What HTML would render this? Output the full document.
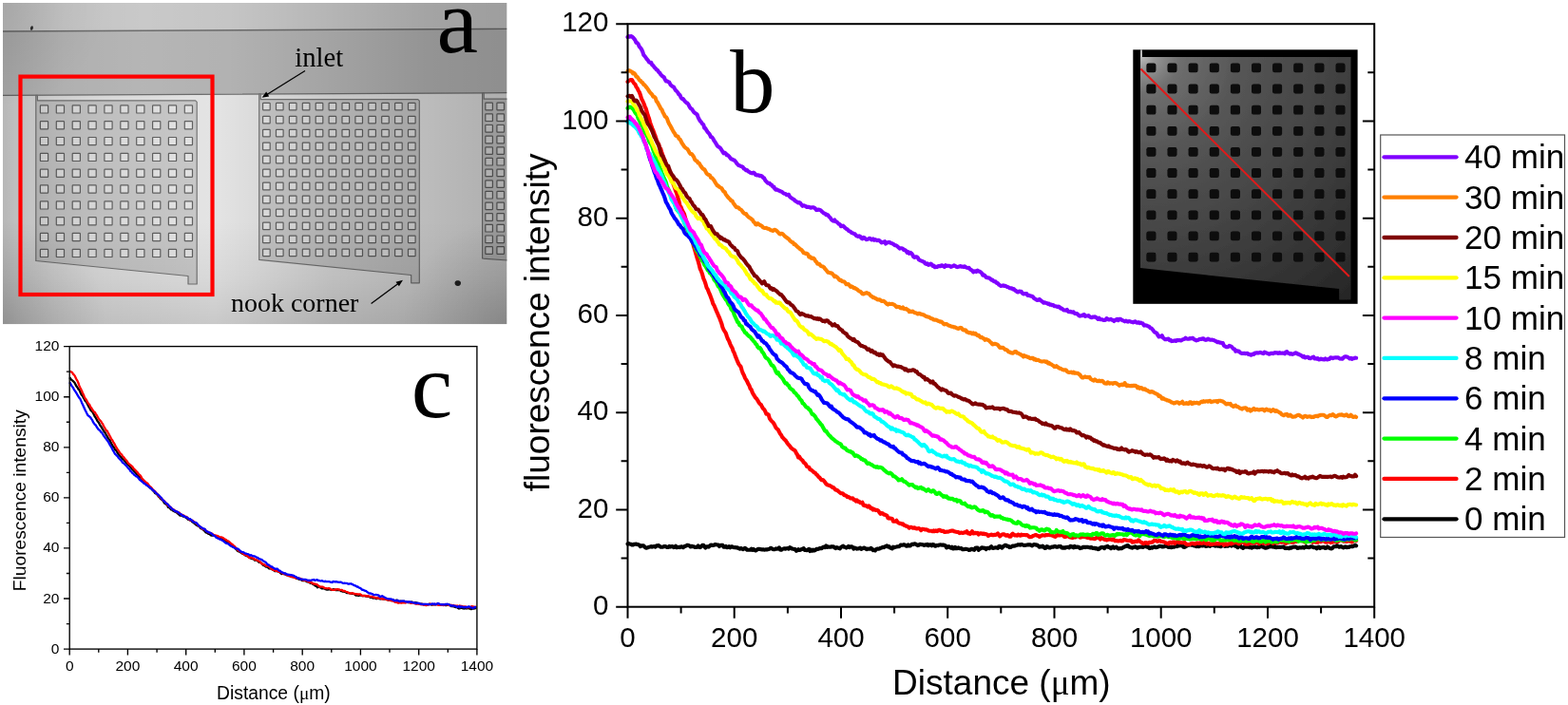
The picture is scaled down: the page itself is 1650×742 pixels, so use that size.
<!DOCTYPE html><html><head><meta charset="utf-8"><style>
html,body{margin:0;padding:0;background:#fff;}body{width:1650px;height:742px;overflow:hidden;}
svg{display:block;} .s{font-family:"Liberation Sans",Arial,sans-serif;} .r{font-family:"Liberation Serif","Times New Roman",serif;}
</style></head><body>
<svg width="1650" height="742" viewBox="0 0 1650 742">
<rect width="1650" height="742" fill="#fff"/>
<defs>
<clipPath id="pc"><rect x="3" y="3" width="530.5" height="338.3"/></clipPath>
<linearGradient id="illx" x1="3" y1="0" x2="533.5" y2="0" gradientUnits="userSpaceOnUse"><stop offset="0" stop-color="#000" stop-opacity="0.13"/><stop offset="0.12" stop-color="#000" stop-opacity="0.05"/><stop offset="0.28" stop-color="#000" stop-opacity="0.02"/><stop offset="0.45" stop-color="#000" stop-opacity="0.04"/><stop offset="0.56" stop-color="#000" stop-opacity="0.08"/><stop offset="0.7" stop-color="#000" stop-opacity="0.14"/><stop offset="0.84" stop-color="#000" stop-opacity="0.2"/><stop offset="1" stop-color="#000" stop-opacity="0.23"/></linearGradient>
<linearGradient id="illl" x1="3" y1="0" x2="533.5" y2="0" gradientUnits="userSpaceOnUse"><stop offset="0" stop-color="#000" stop-opacity="0.20"/><stop offset="0.03" stop-color="#000" stop-opacity="0.16"/><stop offset="0.1" stop-color="#000" stop-opacity="0.10"/><stop offset="0.2" stop-color="#000" stop-opacity="0.05"/><stop offset="0.42" stop-color="#000" stop-opacity="0.0"/><stop offset="0.5" stop-color="#000" stop-opacity="0.04"/><stop offset="0.65" stop-color="#000" stop-opacity="0.12"/><stop offset="0.85" stop-color="#000" stop-opacity="0.18"/><stop offset="1" stop-color="#000" stop-opacity="0.24"/></linearGradient>
<linearGradient id="illv" x1="0" y1="100" x2="0" y2="341.3" gradientUnits="userSpaceOnUse"><stop offset="0" stop-color="#000" stop-opacity="0"/><stop offset="0.55" stop-color="#000" stop-opacity="0.0"/><stop offset="0.8" stop-color="#000" stop-opacity="0.05"/><stop offset="1" stop-color="#000" stop-opacity="0.12"/></linearGradient>
<radialGradient id="cbl" cx="3" cy="341" r="110" gradientUnits="userSpaceOnUse"><stop offset="0" stop-color="#000" stop-opacity="0.10"/><stop offset="1" stop-color="#000" stop-opacity="0"/></radialGradient>
<radialGradient id="cbr" cx="533" cy="341" r="110" gradientUnits="userSpaceOnUse"><stop offset="0" stop-color="#000" stop-opacity="0.12"/><stop offset="1" stop-color="#000" stop-opacity="0"/></radialGradient>
<radialGradient id="ctl" cx="3" cy="3" r="110" gradientUnits="userSpaceOnUse"><stop offset="0" stop-color="#000" stop-opacity="0.07"/><stop offset="1" stop-color="#000" stop-opacity="0"/></radialGradient>
</defs>
<g clip-path="url(#pc)">
<rect x="3" y="3" width="530.5" height="338.3" fill="#e4e4e4"/>
<polygon points="3,3 533.5,3 533.5,30.4 3,33.0" fill="#cdcdcd"/>
<polygon points="3,33.0 533.5,30.4 533.5,97.7 3,100.4" fill="#b9b9b9"/>
<path d="M3,33.0 L533.5,30.4 M3,100.4 L533.5,97.7" stroke="#6e6e6e" stroke-width="1.3" fill="none"/>
<polygon points="37.8,100.4 39.4,100.4 39.4,105.8 205.7,105.8 207.2,107.3 207.2,299.0 198.0,299.0 198.0,290.5 37.8,274.5" fill="#c9c9c9" stroke="#767676" stroke-width="1.2" stroke-linejoin="round"/>
<g fill="#e4e4e4" stroke="#626262" stroke-width="1.2"><rect x="42.4" y="110.8" width="8.2" height="8.2" rx="0.6"/><rect x="59.3" y="110.8" width="8.2" height="8.2" rx="0.6"/><rect x="76.2" y="110.8" width="8.2" height="8.2" rx="0.6"/><rect x="93.0" y="110.8" width="8.2" height="8.2" rx="0.6"/><rect x="109.9" y="110.8" width="8.2" height="8.2" rx="0.6"/><rect x="126.8" y="110.8" width="8.2" height="8.2" rx="0.6"/><rect x="143.7" y="110.8" width="8.2" height="8.2" rx="0.6"/><rect x="160.6" y="110.8" width="8.2" height="8.2" rx="0.6"/><rect x="177.4" y="110.8" width="8.2" height="8.2" rx="0.6"/><rect x="194.3" y="110.8" width="8.2" height="8.2" rx="0.6"/><rect x="42.4" y="127.6" width="8.2" height="8.2" rx="0.6"/><rect x="59.3" y="127.6" width="8.2" height="8.2" rx="0.6"/><rect x="76.2" y="127.6" width="8.2" height="8.2" rx="0.6"/><rect x="93.0" y="127.6" width="8.2" height="8.2" rx="0.6"/><rect x="109.9" y="127.6" width="8.2" height="8.2" rx="0.6"/><rect x="126.8" y="127.6" width="8.2" height="8.2" rx="0.6"/><rect x="143.7" y="127.6" width="8.2" height="8.2" rx="0.6"/><rect x="160.6" y="127.6" width="8.2" height="8.2" rx="0.6"/><rect x="177.4" y="127.6" width="8.2" height="8.2" rx="0.6"/><rect x="194.3" y="127.6" width="8.2" height="8.2" rx="0.6"/><rect x="42.4" y="144.5" width="8.2" height="8.2" rx="0.6"/><rect x="59.3" y="144.5" width="8.2" height="8.2" rx="0.6"/><rect x="76.2" y="144.5" width="8.2" height="8.2" rx="0.6"/><rect x="93.0" y="144.5" width="8.2" height="8.2" rx="0.6"/><rect x="109.9" y="144.5" width="8.2" height="8.2" rx="0.6"/><rect x="126.8" y="144.5" width="8.2" height="8.2" rx="0.6"/><rect x="143.7" y="144.5" width="8.2" height="8.2" rx="0.6"/><rect x="160.6" y="144.5" width="8.2" height="8.2" rx="0.6"/><rect x="177.4" y="144.5" width="8.2" height="8.2" rx="0.6"/><rect x="194.3" y="144.5" width="8.2" height="8.2" rx="0.6"/><rect x="42.4" y="161.3" width="8.2" height="8.2" rx="0.6"/><rect x="59.3" y="161.3" width="8.2" height="8.2" rx="0.6"/><rect x="76.2" y="161.3" width="8.2" height="8.2" rx="0.6"/><rect x="93.0" y="161.3" width="8.2" height="8.2" rx="0.6"/><rect x="109.9" y="161.3" width="8.2" height="8.2" rx="0.6"/><rect x="126.8" y="161.3" width="8.2" height="8.2" rx="0.6"/><rect x="143.7" y="161.3" width="8.2" height="8.2" rx="0.6"/><rect x="160.6" y="161.3" width="8.2" height="8.2" rx="0.6"/><rect x="177.4" y="161.3" width="8.2" height="8.2" rx="0.6"/><rect x="194.3" y="161.3" width="8.2" height="8.2" rx="0.6"/><rect x="42.4" y="178.1" width="8.2" height="8.2" rx="0.6"/><rect x="59.3" y="178.1" width="8.2" height="8.2" rx="0.6"/><rect x="76.2" y="178.1" width="8.2" height="8.2" rx="0.6"/><rect x="93.0" y="178.1" width="8.2" height="8.2" rx="0.6"/><rect x="109.9" y="178.1" width="8.2" height="8.2" rx="0.6"/><rect x="126.8" y="178.1" width="8.2" height="8.2" rx="0.6"/><rect x="143.7" y="178.1" width="8.2" height="8.2" rx="0.6"/><rect x="160.6" y="178.1" width="8.2" height="8.2" rx="0.6"/><rect x="177.4" y="178.1" width="8.2" height="8.2" rx="0.6"/><rect x="194.3" y="178.1" width="8.2" height="8.2" rx="0.6"/><rect x="42.4" y="194.9" width="8.2" height="8.2" rx="0.6"/><rect x="59.3" y="194.9" width="8.2" height="8.2" rx="0.6"/><rect x="76.2" y="194.9" width="8.2" height="8.2" rx="0.6"/><rect x="93.0" y="194.9" width="8.2" height="8.2" rx="0.6"/><rect x="109.9" y="194.9" width="8.2" height="8.2" rx="0.6"/><rect x="126.8" y="194.9" width="8.2" height="8.2" rx="0.6"/><rect x="143.7" y="194.9" width="8.2" height="8.2" rx="0.6"/><rect x="160.6" y="194.9" width="8.2" height="8.2" rx="0.6"/><rect x="177.4" y="194.9" width="8.2" height="8.2" rx="0.6"/><rect x="194.3" y="194.9" width="8.2" height="8.2" rx="0.6"/><rect x="42.4" y="211.8" width="8.2" height="8.2" rx="0.6"/><rect x="59.3" y="211.8" width="8.2" height="8.2" rx="0.6"/><rect x="76.2" y="211.8" width="8.2" height="8.2" rx="0.6"/><rect x="93.0" y="211.8" width="8.2" height="8.2" rx="0.6"/><rect x="109.9" y="211.8" width="8.2" height="8.2" rx="0.6"/><rect x="126.8" y="211.8" width="8.2" height="8.2" rx="0.6"/><rect x="143.7" y="211.8" width="8.2" height="8.2" rx="0.6"/><rect x="160.6" y="211.8" width="8.2" height="8.2" rx="0.6"/><rect x="177.4" y="211.8" width="8.2" height="8.2" rx="0.6"/><rect x="194.3" y="211.8" width="8.2" height="8.2" rx="0.6"/><rect x="42.4" y="228.6" width="8.2" height="8.2" rx="0.6"/><rect x="59.3" y="228.6" width="8.2" height="8.2" rx="0.6"/><rect x="76.2" y="228.6" width="8.2" height="8.2" rx="0.6"/><rect x="93.0" y="228.6" width="8.2" height="8.2" rx="0.6"/><rect x="109.9" y="228.6" width="8.2" height="8.2" rx="0.6"/><rect x="126.8" y="228.6" width="8.2" height="8.2" rx="0.6"/><rect x="143.7" y="228.6" width="8.2" height="8.2" rx="0.6"/><rect x="160.6" y="228.6" width="8.2" height="8.2" rx="0.6"/><rect x="177.4" y="228.6" width="8.2" height="8.2" rx="0.6"/><rect x="194.3" y="228.6" width="8.2" height="8.2" rx="0.6"/><rect x="42.4" y="245.4" width="8.2" height="8.2" rx="0.6"/><rect x="59.3" y="245.4" width="8.2" height="8.2" rx="0.6"/><rect x="76.2" y="245.4" width="8.2" height="8.2" rx="0.6"/><rect x="93.0" y="245.4" width="8.2" height="8.2" rx="0.6"/><rect x="109.9" y="245.4" width="8.2" height="8.2" rx="0.6"/><rect x="126.8" y="245.4" width="8.2" height="8.2" rx="0.6"/><rect x="143.7" y="245.4" width="8.2" height="8.2" rx="0.6"/><rect x="160.6" y="245.4" width="8.2" height="8.2" rx="0.6"/><rect x="177.4" y="245.4" width="8.2" height="8.2" rx="0.6"/><rect x="194.3" y="245.4" width="8.2" height="8.2" rx="0.6"/><rect x="42.4" y="262.3" width="8.2" height="8.2" rx="0.6"/><rect x="59.3" y="262.3" width="8.2" height="8.2" rx="0.6"/><rect x="76.2" y="262.3" width="8.2" height="8.2" rx="0.6"/><rect x="93.0" y="262.3" width="8.2" height="8.2" rx="0.6"/><rect x="109.9" y="262.3" width="8.2" height="8.2" rx="0.6"/><rect x="126.8" y="262.3" width="8.2" height="8.2" rx="0.6"/><rect x="143.7" y="262.3" width="8.2" height="8.2" rx="0.6"/><rect x="160.6" y="262.3" width="8.2" height="8.2" rx="0.6"/><rect x="177.4" y="262.3" width="8.2" height="8.2" rx="0.6"/><rect x="194.3" y="262.3" width="8.2" height="8.2" rx="0.6"/></g>
<polygon points="272.7,98.9 274.3,98.9 274.3,104.6 439.8,104.6 441.3,106.1 441.3,297.8 432.7,297.8 432.7,289.5 272.7,273.4" fill="#c9c9c9" stroke="#767676" stroke-width="1.2" stroke-linejoin="round"/>
<g fill="#e4e4e4" stroke="#626262" stroke-width="1.2"><rect x="276.6" y="108.3" width="7.6" height="7.6" rx="0.6"/><rect x="290.5" y="108.3" width="7.6" height="7.6" rx="0.6"/><rect x="304.4" y="108.3" width="7.6" height="7.6" rx="0.6"/><rect x="318.3" y="108.3" width="7.6" height="7.6" rx="0.6"/><rect x="332.2" y="108.3" width="7.6" height="7.6" rx="0.6"/><rect x="346.1" y="108.3" width="7.6" height="7.6" rx="0.6"/><rect x="360.0" y="108.3" width="7.6" height="7.6" rx="0.6"/><rect x="373.9" y="108.3" width="7.6" height="7.6" rx="0.6"/><rect x="387.8" y="108.3" width="7.6" height="7.6" rx="0.6"/><rect x="401.7" y="108.3" width="7.6" height="7.6" rx="0.6"/><rect x="415.6" y="108.3" width="7.6" height="7.6" rx="0.6"/><rect x="429.5" y="108.3" width="7.6" height="7.6" rx="0.6"/><rect x="276.6" y="122.3" width="7.6" height="7.6" rx="0.6"/><rect x="290.5" y="122.3" width="7.6" height="7.6" rx="0.6"/><rect x="304.4" y="122.3" width="7.6" height="7.6" rx="0.6"/><rect x="318.3" y="122.3" width="7.6" height="7.6" rx="0.6"/><rect x="332.2" y="122.3" width="7.6" height="7.6" rx="0.6"/><rect x="346.1" y="122.3" width="7.6" height="7.6" rx="0.6"/><rect x="360.0" y="122.3" width="7.6" height="7.6" rx="0.6"/><rect x="373.9" y="122.3" width="7.6" height="7.6" rx="0.6"/><rect x="387.8" y="122.3" width="7.6" height="7.6" rx="0.6"/><rect x="401.7" y="122.3" width="7.6" height="7.6" rx="0.6"/><rect x="415.6" y="122.3" width="7.6" height="7.6" rx="0.6"/><rect x="429.5" y="122.3" width="7.6" height="7.6" rx="0.6"/><rect x="276.6" y="136.3" width="7.6" height="7.6" rx="0.6"/><rect x="290.5" y="136.3" width="7.6" height="7.6" rx="0.6"/><rect x="304.4" y="136.3" width="7.6" height="7.6" rx="0.6"/><rect x="318.3" y="136.3" width="7.6" height="7.6" rx="0.6"/><rect x="332.2" y="136.3" width="7.6" height="7.6" rx="0.6"/><rect x="346.1" y="136.3" width="7.6" height="7.6" rx="0.6"/><rect x="360.0" y="136.3" width="7.6" height="7.6" rx="0.6"/><rect x="373.9" y="136.3" width="7.6" height="7.6" rx="0.6"/><rect x="387.8" y="136.3" width="7.6" height="7.6" rx="0.6"/><rect x="401.7" y="136.3" width="7.6" height="7.6" rx="0.6"/><rect x="415.6" y="136.3" width="7.6" height="7.6" rx="0.6"/><rect x="429.5" y="136.3" width="7.6" height="7.6" rx="0.6"/><rect x="276.6" y="150.2" width="7.6" height="7.6" rx="0.6"/><rect x="290.5" y="150.2" width="7.6" height="7.6" rx="0.6"/><rect x="304.4" y="150.2" width="7.6" height="7.6" rx="0.6"/><rect x="318.3" y="150.2" width="7.6" height="7.6" rx="0.6"/><rect x="332.2" y="150.2" width="7.6" height="7.6" rx="0.6"/><rect x="346.1" y="150.2" width="7.6" height="7.6" rx="0.6"/><rect x="360.0" y="150.2" width="7.6" height="7.6" rx="0.6"/><rect x="373.9" y="150.2" width="7.6" height="7.6" rx="0.6"/><rect x="387.8" y="150.2" width="7.6" height="7.6" rx="0.6"/><rect x="401.7" y="150.2" width="7.6" height="7.6" rx="0.6"/><rect x="415.6" y="150.2" width="7.6" height="7.6" rx="0.6"/><rect x="429.5" y="150.2" width="7.6" height="7.6" rx="0.6"/><rect x="276.6" y="164.2" width="7.6" height="7.6" rx="0.6"/><rect x="290.5" y="164.2" width="7.6" height="7.6" rx="0.6"/><rect x="304.4" y="164.2" width="7.6" height="7.6" rx="0.6"/><rect x="318.3" y="164.2" width="7.6" height="7.6" rx="0.6"/><rect x="332.2" y="164.2" width="7.6" height="7.6" rx="0.6"/><rect x="346.1" y="164.2" width="7.6" height="7.6" rx="0.6"/><rect x="360.0" y="164.2" width="7.6" height="7.6" rx="0.6"/><rect x="373.9" y="164.2" width="7.6" height="7.6" rx="0.6"/><rect x="387.8" y="164.2" width="7.6" height="7.6" rx="0.6"/><rect x="401.7" y="164.2" width="7.6" height="7.6" rx="0.6"/><rect x="415.6" y="164.2" width="7.6" height="7.6" rx="0.6"/><rect x="429.5" y="164.2" width="7.6" height="7.6" rx="0.6"/><rect x="276.6" y="178.2" width="7.6" height="7.6" rx="0.6"/><rect x="290.5" y="178.2" width="7.6" height="7.6" rx="0.6"/><rect x="304.4" y="178.2" width="7.6" height="7.6" rx="0.6"/><rect x="318.3" y="178.2" width="7.6" height="7.6" rx="0.6"/><rect x="332.2" y="178.2" width="7.6" height="7.6" rx="0.6"/><rect x="346.1" y="178.2" width="7.6" height="7.6" rx="0.6"/><rect x="360.0" y="178.2" width="7.6" height="7.6" rx="0.6"/><rect x="373.9" y="178.2" width="7.6" height="7.6" rx="0.6"/><rect x="387.8" y="178.2" width="7.6" height="7.6" rx="0.6"/><rect x="401.7" y="178.2" width="7.6" height="7.6" rx="0.6"/><rect x="415.6" y="178.2" width="7.6" height="7.6" rx="0.6"/><rect x="429.5" y="178.2" width="7.6" height="7.6" rx="0.6"/><rect x="276.6" y="192.2" width="7.6" height="7.6" rx="0.6"/><rect x="290.5" y="192.2" width="7.6" height="7.6" rx="0.6"/><rect x="304.4" y="192.2" width="7.6" height="7.6" rx="0.6"/><rect x="318.3" y="192.2" width="7.6" height="7.6" rx="0.6"/><rect x="332.2" y="192.2" width="7.6" height="7.6" rx="0.6"/><rect x="346.1" y="192.2" width="7.6" height="7.6" rx="0.6"/><rect x="360.0" y="192.2" width="7.6" height="7.6" rx="0.6"/><rect x="373.9" y="192.2" width="7.6" height="7.6" rx="0.6"/><rect x="387.8" y="192.2" width="7.6" height="7.6" rx="0.6"/><rect x="401.7" y="192.2" width="7.6" height="7.6" rx="0.6"/><rect x="415.6" y="192.2" width="7.6" height="7.6" rx="0.6"/><rect x="429.5" y="192.2" width="7.6" height="7.6" rx="0.6"/><rect x="276.6" y="206.2" width="7.6" height="7.6" rx="0.6"/><rect x="290.5" y="206.2" width="7.6" height="7.6" rx="0.6"/><rect x="304.4" y="206.2" width="7.6" height="7.6" rx="0.6"/><rect x="318.3" y="206.2" width="7.6" height="7.6" rx="0.6"/><rect x="332.2" y="206.2" width="7.6" height="7.6" rx="0.6"/><rect x="346.1" y="206.2" width="7.6" height="7.6" rx="0.6"/><rect x="360.0" y="206.2" width="7.6" height="7.6" rx="0.6"/><rect x="373.9" y="206.2" width="7.6" height="7.6" rx="0.6"/><rect x="387.8" y="206.2" width="7.6" height="7.6" rx="0.6"/><rect x="401.7" y="206.2" width="7.6" height="7.6" rx="0.6"/><rect x="415.6" y="206.2" width="7.6" height="7.6" rx="0.6"/><rect x="429.5" y="206.2" width="7.6" height="7.6" rx="0.6"/><rect x="276.6" y="220.1" width="7.6" height="7.6" rx="0.6"/><rect x="290.5" y="220.1" width="7.6" height="7.6" rx="0.6"/><rect x="304.4" y="220.1" width="7.6" height="7.6" rx="0.6"/><rect x="318.3" y="220.1" width="7.6" height="7.6" rx="0.6"/><rect x="332.2" y="220.1" width="7.6" height="7.6" rx="0.6"/><rect x="346.1" y="220.1" width="7.6" height="7.6" rx="0.6"/><rect x="360.0" y="220.1" width="7.6" height="7.6" rx="0.6"/><rect x="373.9" y="220.1" width="7.6" height="7.6" rx="0.6"/><rect x="387.8" y="220.1" width="7.6" height="7.6" rx="0.6"/><rect x="401.7" y="220.1" width="7.6" height="7.6" rx="0.6"/><rect x="415.6" y="220.1" width="7.6" height="7.6" rx="0.6"/><rect x="429.5" y="220.1" width="7.6" height="7.6" rx="0.6"/><rect x="276.6" y="234.1" width="7.6" height="7.6" rx="0.6"/><rect x="290.5" y="234.1" width="7.6" height="7.6" rx="0.6"/><rect x="304.4" y="234.1" width="7.6" height="7.6" rx="0.6"/><rect x="318.3" y="234.1" width="7.6" height="7.6" rx="0.6"/><rect x="332.2" y="234.1" width="7.6" height="7.6" rx="0.6"/><rect x="346.1" y="234.1" width="7.6" height="7.6" rx="0.6"/><rect x="360.0" y="234.1" width="7.6" height="7.6" rx="0.6"/><rect x="373.9" y="234.1" width="7.6" height="7.6" rx="0.6"/><rect x="387.8" y="234.1" width="7.6" height="7.6" rx="0.6"/><rect x="401.7" y="234.1" width="7.6" height="7.6" rx="0.6"/><rect x="415.6" y="234.1" width="7.6" height="7.6" rx="0.6"/><rect x="429.5" y="234.1" width="7.6" height="7.6" rx="0.6"/><rect x="276.6" y="248.1" width="7.6" height="7.6" rx="0.6"/><rect x="290.5" y="248.1" width="7.6" height="7.6" rx="0.6"/><rect x="304.4" y="248.1" width="7.6" height="7.6" rx="0.6"/><rect x="318.3" y="248.1" width="7.6" height="7.6" rx="0.6"/><rect x="332.2" y="248.1" width="7.6" height="7.6" rx="0.6"/><rect x="346.1" y="248.1" width="7.6" height="7.6" rx="0.6"/><rect x="360.0" y="248.1" width="7.6" height="7.6" rx="0.6"/><rect x="373.9" y="248.1" width="7.6" height="7.6" rx="0.6"/><rect x="387.8" y="248.1" width="7.6" height="7.6" rx="0.6"/><rect x="401.7" y="248.1" width="7.6" height="7.6" rx="0.6"/><rect x="415.6" y="248.1" width="7.6" height="7.6" rx="0.6"/><rect x="429.5" y="248.1" width="7.6" height="7.6" rx="0.6"/><rect x="276.6" y="262.1" width="7.6" height="7.6" rx="0.6"/><rect x="290.5" y="262.1" width="7.6" height="7.6" rx="0.6"/><rect x="304.4" y="262.1" width="7.6" height="7.6" rx="0.6"/><rect x="318.3" y="262.1" width="7.6" height="7.6" rx="0.6"/><rect x="332.2" y="262.1" width="7.6" height="7.6" rx="0.6"/><rect x="346.1" y="262.1" width="7.6" height="7.6" rx="0.6"/><rect x="360.0" y="262.1" width="7.6" height="7.6" rx="0.6"/><rect x="373.9" y="262.1" width="7.6" height="7.6" rx="0.6"/><rect x="387.8" y="262.1" width="7.6" height="7.6" rx="0.6"/><rect x="401.7" y="262.1" width="7.6" height="7.6" rx="0.6"/><rect x="415.6" y="262.1" width="7.6" height="7.6" rx="0.6"/><rect x="429.5" y="262.1" width="7.6" height="7.6" rx="0.6"/></g>
<polygon points="507.6,97.9 509.2,97.9 509.2,104.2 558.5,104.2 560.0,105.7 560.0,276.0 560.0,276.0 560.0,276.0 507.6,272.0" fill="#c9c9c9" stroke="#767676" stroke-width="1.2" stroke-linejoin="round"/>
<g fill="#e4e4e4" stroke="#626262" stroke-width="1.2"><rect x="510.8" y="108.2" width="7.6" height="7.6" rx="0.6"/><rect x="522.9" y="108.2" width="7.6" height="7.6" rx="0.6"/><rect x="535.0" y="108.2" width="7.6" height="7.6" rx="0.6"/><rect x="510.8" y="119.9" width="7.6" height="7.6" rx="0.6"/><rect x="522.9" y="119.9" width="7.6" height="7.6" rx="0.6"/><rect x="535.0" y="119.9" width="7.6" height="7.6" rx="0.6"/><rect x="510.8" y="131.5" width="7.6" height="7.6" rx="0.6"/><rect x="522.9" y="131.5" width="7.6" height="7.6" rx="0.6"/><rect x="535.0" y="131.5" width="7.6" height="7.6" rx="0.6"/><rect x="510.8" y="143.2" width="7.6" height="7.6" rx="0.6"/><rect x="522.9" y="143.2" width="7.6" height="7.6" rx="0.6"/><rect x="535.0" y="143.2" width="7.6" height="7.6" rx="0.6"/><rect x="510.8" y="154.8" width="7.6" height="7.6" rx="0.6"/><rect x="522.9" y="154.8" width="7.6" height="7.6" rx="0.6"/><rect x="535.0" y="154.8" width="7.6" height="7.6" rx="0.6"/><rect x="510.8" y="166.4" width="7.6" height="7.6" rx="0.6"/><rect x="522.9" y="166.4" width="7.6" height="7.6" rx="0.6"/><rect x="535.0" y="166.4" width="7.6" height="7.6" rx="0.6"/><rect x="510.8" y="178.1" width="7.6" height="7.6" rx="0.6"/><rect x="522.9" y="178.1" width="7.6" height="7.6" rx="0.6"/><rect x="535.0" y="178.1" width="7.6" height="7.6" rx="0.6"/><rect x="510.8" y="189.8" width="7.6" height="7.6" rx="0.6"/><rect x="522.9" y="189.8" width="7.6" height="7.6" rx="0.6"/><rect x="535.0" y="189.8" width="7.6" height="7.6" rx="0.6"/><rect x="510.8" y="201.4" width="7.6" height="7.6" rx="0.6"/><rect x="522.9" y="201.4" width="7.6" height="7.6" rx="0.6"/><rect x="535.0" y="201.4" width="7.6" height="7.6" rx="0.6"/><rect x="510.8" y="213.1" width="7.6" height="7.6" rx="0.6"/><rect x="522.9" y="213.1" width="7.6" height="7.6" rx="0.6"/><rect x="535.0" y="213.1" width="7.6" height="7.6" rx="0.6"/><rect x="510.8" y="224.7" width="7.6" height="7.6" rx="0.6"/><rect x="522.9" y="224.7" width="7.6" height="7.6" rx="0.6"/><rect x="535.0" y="224.7" width="7.6" height="7.6" rx="0.6"/><rect x="510.8" y="236.4" width="7.6" height="7.6" rx="0.6"/><rect x="522.9" y="236.4" width="7.6" height="7.6" rx="0.6"/><rect x="535.0" y="236.4" width="7.6" height="7.6" rx="0.6"/><rect x="510.8" y="248.0" width="7.6" height="7.6" rx="0.6"/><rect x="522.9" y="248.0" width="7.6" height="7.6" rx="0.6"/><rect x="535.0" y="248.0" width="7.6" height="7.6" rx="0.6"/><rect x="510.8" y="259.7" width="7.6" height="7.6" rx="0.6"/><rect x="522.9" y="259.7" width="7.6" height="7.6" rx="0.6"/><rect x="535.0" y="259.7" width="7.6" height="7.6" rx="0.6"/></g>
<polygon points="3,3 533.5,3 533.5,97.7 3,100.4" fill="url(#illx)"/>
<polygon points="3,100.4 533.5,97.7 533.5,341.3 3,341.3" fill="url(#illl)"/>
<polygon points="3,100.4 533.5,97.7 533.5,341.3 3,341.3" fill="url(#illv)"/>
<rect x="3" y="3" width="530.5" height="338.3" fill="url(#cbl)"/>
<rect x="3" y="3" width="530.5" height="338.3" fill="url(#cbr)"/>
<rect x="3" y="3" width="530.5" height="338.3" fill="url(#ctl)"/>
<path d="M478.6,297.2 C479.2,294.9 483.2,294.8 484.6,296.6 C485.6,298.2 484.6,300.9 482.2,301.1 C479.8,301.3 478.1,299.3 478.6,297.2 Z" fill="#1c1c1c"/>
<path d="M31.9,30.2 C31.8,28.2 33.3,26.9 34.4,27.4 C35.3,28.0 35.0,30.6 33.8,31.6 C32.8,32.3 32.0,31.5 31.9,30.2 Z" fill="#2a2a2a"/>
</g>
<rect x="21.5" y="80.6" width="202" height="229.4" fill="none" stroke="#ff0000" stroke-width="4.2"/>
<line x1="321.0" y1="74.5" x2="280.9" y2="99.5" stroke="#000" stroke-width="1.3"/>
<polygon points="275.6,102.8 280.2,96.5 283.2,101.5" fill="#000"/>
<line x1="390.6" y1="319.5" x2="419.0" y2="298.4" stroke="#000" stroke-width="1.3"/>
<polygon points="424.0,294.7 419.9,301.3 416.5,296.7" fill="#000"/>
<text class="r" x="310.3" y="69.6" font-size="28.6">inlet</text>
<text class="r" x="242.9" y="327.7" font-size="28">nook corner</text>
<text class="r" x="459.5" y="55.3" font-size="98">a</text>
<defs><radialGradient id="ing" cx="1201" cy="58" r="340" gradientUnits="userSpaceOnUse"><stop offset="0" stop-color="#c0c0c0"/><stop offset="0.04" stop-color="#969696"/><stop offset="0.12" stop-color="#6e6e6e"/><stop offset="0.3" stop-color="#565656"/><stop offset="0.46" stop-color="#4b4b4b"/><stop offset="0.6" stop-color="#424242"/><stop offset="0.87" stop-color="#2e2e2e"/><stop offset="1" stop-color="#262626"/></radialGradient><filter id="blr" x="-5%" y="-5%" width="110%" height="110%"><feGaussianBlur stdDeviation="0.7"/></filter></defs>
<rect x="1192.3" y="52.3" width="236.3" height="267.5" fill="#000"/>
<g filter="url(#blr)">
<polygon points="1200,52.3 1202,52.3 1202,59.9 1421.5,59.9 1421.5,315.5 1409.2,315.5 1409.2,304.1 1200,282.1" fill="url(#ing)"/>
<g fill="#080808"><rect x="1206.4" y="66.5" width="10" height="9.8" rx="2.2"/><rect x="1228.5" y="66.5" width="10" height="9.8" rx="2.2"/><rect x="1250.6" y="66.5" width="10" height="9.8" rx="2.2"/><rect x="1272.8" y="66.5" width="10" height="9.8" rx="2.2"/><rect x="1294.9" y="66.5" width="10" height="9.8" rx="2.2"/><rect x="1317.0" y="66.5" width="10" height="9.8" rx="2.2"/><rect x="1339.1" y="66.5" width="10" height="9.8" rx="2.2"/><rect x="1361.2" y="66.5" width="10" height="9.8" rx="2.2"/><rect x="1383.4" y="66.5" width="10" height="9.8" rx="2.2"/><rect x="1405.5" y="66.5" width="10" height="9.8" rx="2.2"/><rect x="1206.4" y="88.6" width="10" height="9.8" rx="2.2"/><rect x="1228.5" y="88.6" width="10" height="9.8" rx="2.2"/><rect x="1250.6" y="88.6" width="10" height="9.8" rx="2.2"/><rect x="1272.8" y="88.6" width="10" height="9.8" rx="2.2"/><rect x="1294.9" y="88.6" width="10" height="9.8" rx="2.2"/><rect x="1317.0" y="88.6" width="10" height="9.8" rx="2.2"/><rect x="1339.1" y="88.6" width="10" height="9.8" rx="2.2"/><rect x="1361.2" y="88.6" width="10" height="9.8" rx="2.2"/><rect x="1383.4" y="88.6" width="10" height="9.8" rx="2.2"/><rect x="1405.5" y="88.6" width="10" height="9.8" rx="2.2"/><rect x="1206.4" y="110.8" width="10" height="9.8" rx="2.2"/><rect x="1228.5" y="110.8" width="10" height="9.8" rx="2.2"/><rect x="1250.6" y="110.8" width="10" height="9.8" rx="2.2"/><rect x="1272.8" y="110.8" width="10" height="9.8" rx="2.2"/><rect x="1294.9" y="110.8" width="10" height="9.8" rx="2.2"/><rect x="1317.0" y="110.8" width="10" height="9.8" rx="2.2"/><rect x="1339.1" y="110.8" width="10" height="9.8" rx="2.2"/><rect x="1361.2" y="110.8" width="10" height="9.8" rx="2.2"/><rect x="1383.4" y="110.8" width="10" height="9.8" rx="2.2"/><rect x="1405.5" y="110.8" width="10" height="9.8" rx="2.2"/><rect x="1206.4" y="132.9" width="10" height="9.8" rx="2.2"/><rect x="1228.5" y="132.9" width="10" height="9.8" rx="2.2"/><rect x="1250.6" y="132.9" width="10" height="9.8" rx="2.2"/><rect x="1272.8" y="132.9" width="10" height="9.8" rx="2.2"/><rect x="1294.9" y="132.9" width="10" height="9.8" rx="2.2"/><rect x="1317.0" y="132.9" width="10" height="9.8" rx="2.2"/><rect x="1339.1" y="132.9" width="10" height="9.8" rx="2.2"/><rect x="1361.2" y="132.9" width="10" height="9.8" rx="2.2"/><rect x="1383.4" y="132.9" width="10" height="9.8" rx="2.2"/><rect x="1405.5" y="132.9" width="10" height="9.8" rx="2.2"/><rect x="1206.4" y="155.0" width="10" height="9.8" rx="2.2"/><rect x="1228.5" y="155.0" width="10" height="9.8" rx="2.2"/><rect x="1250.6" y="155.0" width="10" height="9.8" rx="2.2"/><rect x="1272.8" y="155.0" width="10" height="9.8" rx="2.2"/><rect x="1294.9" y="155.0" width="10" height="9.8" rx="2.2"/><rect x="1317.0" y="155.0" width="10" height="9.8" rx="2.2"/><rect x="1339.1" y="155.0" width="10" height="9.8" rx="2.2"/><rect x="1361.2" y="155.0" width="10" height="9.8" rx="2.2"/><rect x="1383.4" y="155.0" width="10" height="9.8" rx="2.2"/><rect x="1405.5" y="155.0" width="10" height="9.8" rx="2.2"/><rect x="1206.4" y="177.1" width="10" height="9.8" rx="2.2"/><rect x="1228.5" y="177.1" width="10" height="9.8" rx="2.2"/><rect x="1250.6" y="177.1" width="10" height="9.8" rx="2.2"/><rect x="1272.8" y="177.1" width="10" height="9.8" rx="2.2"/><rect x="1294.9" y="177.1" width="10" height="9.8" rx="2.2"/><rect x="1317.0" y="177.1" width="10" height="9.8" rx="2.2"/><rect x="1339.1" y="177.1" width="10" height="9.8" rx="2.2"/><rect x="1361.2" y="177.1" width="10" height="9.8" rx="2.2"/><rect x="1383.4" y="177.1" width="10" height="9.8" rx="2.2"/><rect x="1405.5" y="177.1" width="10" height="9.8" rx="2.2"/><rect x="1206.4" y="199.3" width="10" height="9.8" rx="2.2"/><rect x="1228.5" y="199.3" width="10" height="9.8" rx="2.2"/><rect x="1250.6" y="199.3" width="10" height="9.8" rx="2.2"/><rect x="1272.8" y="199.3" width="10" height="9.8" rx="2.2"/><rect x="1294.9" y="199.3" width="10" height="9.8" rx="2.2"/><rect x="1317.0" y="199.3" width="10" height="9.8" rx="2.2"/><rect x="1339.1" y="199.3" width="10" height="9.8" rx="2.2"/><rect x="1361.2" y="199.3" width="10" height="9.8" rx="2.2"/><rect x="1383.4" y="199.3" width="10" height="9.8" rx="2.2"/><rect x="1405.5" y="199.3" width="10" height="9.8" rx="2.2"/><rect x="1206.4" y="221.4" width="10" height="9.8" rx="2.2"/><rect x="1228.5" y="221.4" width="10" height="9.8" rx="2.2"/><rect x="1250.6" y="221.4" width="10" height="9.8" rx="2.2"/><rect x="1272.8" y="221.4" width="10" height="9.8" rx="2.2"/><rect x="1294.9" y="221.4" width="10" height="9.8" rx="2.2"/><rect x="1317.0" y="221.4" width="10" height="9.8" rx="2.2"/><rect x="1339.1" y="221.4" width="10" height="9.8" rx="2.2"/><rect x="1361.2" y="221.4" width="10" height="9.8" rx="2.2"/><rect x="1383.4" y="221.4" width="10" height="9.8" rx="2.2"/><rect x="1405.5" y="221.4" width="10" height="9.8" rx="2.2"/><rect x="1206.4" y="243.5" width="10" height="9.8" rx="2.2"/><rect x="1228.5" y="243.5" width="10" height="9.8" rx="2.2"/><rect x="1250.6" y="243.5" width="10" height="9.8" rx="2.2"/><rect x="1272.8" y="243.5" width="10" height="9.8" rx="2.2"/><rect x="1294.9" y="243.5" width="10" height="9.8" rx="2.2"/><rect x="1317.0" y="243.5" width="10" height="9.8" rx="2.2"/><rect x="1339.1" y="243.5" width="10" height="9.8" rx="2.2"/><rect x="1361.2" y="243.5" width="10" height="9.8" rx="2.2"/><rect x="1383.4" y="243.5" width="10" height="9.8" rx="2.2"/><rect x="1405.5" y="243.5" width="10" height="9.8" rx="2.2"/><rect x="1206.4" y="265.7" width="10" height="9.8" rx="2.2"/><rect x="1228.5" y="265.7" width="10" height="9.8" rx="2.2"/><rect x="1250.6" y="265.7" width="10" height="9.8" rx="2.2"/><rect x="1272.8" y="265.7" width="10" height="9.8" rx="2.2"/><rect x="1294.9" y="265.7" width="10" height="9.8" rx="2.2"/><rect x="1317.0" y="265.7" width="10" height="9.8" rx="2.2"/><rect x="1339.1" y="265.7" width="10" height="9.8" rx="2.2"/><rect x="1361.2" y="265.7" width="10" height="9.8" rx="2.2"/><rect x="1383.4" y="265.7" width="10" height="9.8" rx="2.2"/><rect x="1405.5" y="265.7" width="10" height="9.8" rx="2.2"/></g>
</g>
<line x1="1200.4" y1="72.5" x2="1419.8" y2="291" stroke="#e01a1a" stroke-width="2"/>
<g fill="none" stroke-width="4.1" stroke-linejoin="round" stroke-linecap="round">
<path stroke="#000000" d="M660.5,572.4 L661.6,572.1 L662.7,572.5 L663.9,572.8 L665.0,573.5 L666.1,573.5 L667.2,572.7 L668.4,572.8 L669.5,572.6 L670.6,573.1 L671.7,573.3 L672.8,573.7 L674.0,575.2 L675.1,574.4 L676.2,574.3 L677.3,574.3 L678.5,575.8 L679.6,576.6 L680.7,576.6 L681.8,576.3 L682.9,575.7 L684.1,575.5 L685.2,575.1 L686.3,575.6 L687.4,575.3 L688.6,575.0 L689.7,575.6 L690.8,574.4 L691.9,574.4 L693.1,574.0 L694.2,575.0 L695.3,575.6 L696.4,575.7 L697.5,575.6 L698.7,575.1 L699.8,575.0 L700.9,575.4 L702.0,576.0 L703.2,576.0 L704.3,574.9 L705.4,575.6 L706.5,575.3 L707.6,575.0 L708.8,576.1 L709.9,575.7 L711.0,574.7 L712.1,576.3 L713.3,576.0 L714.4,575.8 L715.5,576.1 L716.6,575.4 L717.7,575.4 L718.9,576.2 L720.0,575.2 L721.1,574.8 L722.2,574.3 L723.4,573.7 L724.5,574.1 L725.6,574.4 L726.7,575.5 L727.8,574.8 L729.0,575.2 L730.1,575.3 L731.2,575.9 L732.3,576.0 L733.5,575.7 L734.6,574.4 L735.7,575.8 L736.8,576.1 L737.9,575.2 L739.1,573.9 L740.2,573.8 L741.3,575.3 L742.4,576.5 L743.6,575.3 L744.7,575.3 L745.8,575.6 L746.9,574.4 L748.0,573.6 L749.2,573.9 L750.3,573.9 L751.4,573.8 L752.5,573.1 L753.7,573.3 L754.8,573.5 L755.9,573.6 L757.0,575.0 L758.2,574.0 L759.3,573.7 L760.4,573.8 L761.5,575.6 L762.6,575.7 L763.8,574.9 L764.9,576.3 L766.0,576.1 L767.1,575.2 L768.3,576.4 L769.4,575.3 L770.5,575.4 L771.6,576.0 L772.7,576.2 L773.9,576.1 L775.0,576.5 L776.1,576.2 L777.2,577.2 L778.4,577.7 L779.5,577.0 L780.6,577.4 L781.7,578.2 L782.8,577.5 L784.0,576.8 L785.1,577.7 L786.2,578.8 L787.3,578.7 L788.5,578.7 L789.6,578.8 L790.7,577.7 L791.8,578.8 L792.9,577.9 L794.1,579.1 L795.2,579.4 L796.3,578.7 L797.4,578.0 L798.6,577.8 L799.7,578.0 L800.8,578.3 L801.9,578.4 L803.0,578.2 L804.2,578.6 L805.3,578.5 L806.4,578.2 L807.5,578.4 L808.7,578.0 L809.8,577.8 L810.9,576.8 L812.0,577.2 L813.2,577.9 L814.3,578.2 L815.4,578.1 L816.5,577.4 L817.6,577.7 L818.8,577.5 L819.9,576.3 L821.0,578.5 L822.1,578.8 L823.3,578.0 L824.4,577.5 L825.5,577.3 L826.6,577.7 L827.7,577.2 L828.9,577.1 L830.0,577.7 L831.1,576.1 L832.2,576.6 L833.4,577.5 L834.5,577.7 L835.6,577.9 L836.7,578.0 L837.8,579.8 L839.0,579.4 L840.1,578.2 L841.2,579.0 L842.3,578.7 L843.5,578.0 L844.6,577.7 L845.7,577.1 L846.8,578.9 L847.9,579.0 L849.1,579.1 L850.2,578.5 L851.3,577.9 L852.4,580.0 L853.6,578.7 L854.7,579.6 L855.8,578.7 L856.9,579.5 L858.0,578.9 L859.2,577.8 L860.3,577.9 L861.4,577.7 L862.5,577.1 L863.7,577.1 L864.8,577.1 L865.9,576.0 L867.0,575.6 L868.1,576.1 L869.3,574.4 L870.4,575.9 L871.5,575.4 L872.6,575.8 L873.8,575.7 L874.9,575.3 L876.0,575.4 L877.1,575.2 L878.3,576.4 L879.4,577.1 L880.5,576.1 L881.6,576.6 L882.7,576.9 L883.9,577.4 L885.0,575.9 L886.1,575.4 L887.2,574.6 L888.4,575.8 L889.5,575.8 L890.6,576.6 L891.7,575.9 L892.8,575.0 L894.0,576.1 L895.1,575.2 L896.2,575.2 L897.3,576.0 L898.5,577.7 L899.6,576.5 L900.7,577.0 L901.8,577.6 L902.9,577.4 L904.1,577.3 L905.2,576.6 L906.3,577.9 L907.4,577.3 L908.6,576.8 L909.7,576.5 L910.8,577.4 L911.9,578.2 L913.0,577.6 L914.2,577.7 L915.3,577.8 L916.4,576.9 L917.5,577.5 L918.7,579.1 L919.8,578.7 L920.9,579.4 L922.0,578.0 L923.1,577.5 L924.3,577.7 L925.4,577.4 L926.5,576.7 L927.6,576.7 L928.8,575.8 L929.9,576.1 L931.0,575.6 L932.1,574.9 L933.3,574.4 L934.4,575.5 L935.5,575.1 L936.6,576.5 L937.7,576.8 L938.9,577.4 L940.0,575.7 L941.1,576.3 L942.2,575.7 L943.4,575.5 L944.5,575.2 L945.6,575.3 L946.7,574.8 L947.8,573.5 L949.0,573.8 L950.1,573.7 L951.2,573.2 L952.3,573.7 L953.5,574.6 L954.6,574.6 L955.7,573.4 L956.8,574.5 L957.9,574.4 L959.1,573.2 L960.2,572.7 L961.3,572.9 L962.4,572.4 L963.6,572.5 L964.7,573.4 L965.8,574.1 L966.9,573.8 L968.0,572.7 L969.2,572.9 L970.3,573.3 L971.4,573.4 L972.5,573.9 L973.7,573.3 L974.8,573.6 L975.9,572.8 L977.0,574.2 L978.1,573.2 L979.3,573.3 L980.4,574.3 L981.5,573.1 L982.6,573.2 L983.8,574.6 L984.9,574.6 L986.0,573.9 L987.1,574.1 L988.2,573.6 L989.4,573.4 L990.5,573.5 L991.6,573.8 L992.7,573.5 L993.9,573.9 L995.0,574.4 L996.1,576.4 L997.2,575.7 L998.4,575.1 L999.5,576.0 L1000.6,576.7 L1001.7,575.6 L1002.8,577.5 L1004.0,577.2 L1005.1,575.8 L1006.2,577.3 L1007.3,577.2 L1008.5,576.3 L1009.6,577.2 L1010.7,577.3 L1011.8,577.1 L1012.9,578.2 L1014.1,578.3 L1015.2,578.1 L1016.3,577.7 L1017.4,578.0 L1018.6,578.2 L1019.7,578.9 L1020.8,578.8 L1021.9,577.9 L1023.0,577.9 L1024.2,578.5 L1025.3,578.8 L1026.4,576.7 L1027.5,576.5 L1028.7,576.6 L1029.8,578.8 L1030.9,577.8 L1032.0,577.4 L1033.1,576.3 L1034.3,576.5 L1035.4,576.9 L1036.5,576.7 L1037.6,578.1 L1038.8,577.0 L1039.9,576.7 L1041.0,577.2 L1042.1,576.1 L1043.2,575.2 L1044.4,576.7 L1045.5,577.0 L1046.6,576.5 L1047.7,576.3 L1048.9,576.5 L1050.0,576.9 L1051.1,575.1 L1052.2,574.8 L1053.3,576.0 L1054.5,576.7 L1055.6,575.1 L1056.7,574.6 L1057.8,573.7 L1059.0,573.9 L1060.1,574.9 L1061.2,574.8 L1062.3,576.1 L1063.5,575.9 L1064.6,575.3 L1065.7,574.5 L1066.8,574.8 L1067.9,574.6 L1069.1,574.0 L1070.2,573.7 L1071.3,573.3 L1072.4,573.3 L1073.6,573.6 L1074.7,573.0 L1075.8,573.2 L1076.9,573.8 L1078.0,574.0 L1079.2,573.7 L1080.3,573.6 L1081.4,573.4 L1082.5,573.4 L1083.7,573.3 L1084.8,573.5 L1085.9,574.4 L1087.0,573.8 L1088.1,573.1 L1089.3,573.2 L1090.4,573.7 L1091.5,573.6 L1092.6,574.5 L1093.8,575.7 L1094.9,575.1 L1096.0,575.5 L1097.1,574.7 L1098.2,575.5 L1099.4,577.0 L1100.5,576.8 L1101.6,575.1 L1102.7,575.5 L1103.9,576.4 L1105.0,576.6 L1106.1,575.9 L1107.2,575.6 L1108.3,575.7 L1109.5,575.0 L1110.6,575.1 L1111.7,575.7 L1112.8,575.7 L1114.0,575.0 L1115.1,575.1 L1116.2,575.1 L1117.3,576.5 L1118.5,576.7 L1119.6,576.3 L1120.7,576.7 L1121.8,576.1 L1122.9,576.0 L1124.1,575.8 L1125.2,576.4 L1126.3,574.9 L1127.4,575.0 L1128.6,575.9 L1129.7,576.3 L1130.8,574.8 L1131.9,575.9 L1133.0,575.7 L1134.2,575.5 L1135.3,576.1 L1136.4,577.1 L1137.5,576.8 L1138.7,576.5 L1139.8,575.8 L1140.9,575.7 L1142.0,576.1 L1143.1,575.7 L1144.3,575.8 L1145.4,576.0 L1146.5,576.2 L1147.6,576.5 L1148.8,576.0 L1149.9,576.9 L1151.0,577.1 L1152.1,576.7 L1153.2,577.5 L1154.4,577.2 L1155.5,578.1 L1156.6,577.7 L1157.7,576.7 L1158.9,576.1 L1160.0,576.1 L1161.1,576.3 L1162.2,577.1 L1163.3,575.5 L1164.5,575.4 L1165.6,574.9 L1166.7,576.0 L1167.8,576.1 L1169.0,577.2 L1170.1,576.1 L1171.2,575.4 L1172.3,576.8 L1173.4,576.4 L1174.6,575.7 L1175.7,576.8 L1176.8,577.5 L1177.9,577.4 L1179.1,577.0 L1180.2,577.3 L1181.3,576.5 L1182.4,575.9 L1183.6,575.3 L1184.7,575.0 L1185.8,574.2 L1186.9,574.0 L1188.0,575.5 L1189.2,575.8 L1190.3,576.3 L1191.4,576.6 L1192.5,576.1 L1193.7,575.8 L1194.8,575.3 L1195.9,576.3 L1197.0,576.7 L1198.1,576.1 L1199.3,575.8 L1200.4,575.8 L1201.5,575.6 L1202.6,575.9 L1203.8,575.2 L1204.9,575.0 L1206.0,575.1 L1207.1,575.6 L1208.2,575.5 L1209.4,577.1 L1210.5,576.9 L1211.6,576.1 L1212.7,576.6 L1213.9,575.8 L1215.0,575.4 L1216.1,576.2 L1217.2,575.9 L1218.3,575.7 L1219.5,575.1 L1220.6,574.7 L1221.7,574.9 L1222.8,575.5 L1224.0,575.4 L1225.1,575.3 L1226.2,574.7 L1227.3,574.7 L1228.4,575.3 L1229.6,576.0 L1230.7,575.8 L1231.8,575.9 L1232.9,576.2 L1234.1,575.7 L1235.2,575.7 L1236.3,575.3 L1237.4,574.8 L1238.6,575.1 L1239.7,573.5 L1240.8,574.4 L1241.9,573.9 L1243.0,574.3 L1244.2,573.8 L1245.3,575.8 L1246.4,575.9 L1247.5,575.3 L1248.7,574.7 L1249.8,573.3 L1250.9,573.8 L1252.0,573.4 L1253.1,573.6 L1254.3,573.5 L1255.4,573.8 L1256.5,574.4 L1257.6,574.3 L1258.8,575.2 L1259.9,574.3 L1261.0,575.2 L1262.1,574.9 L1263.2,573.5 L1264.4,574.2 L1265.5,574.5 L1266.6,573.9 L1267.7,574.3 L1268.9,575.0 L1270.0,574.8 L1271.1,574.4 L1272.2,574.1 L1273.3,574.9 L1274.5,573.7 L1275.6,573.1 L1276.7,573.9 L1277.8,574.1 L1279.0,574.7 L1280.1,573.8 L1281.2,574.7 L1282.3,574.3 L1283.4,574.9 L1284.6,575.3 L1285.7,574.6 L1286.8,573.9 L1287.9,574.3 L1289.1,575.0 L1290.2,574.5 L1291.3,574.7 L1292.4,574.6 L1293.5,573.8 L1294.7,573.6 L1295.8,574.6 L1296.9,573.3 L1298.0,574.1 L1299.2,574.0 L1300.3,574.9 L1301.4,575.1 L1302.5,576.2 L1303.7,574.6 L1304.8,574.0 L1305.9,575.4 L1307.0,576.3 L1308.1,576.9 L1309.3,575.4 L1310.4,575.7 L1311.5,575.6 L1312.6,575.7 L1313.8,575.7 L1314.9,576.3 L1316.0,575.9 L1317.1,576.7 L1318.2,576.2 L1319.4,575.7 L1320.5,575.4 L1321.6,575.6 L1322.7,576.2 L1323.9,575.9 L1325.0,576.1 L1326.1,574.9 L1327.2,574.8 L1328.3,575.3 L1329.5,575.8 L1330.6,576.3 L1331.7,576.7 L1332.8,576.5 L1334.0,576.0 L1335.1,575.6 L1336.2,575.4 L1337.3,574.2 L1338.4,575.4 L1339.6,575.6 L1340.7,574.0 L1341.8,576.1 L1342.9,576.3 L1344.1,576.1 L1345.2,575.9 L1346.3,575.7 L1347.4,576.0 L1348.5,575.8 L1349.7,575.8 L1350.8,575.4 L1351.9,576.9 L1353.0,577.1 L1354.2,576.7 L1355.3,577.1 L1356.4,577.3 L1357.5,576.4 L1358.7,576.7 L1359.8,576.0 L1360.9,575.6 L1362.0,575.7 L1363.1,575.6 L1364.3,575.9 L1365.4,577.0 L1366.5,576.6 L1367.6,576.2 L1368.8,576.5 L1369.9,576.5 L1371.0,575.9 L1372.1,576.6 L1373.2,576.0 L1374.4,575.0 L1375.5,575.9 L1376.6,576.0 L1377.7,576.2 L1378.9,575.3 L1380.0,575.5 L1381.1,575.3 L1382.2,576.2 L1383.3,576.3 L1384.5,576.3 L1385.6,577.4 L1386.7,576.0 L1387.8,575.6 L1389.0,577.0 L1390.1,576.2 L1391.2,576.3 L1392.3,576.0 L1393.4,575.9 L1394.6,577.0 L1395.7,576.8 L1396.8,575.5 L1397.9,576.2 L1399.1,576.8 L1400.2,577.3 L1401.3,577.5 L1402.4,576.6 L1403.5,575.2 L1404.7,575.2 L1405.8,575.3 L1406.9,574.1 L1408.0,575.1 L1409.2,575.8 L1410.3,575.4 L1411.4,575.1 L1412.5,575.9 L1413.6,576.4 L1414.8,575.8 L1415.9,575.4 L1417.0,576.2 L1418.1,575.8 L1419.3,575.9 L1420.4,575.2 L1421.5,575.2 L1422.6,575.1 L1423.8,575.2 L1424.9,574.4 L1426.0,573.7 L1427.1,574.4"/>
<path stroke="#ff0000" d="M660.5,86.0 L661.6,85.1 L662.7,84.4 L663.9,84.0 L665.0,84.0 L666.1,86.0 L667.2,87.8 L668.4,88.8 L669.5,91.4 L670.6,92.9 L671.7,95.2 L672.8,97.0 L674.0,100.3 L675.1,104.0 L676.2,106.1 L677.3,108.5 L678.5,111.8 L679.6,114.2 L680.7,117.7 L681.8,121.5 L682.9,124.4 L684.1,128.8 L685.2,132.1 L686.3,135.0 L687.4,137.4 L688.6,140.8 L689.7,143.6 L690.8,147.2 L691.9,149.8 L693.1,151.6 L694.2,155.3 L695.3,156.7 L696.4,160.7 L697.5,163.7 L698.7,166.6 L699.8,169.0 L700.9,173.2 L702.0,177.4 L703.2,179.4 L704.3,181.9 L705.4,184.8 L706.5,186.7 L707.6,190.8 L708.8,194.5 L709.9,197.5 L711.0,201.0 L712.1,203.4 L713.3,208.0 L714.4,211.3 L715.5,216.5 L716.6,217.9 L717.7,220.9 L718.9,223.2 L720.0,225.2 L721.1,229.2 L722.2,233.1 L723.4,237.1 L724.5,241.2 L725.6,245.1 L726.7,248.1 L727.8,251.9 L729.0,255.8 L730.1,259.9 L731.2,263.2 L732.3,267.1 L733.5,271.3 L734.6,274.7 L735.7,278.8 L736.8,283.2 L737.9,285.4 L739.1,288.8 L740.2,293.0 L741.3,295.4 L742.4,298.5 L743.6,302.8 L744.7,304.4 L745.8,307.3 L746.9,309.8 L748.0,312.8 L749.2,315.9 L750.3,319.6 L751.4,321.3 L752.5,324.0 L753.7,326.9 L754.8,329.3 L755.9,332.0 L757.0,334.3 L758.2,337.6 L759.3,340.4 L760.4,344.5 L761.5,347.0 L762.6,348.8 L763.8,350.7 L764.9,354.0 L766.0,356.9 L767.1,358.7 L768.3,362.0 L769.4,364.4 L770.5,366.2 L771.6,369.5 L772.7,371.6 L773.9,375.2 L775.0,377.7 L776.1,380.4 L777.2,382.9 L778.4,384.6 L779.5,385.9 L780.6,389.6 L781.7,392.7 L782.8,394.7 L784.0,397.8 L785.1,399.5 L786.2,401.4 L787.3,403.9 L788.5,405.8 L789.6,409.0 L790.7,410.2 L791.8,413.2 L792.9,415.2 L794.1,417.1 L795.2,418.8 L796.3,419.8 L797.4,421.6 L798.6,423.7 L799.7,425.1 L800.8,425.9 L801.9,428.1 L803.0,429.9 L804.2,431.0 L805.3,433.0 L806.4,435.8 L807.5,435.6 L808.7,436.4 L809.8,440.3 L810.9,441.9 L812.0,443.2 L813.2,444.2 L814.3,445.7 L815.4,447.8 L816.5,450.2 L817.6,451.4 L818.8,452.2 L819.9,454.6 L821.0,456.6 L822.1,457.8 L823.3,460.3 L824.4,461.3 L825.5,462.6 L826.6,463.4 L827.7,465.2 L828.9,467.0 L830.0,468.3 L831.1,469.4 L832.2,471.1 L833.4,472.1 L834.5,472.9 L835.6,473.6 L836.7,474.2 L837.8,476.8 L839.0,478.5 L840.1,481.4 L841.2,480.7 L842.3,482.6 L843.5,483.8 L844.6,484.6 L845.7,486.8 L846.8,487.4 L847.9,488.6 L849.1,491.0 L850.2,491.5 L851.3,491.7 L852.4,494.3 L853.6,494.5 L854.7,495.5 L855.8,496.4 L856.9,497.4 L858.0,497.9 L859.2,499.6 L860.3,500.3 L861.4,502.0 L862.5,502.6 L863.7,504.4 L864.8,505.3 L865.9,505.0 L867.0,506.1 L868.1,507.5 L869.3,509.2 L870.4,510.3 L871.5,510.6 L872.6,510.7 L873.8,511.4 L874.9,512.0 L876.0,513.0 L877.1,513.0 L878.3,514.5 L879.4,515.7 L880.5,515.7 L881.6,516.5 L882.7,517.5 L883.9,518.5 L885.0,519.2 L886.1,519.2 L887.2,519.7 L888.4,521.2 L889.5,521.3 L890.6,521.8 L891.7,523.1 L892.8,522.9 L894.0,523.7 L895.1,524.5 L896.2,524.5 L897.3,524.4 L898.5,525.9 L899.6,526.2 L900.7,527.5 L901.8,526.4 L902.9,527.9 L904.1,527.8 L905.2,529.2 L906.3,529.3 L907.4,528.7 L908.6,531.6 L909.7,532.1 L910.8,532.0 L911.9,532.6 L913.0,533.5 L914.2,532.4 L915.3,533.3 L916.4,535.2 L917.5,534.8 L918.7,536.5 L919.8,535.8 L920.9,536.8 L922.0,537.1 L923.1,536.8 L924.3,537.7 L925.4,539.4 L926.5,540.8 L927.6,540.0 L928.8,540.2 L929.9,541.6 L931.0,541.6 L932.1,542.2 L933.3,542.7 L934.4,545.2 L935.5,545.6 L936.6,545.4 L937.7,545.7 L938.9,546.0 L940.0,548.7 L941.1,548.7 L942.2,548.7 L943.4,547.7 L944.5,549.6 L945.6,550.4 L946.7,550.9 L947.8,550.8 L949.0,551.7 L950.1,551.4 L951.2,552.7 L952.3,552.9 L953.5,553.7 L954.6,553.8 L955.7,554.6 L956.8,555.7 L957.9,554.8 L959.1,554.9 L960.2,555.6 L961.3,555.6 L962.4,555.2 L963.6,556.3 L964.7,556.4 L965.8,556.2 L966.9,556.1 L968.0,556.7 L969.2,558.2 L970.3,556.9 L971.4,556.9 L972.5,557.1 L973.7,557.5 L974.8,557.4 L975.9,557.8 L977.0,558.5 L978.1,558.7 L979.3,558.8 L980.4,558.8 L981.5,559.3 L982.6,558.4 L983.8,559.2 L984.9,558.4 L986.0,559.1 L987.1,558.6 L988.2,557.7 L989.4,558.0 L990.5,558.9 L991.6,558.8 L992.7,558.8 L993.9,560.0 L995.0,560.0 L996.1,559.5 L997.2,559.7 L998.4,559.5 L999.5,559.0 L1000.6,558.7 L1001.7,558.5 L1002.8,558.6 L1004.0,559.3 L1005.1,559.5 L1006.2,559.8 L1007.3,560.0 L1008.5,560.1 L1009.6,561.1 L1010.7,560.9 L1011.8,560.5 L1012.9,561.0 L1014.1,560.7 L1015.2,560.2 L1016.3,560.4 L1017.4,559.1 L1018.6,561.4 L1019.7,561.1 L1020.8,562.1 L1021.9,560.8 L1023.0,559.1 L1024.2,561.5 L1025.3,561.2 L1026.4,560.8 L1027.5,561.2 L1028.7,560.9 L1029.8,562.5 L1030.9,561.5 L1032.0,561.3 L1033.1,561.5 L1034.3,562.0 L1035.4,561.6 L1036.5,562.2 L1037.6,562.1 L1038.8,562.6 L1039.9,564.0 L1041.0,563.4 L1042.1,563.0 L1043.2,562.5 L1044.4,563.3 L1045.5,563.2 L1046.6,562.8 L1047.7,562.9 L1048.9,562.3 L1050.0,561.5 L1051.1,563.0 L1052.2,564.4 L1053.3,563.5 L1054.5,562.5 L1055.6,562.3 L1056.7,562.3 L1057.8,563.3 L1059.0,563.8 L1060.1,563.1 L1061.2,563.8 L1062.3,564.8 L1063.5,564.8 L1064.6,562.5 L1065.7,561.6 L1066.8,562.8 L1067.9,563.5 L1069.1,563.2 L1070.2,563.7 L1071.3,562.6 L1072.4,562.9 L1073.6,563.7 L1074.7,562.6 L1075.8,563.2 L1076.9,563.0 L1078.0,563.0 L1079.2,563.2 L1080.3,563.0 L1081.4,563.4 L1082.5,564.5 L1083.7,565.3 L1084.8,565.1 L1085.9,564.7 L1087.0,564.0 L1088.1,563.6 L1089.3,563.1 L1090.4,563.1 L1091.5,563.7 L1092.6,564.0 L1093.8,565.0 L1094.9,564.4 L1096.0,563.6 L1097.1,563.2 L1098.2,563.4 L1099.4,563.6 L1100.5,563.0 L1101.6,563.3 L1102.7,563.0 L1103.9,563.0 L1105.0,563.2 L1106.1,562.7 L1107.2,563.6 L1108.3,564.0 L1109.5,564.6 L1110.6,564.9 L1111.7,563.6 L1112.8,562.8 L1114.0,563.5 L1115.1,563.5 L1116.2,563.2 L1117.3,563.3 L1118.5,563.1 L1119.6,564.7 L1120.7,565.1 L1121.8,564.7 L1122.9,563.9 L1124.1,564.3 L1125.2,565.2 L1126.3,565.4 L1127.4,565.8 L1128.6,566.1 L1129.7,564.8 L1130.8,565.5 L1131.9,565.5 L1133.0,564.2 L1134.2,564.1 L1135.3,564.6 L1136.4,565.6 L1137.5,565.5 L1138.7,564.7 L1139.8,564.9 L1140.9,564.7 L1142.0,565.3 L1143.1,565.4 L1144.3,566.0 L1145.4,565.9 L1146.5,565.3 L1147.6,566.8 L1148.8,566.8 L1149.9,566.6 L1151.0,567.0 L1152.1,567.1 L1153.2,566.5 L1154.4,565.4 L1155.5,565.8 L1156.6,566.2 L1157.7,567.6 L1158.9,566.2 L1160.0,566.7 L1161.1,567.0 L1162.2,567.9 L1163.3,567.8 L1164.5,568.4 L1165.6,568.1 L1166.7,567.6 L1167.8,567.7 L1169.0,567.6 L1170.1,568.3 L1171.2,567.3 L1172.3,568.1 L1173.4,569.3 L1174.6,569.0 L1175.7,569.2 L1176.8,569.5 L1177.9,569.3 L1179.1,568.8 L1180.2,569.5 L1181.3,569.3 L1182.4,568.1 L1183.6,568.0 L1184.7,568.5 L1185.8,568.7 L1186.9,568.9 L1188.0,569.1 L1189.2,568.7 L1190.3,569.0 L1191.4,570.7 L1192.5,570.1 L1193.7,570.4 L1194.8,569.6 L1195.9,570.0 L1197.0,569.7 L1198.1,568.3 L1199.3,569.6 L1200.4,570.4 L1201.5,571.1 L1202.6,572.1 L1203.8,572.3 L1204.9,571.0 L1206.0,571.0 L1207.1,571.8 L1208.2,572.0 L1209.4,570.8 L1210.5,571.0 L1211.6,570.9 L1212.7,570.5 L1213.9,569.6 L1215.0,568.7 L1216.1,568.8 L1217.2,569.5 L1218.3,569.9 L1219.5,569.1 L1220.6,568.9 L1221.7,569.9 L1222.8,570.0 L1224.0,570.2 L1225.1,570.5 L1226.2,571.0 L1227.3,571.8 L1228.4,571.8 L1229.6,572.5 L1230.7,571.1 L1231.8,570.8 L1232.9,571.7 L1234.1,570.6 L1235.2,570.4 L1236.3,572.0 L1237.4,570.6 L1238.6,570.4 L1239.7,569.6 L1240.8,571.2 L1241.9,571.0 L1243.0,571.0 L1244.2,571.2 L1245.3,571.3 L1246.4,570.8 L1247.5,572.2 L1248.7,572.8 L1249.8,573.2 L1250.9,573.0 L1252.0,572.9 L1253.1,572.2 L1254.3,571.9 L1255.4,571.9 L1256.5,572.4 L1257.6,572.5 L1258.8,571.7 L1259.9,571.4 L1261.0,571.6 L1262.1,572.0 L1263.2,571.1 L1264.4,571.9 L1265.5,571.6 L1266.6,571.1 L1267.7,571.8 L1268.9,571.4 L1270.0,572.5 L1271.1,571.7 L1272.2,571.8 L1273.3,573.0 L1274.5,572.2 L1275.6,572.8 L1276.7,571.7 L1277.8,572.4 L1279.0,572.4 L1280.1,572.1 L1281.2,572.4 L1282.3,572.1 L1283.4,572.5 L1284.6,571.9 L1285.7,572.0 L1286.8,572.0 L1287.9,573.8 L1289.1,572.3 L1290.2,572.2 L1291.3,573.3 L1292.4,572.7 L1293.5,572.1 L1294.7,571.4 L1295.8,572.4 L1296.9,571.2 L1298.0,571.7 L1299.2,570.3 L1300.3,571.1 L1301.4,571.1 L1302.5,571.7 L1303.7,572.5 L1304.8,571.5 L1305.9,571.1 L1307.0,570.4 L1308.1,570.5 L1309.3,571.4 L1310.4,572.6 L1311.5,572.6 L1312.6,572.6 L1313.8,572.7 L1314.9,571.9 L1316.0,571.5 L1317.1,571.7 L1318.2,571.5 L1319.4,571.6 L1320.5,571.4 L1321.6,571.0 L1322.7,570.6 L1323.9,571.4 L1325.0,572.4 L1326.1,571.0 L1327.2,571.1 L1328.3,570.5 L1329.5,571.9 L1330.6,571.8 L1331.7,571.5 L1332.8,572.3 L1334.0,572.1 L1335.1,571.2 L1336.2,570.5 L1337.3,569.7 L1338.4,570.9 L1339.6,571.9 L1340.7,571.2 L1341.8,570.5 L1342.9,570.6 L1344.1,571.6 L1345.2,570.8 L1346.3,570.3 L1347.4,570.2 L1348.5,570.8 L1349.7,570.6 L1350.8,570.2 L1351.9,570.8 L1353.0,572.0 L1354.2,571.2 L1355.3,570.6 L1356.4,570.6 L1357.5,570.0 L1358.7,570.7 L1359.8,570.7 L1360.9,570.8 L1362.0,570.3 L1363.1,569.3 L1364.3,570.0 L1365.4,568.8 L1366.5,568.5 L1367.6,568.8 L1368.8,569.1 L1369.9,568.5 L1371.0,569.4 L1372.1,569.8 L1373.2,570.7 L1374.4,570.1 L1375.5,569.3 L1376.6,569.3 L1377.7,569.4 L1378.9,569.8 L1380.0,569.8 L1381.1,570.8 L1382.2,569.7 L1383.3,570.1 L1384.5,570.7 L1385.6,570.8 L1386.7,570.9 L1387.8,569.8 L1389.0,569.1 L1390.1,570.2 L1391.2,569.4 L1392.3,568.9 L1393.4,569.6 L1394.6,570.5 L1395.7,570.6 L1396.8,570.5 L1397.9,569.8 L1399.1,569.9 L1400.2,571.0 L1401.3,570.1 L1402.4,570.7 L1403.5,569.5 L1404.7,570.2 L1405.8,570.2 L1406.9,570.3 L1408.0,570.1 L1409.2,568.8 L1410.3,568.4 L1411.4,568.3 L1412.5,568.4 L1413.6,569.7 L1414.8,569.7 L1415.9,569.7 L1417.0,570.0 L1418.1,569.2 L1419.3,569.5 L1420.4,569.6 L1421.5,569.9 L1422.6,570.7 L1423.8,569.4 L1424.9,568.2 L1426.0,568.3 L1427.1,569.1"/>
<path stroke="#00ff00" d="M660.5,113.9 L661.6,113.3 L662.7,112.5 L663.9,113.0 L665.0,113.7 L666.1,114.6 L667.2,116.3 L668.4,118.7 L669.5,119.8 L670.6,121.4 L671.7,124.8 L672.8,126.8 L674.0,129.7 L675.1,131.6 L676.2,133.2 L677.3,136.3 L678.5,139.8 L679.6,140.7 L680.7,142.9 L681.8,144.6 L682.9,148.5 L684.1,150.4 L685.2,152.0 L686.3,154.2 L687.4,158.0 L688.6,161.1 L689.7,164.4 L690.8,166.7 L691.9,169.2 L693.1,172.5 L694.2,176.5 L695.3,178.7 L696.4,182.0 L697.5,184.4 L698.7,187.4 L699.8,189.5 L700.9,192.3 L702.0,196.2 L703.2,199.1 L704.3,201.1 L705.4,204.8 L706.5,207.4 L707.6,209.4 L708.8,211.5 L709.9,214.1 L711.0,217.7 L712.1,220.5 L713.3,221.9 L714.4,223.4 L715.5,223.8 L716.6,227.0 L717.7,228.5 L718.9,230.5 L720.0,234.2 L721.1,236.8 L722.2,238.7 L723.4,241.4 L724.5,243.8 L725.6,246.0 L726.7,249.3 L727.8,251.4 L729.0,254.5 L730.1,257.3 L731.2,259.3 L732.3,262.1 L733.5,264.1 L734.6,265.4 L735.7,268.0 L736.8,270.5 L737.9,272.1 L739.1,274.6 L740.2,275.8 L741.3,278.8 L742.4,280.0 L743.6,282.2 L744.7,284.4 L745.8,284.7 L746.9,287.4 L748.0,288.0 L749.2,289.9 L750.3,291.2 L751.4,294.3 L752.5,295.5 L753.7,296.8 L754.8,299.4 L755.9,301.7 L757.0,302.2 L758.2,304.8 L759.3,307.5 L760.4,310.0 L761.5,311.6 L762.6,313.4 L763.8,315.4 L764.9,316.3 L766.0,319.1 L767.1,320.9 L768.3,322.2 L769.4,325.4 L770.5,326.7 L771.6,327.8 L772.7,331.4 L773.9,334.0 L775.0,336.3 L776.1,338.9 L777.2,339.6 L778.4,342.3 L779.5,343.0 L780.6,343.5 L781.7,346.4 L782.8,347.8 L784.0,350.2 L785.1,350.4 L786.2,352.0 L787.3,353.1 L788.5,354.1 L789.6,354.8 L790.7,356.3 L791.8,357.5 L792.9,359.0 L794.1,360.0 L795.2,362.0 L796.3,362.9 L797.4,365.3 L798.6,366.4 L799.7,366.0 L800.8,367.7 L801.9,370.2 L803.0,371.2 L804.2,373.3 L805.3,375.6 L806.4,376.9 L807.5,377.4 L808.7,378.6 L809.8,380.3 L810.9,382.5 L812.0,384.4 L813.2,384.7 L814.3,386.2 L815.4,388.5 L816.5,391.1 L817.6,392.8 L818.8,391.9 L819.9,394.4 L821.0,395.7 L822.1,396.8 L823.3,398.3 L824.4,399.8 L825.5,402.0 L826.6,403.5 L827.7,403.2 L828.9,405.2 L830.0,405.8 L831.1,408.3 L832.2,409.3 L833.4,410.1 L834.5,410.6 L835.6,412.8 L836.7,413.5 L837.8,414.6 L839.0,416.4 L840.1,417.2 L841.2,419.1 L842.3,420.7 L843.5,421.6 L844.6,424.4 L845.7,424.9 L846.8,426.3 L847.9,428.0 L849.1,428.9 L850.2,429.3 L851.3,430.9 L852.4,431.4 L853.6,433.9 L854.7,436.0 L855.8,436.0 L856.9,437.4 L858.0,438.6 L859.2,441.0 L860.3,442.0 L861.4,443.5 L862.5,444.8 L863.7,446.5 L864.8,447.3 L865.9,449.6 L867.0,451.6 L868.1,453.6 L869.3,453.6 L870.4,455.3 L871.5,457.0 L872.6,458.3 L873.8,459.2 L874.9,460.7 L876.0,461.4 L877.1,462.4 L878.3,463.3 L879.4,464.5 L880.5,465.0 L881.6,465.9 L882.7,466.5 L883.9,467.1 L885.0,467.8 L886.1,470.2 L887.2,470.8 L888.4,471.7 L889.5,471.5 L890.6,473.3 L891.7,474.1 L892.8,474.6 L894.0,475.3 L895.1,475.1 L896.2,476.3 L897.3,476.4 L898.5,478.3 L899.6,479.9 L900.7,479.2 L901.8,479.6 L902.9,480.1 L904.1,481.0 L905.2,481.5 L906.3,483.2 L907.4,483.1 L908.6,484.2 L909.7,484.2 L910.8,485.1 L911.9,487.1 L913.0,488.1 L914.2,487.4 L915.3,488.1 L916.4,488.9 L917.5,489.3 L918.7,490.1 L919.8,491.0 L920.9,491.3 L922.0,491.7 L923.1,491.2 L924.3,492.2 L925.4,491.8 L926.5,491.9 L927.6,492.2 L928.8,493.0 L929.9,494.3 L931.0,495.2 L932.1,496.1 L933.3,497.2 L934.4,497.6 L935.5,498.4 L936.6,497.6 L937.7,498.2 L938.9,499.4 L940.0,501.2 L941.1,501.3 L942.2,501.9 L943.4,503.0 L944.5,504.0 L945.6,505.5 L946.7,504.9 L947.8,505.3 L949.0,504.2 L950.1,505.6 L951.2,506.8 L952.3,506.7 L953.5,507.8 L954.6,508.6 L955.7,509.7 L956.8,510.7 L957.9,510.1 L959.1,510.3 L960.2,510.1 L961.3,511.5 L962.4,512.1 L963.6,513.2 L964.7,512.7 L965.8,514.1 L966.9,513.7 L968.0,513.3 L969.2,512.9 L970.3,514.4 L971.4,514.0 L972.5,515.1 L973.7,515.8 L974.8,516.7 L975.9,515.8 L977.0,515.1 L978.1,516.3 L979.3,517.2 L980.4,517.6 L981.5,516.2 L982.6,516.5 L983.8,517.9 L984.9,519.6 L986.0,520.0 L987.1,519.2 L988.2,518.5 L989.4,519.6 L990.5,520.7 L991.6,521.4 L992.7,522.8 L993.9,522.0 L995.0,523.0 L996.1,522.4 L997.2,524.0 L998.4,524.8 L999.5,524.5 L1000.6,525.1 L1001.7,524.7 L1002.8,525.2 L1004.0,526.4 L1005.1,526.1 L1006.2,525.9 L1007.3,527.8 L1008.5,526.7 L1009.6,527.1 L1010.7,527.4 L1011.8,529.4 L1012.9,530.0 L1014.1,530.3 L1015.2,529.7 L1016.3,531.2 L1017.4,531.9 L1018.6,533.2 L1019.7,533.0 L1020.8,532.8 L1021.9,534.1 L1023.0,534.4 L1024.2,534.0 L1025.3,533.4 L1026.4,533.8 L1027.5,534.9 L1028.7,536.3 L1029.8,537.1 L1030.9,537.6 L1032.0,537.5 L1033.1,537.8 L1034.3,537.1 L1035.4,537.8 L1036.5,539.2 L1037.6,538.5 L1038.8,538.7 L1039.9,539.6 L1041.0,540.8 L1042.1,542.3 L1043.2,542.8 L1044.4,542.0 L1045.5,542.9 L1046.6,543.9 L1047.7,543.6 L1048.9,543.6 L1050.0,543.5 L1051.1,543.7 L1052.2,543.4 L1053.3,544.9 L1054.5,544.7 L1055.6,546.0 L1056.7,545.9 L1057.8,546.3 L1059.0,546.6 L1060.1,546.5 L1061.2,547.3 L1062.3,547.1 L1063.5,547.4 L1064.6,548.2 L1065.7,549.2 L1066.8,550.1 L1067.9,550.5 L1069.1,550.8 L1070.2,550.9 L1071.3,549.2 L1072.4,550.0 L1073.6,550.4 L1074.7,551.9 L1075.8,552.7 L1076.9,553.1 L1078.0,553.1 L1079.2,554.0 L1080.3,553.0 L1081.4,553.9 L1082.5,553.5 L1083.7,555.6 L1084.8,555.4 L1085.9,555.2 L1087.0,555.3 L1088.1,555.2 L1089.3,555.4 L1090.4,555.7 L1091.5,557.3 L1092.6,557.6 L1093.8,558.8 L1094.9,557.7 L1096.0,557.3 L1097.1,557.6 L1098.2,558.2 L1099.4,558.5 L1100.5,557.1 L1101.6,556.5 L1102.7,557.4 L1103.9,557.2 L1105.0,558.9 L1106.1,560.2 L1107.2,560.0 L1108.3,560.3 L1109.5,560.3 L1110.6,559.9 L1111.7,557.9 L1112.8,559.3 L1114.0,559.6 L1115.1,559.8 L1116.2,560.1 L1117.3,559.7 L1118.5,559.0 L1119.6,560.7 L1120.7,560.7 L1121.8,561.1 L1122.9,561.0 L1124.1,562.2 L1125.2,563.0 L1126.3,563.9 L1127.4,562.6 L1128.6,562.2 L1129.7,562.1 L1130.8,563.6 L1131.9,563.2 L1133.0,563.3 L1134.2,563.8 L1135.3,563.8 L1136.4,562.8 L1137.5,562.4 L1138.7,562.6 L1139.8,562.3 L1140.9,562.9 L1142.0,562.9 L1143.1,562.9 L1144.3,562.5 L1145.4,562.8 L1146.5,563.0 L1147.6,563.1 L1148.8,563.5 L1149.9,561.8 L1151.0,562.0 L1152.1,562.2 L1153.2,561.1 L1154.4,561.1 L1155.5,563.0 L1156.6,562.5 L1157.7,562.2 L1158.9,561.4 L1160.0,561.3 L1161.1,561.6 L1162.2,563.0 L1163.3,563.6 L1164.5,563.2 L1165.6,562.8 L1166.7,563.6 L1167.8,563.6 L1169.0,563.6 L1170.1,563.3 L1171.2,563.0 L1172.3,563.2 L1173.4,563.9 L1174.6,562.7 L1175.7,561.8 L1176.8,562.4 L1177.9,562.0 L1179.1,562.2 L1180.2,562.2 L1181.3,562.2 L1182.4,563.1 L1183.6,562.7 L1184.7,562.2 L1185.8,563.2 L1186.9,561.8 L1188.0,561.0 L1189.2,560.8 L1190.3,560.5 L1191.4,561.2 L1192.5,562.2 L1193.7,563.0 L1194.8,563.5 L1195.9,563.2 L1197.0,563.2 L1198.1,562.7 L1199.3,564.2 L1200.4,562.2 L1201.5,561.2 L1202.6,562.1 L1203.8,562.2 L1204.9,562.4 L1206.0,562.7 L1207.1,563.2 L1208.2,563.4 L1209.4,564.1 L1210.5,563.8 L1211.6,563.8 L1212.7,563.7 L1213.9,564.4 L1215.0,564.2 L1216.1,564.2 L1217.2,563.9 L1218.3,564.8 L1219.5,564.4 L1220.6,563.8 L1221.7,563.8 L1222.8,564.5 L1224.0,564.9 L1225.1,565.1 L1226.2,564.6 L1227.3,563.8 L1228.4,564.5 L1229.6,565.2 L1230.7,565.0 L1231.8,565.1 L1232.9,565.8 L1234.1,566.2 L1235.2,566.0 L1236.3,565.4 L1237.4,566.4 L1238.6,566.8 L1239.7,566.1 L1240.8,566.9 L1241.9,566.5 L1243.0,566.1 L1244.2,566.3 L1245.3,567.0 L1246.4,566.8 L1247.5,566.9 L1248.7,566.6 L1249.8,567.2 L1250.9,566.3 L1252.0,567.6 L1253.1,567.4 L1254.3,567.3 L1255.4,566.6 L1256.5,567.2 L1257.6,566.9 L1258.8,567.4 L1259.9,566.9 L1261.0,566.0 L1262.1,567.0 L1263.2,567.0 L1264.4,567.9 L1265.5,567.2 L1266.6,566.6 L1267.7,567.1 L1268.9,568.2 L1270.0,567.8 L1271.1,567.1 L1272.2,566.8 L1273.3,566.8 L1274.5,568.6 L1275.6,568.8 L1276.7,567.6 L1277.8,568.6 L1279.0,567.7 L1280.1,566.7 L1281.2,566.9 L1282.3,566.8 L1283.4,567.7 L1284.6,568.8 L1285.7,568.7 L1286.8,568.7 L1287.9,568.6 L1289.1,568.1 L1290.2,568.4 L1291.3,568.3 L1292.4,568.2 L1293.5,568.4 L1294.7,567.3 L1295.8,567.6 L1296.9,568.1 L1298.0,568.5 L1299.2,569.0 L1300.3,568.0 L1301.4,568.3 L1302.5,569.2 L1303.7,569.4 L1304.8,569.2 L1305.9,569.4 L1307.0,568.5 L1308.1,569.4 L1309.3,568.9 L1310.4,568.8 L1311.5,569.7 L1312.6,569.3 L1313.8,569.2 L1314.9,568.8 L1316.0,569.2 L1317.1,569.0 L1318.2,570.1 L1319.4,570.3 L1320.5,569.3 L1321.6,568.5 L1322.7,568.8 L1323.9,569.3 L1325.0,568.5 L1326.1,570.2 L1327.2,570.2 L1328.3,569.3 L1329.5,568.8 L1330.6,569.6 L1331.7,570.6 L1332.8,569.0 L1334.0,569.0 L1335.1,569.6 L1336.2,569.4 L1337.3,568.7 L1338.4,570.6 L1339.6,569.2 L1340.7,568.7 L1341.8,570.2 L1342.9,569.2 L1344.1,570.3 L1345.2,569.1 L1346.3,568.8 L1347.4,567.5 L1348.5,568.6 L1349.7,568.8 L1350.8,568.2 L1351.9,569.0 L1353.0,569.5 L1354.2,569.5 L1355.3,569.3 L1356.4,569.9 L1357.5,569.2 L1358.7,568.7 L1359.8,568.8 L1360.9,567.7 L1362.0,568.5 L1363.1,567.8 L1364.3,568.6 L1365.4,568.3 L1366.5,569.8 L1367.6,569.2 L1368.8,569.1 L1369.9,569.3 L1371.0,569.4 L1372.1,569.3 L1373.2,569.5 L1374.4,570.6 L1375.5,570.1 L1376.6,569.8 L1377.7,569.6 L1378.9,569.8 L1380.0,569.4 L1381.1,568.5 L1382.2,568.7 L1383.3,568.9 L1384.5,567.8 L1385.6,567.5 L1386.7,567.3 L1387.8,567.1 L1389.0,567.9 L1390.1,568.2 L1391.2,567.5 L1392.3,568.2 L1393.4,568.3 L1394.6,568.1 L1395.7,567.9 L1396.8,568.2 L1397.9,567.6 L1399.1,568.0 L1400.2,567.6 L1401.3,567.1 L1402.4,567.1 L1403.5,567.1 L1404.7,568.3 L1405.8,569.0 L1406.9,568.9 L1408.0,568.2 L1409.2,567.1 L1410.3,568.3 L1411.4,567.9 L1412.5,568.4 L1413.6,568.7 L1414.8,568.5 L1415.9,567.7 L1417.0,567.6 L1418.1,566.9 L1419.3,567.9 L1420.4,567.3 L1421.5,566.9 L1422.6,567.2 L1423.8,567.1 L1424.9,567.7 L1426.0,568.4 L1427.1,568.3"/>
<path stroke="#0000ff" d="M660.5,127.9 L661.6,125.6 L662.7,126.7 L663.9,126.4 L665.0,127.7 L666.1,129.0 L667.2,130.1 L668.4,132.0 L669.5,132.7 L670.6,134.2 L671.7,137.2 L672.8,138.4 L674.0,140.2 L675.1,142.4 L676.2,144.0 L677.3,147.5 L678.5,150.1 L679.6,152.8 L680.7,156.9 L681.8,159.3 L682.9,163.9 L684.1,167.8 L685.2,170.3 L686.3,174.2 L687.4,177.2 L688.6,181.2 L689.7,183.7 L690.8,187.3 L691.9,189.6 L693.1,193.4 L694.2,195.4 L695.3,198.2 L696.4,200.7 L697.5,203.3 L698.7,205.8 L699.8,209.2 L700.9,212.9 L702.0,214.4 L703.2,216.9 L704.3,219.0 L705.4,220.5 L706.5,223.9 L707.6,225.8 L708.8,227.6 L709.9,229.7 L711.0,230.8 L712.1,232.4 L713.3,234.4 L714.4,236.4 L715.5,237.0 L716.6,238.9 L717.7,239.9 L718.9,241.2 L720.0,244.1 L721.1,245.9 L722.2,246.8 L723.4,247.8 L724.5,248.8 L725.6,250.0 L726.7,251.3 L727.8,253.6 L729.0,255.4 L730.1,256.6 L731.2,258.7 L732.3,259.6 L733.5,262.6 L734.6,263.5 L735.7,265.3 L736.8,268.2 L737.9,268.6 L739.1,270.1 L740.2,271.8 L741.3,274.3 L742.4,276.0 L743.6,276.5 L744.7,279.0 L745.8,282.9 L746.9,284.1 L748.0,285.8 L749.2,286.9 L750.3,288.4 L751.4,290.4 L752.5,292.3 L753.7,292.9 L754.8,295.7 L755.9,295.8 L757.0,298.4 L758.2,300.9 L759.3,302.0 L760.4,303.6 L761.5,306.3 L762.6,307.5 L763.8,310.6 L764.9,312.6 L766.0,313.2 L767.1,315.2 L768.3,317.8 L769.4,318.8 L770.5,319.9 L771.6,321.8 L772.7,324.8 L773.9,326.2 L775.0,327.1 L776.1,328.1 L777.2,328.6 L778.4,330.9 L779.5,332.9 L780.6,334.3 L781.7,334.9 L782.8,337.2 L784.0,337.5 L785.1,340.9 L786.2,341.0 L787.3,342.6 L788.5,343.3 L789.6,344.0 L790.7,346.2 L791.8,347.2 L792.9,348.1 L794.1,348.9 L795.2,350.9 L796.3,352.5 L797.4,354.6 L798.6,353.4 L799.7,355.1 L800.8,356.6 L801.9,358.8 L803.0,359.1 L804.2,360.7 L805.3,360.9 L806.4,362.0 L807.5,363.7 L808.7,364.8 L809.8,367.2 L810.9,368.6 L812.0,370.1 L813.2,372.0 L814.3,372.7 L815.4,373.8 L816.5,374.0 L817.6,377.7 L818.8,378.6 L819.9,379.8 L821.0,380.7 L822.1,381.2 L823.3,382.0 L824.4,383.1 L825.5,384.6 L826.6,385.3 L827.7,386.2 L828.9,388.6 L830.0,389.4 L831.1,391.0 L832.2,392.2 L833.4,392.4 L834.5,393.0 L835.6,393.8 L836.7,395.3 L837.8,396.1 L839.0,397.4 L840.1,397.7 L841.2,398.1 L842.3,398.1 L843.5,398.8 L844.6,400.9 L845.7,402.3 L846.8,403.9 L847.9,404.3 L849.1,404.0 L850.2,405.0 L851.3,407.9 L852.4,409.4 L853.6,410.7 L854.7,410.7 L855.8,411.5 L856.9,412.2 L858.0,412.1 L859.2,414.2 L860.3,415.8 L861.4,415.3 L862.5,416.6 L863.7,418.5 L864.8,420.8 L865.9,422.2 L867.0,424.0 L868.1,423.9 L869.3,424.3 L870.4,424.3 L871.5,425.5 L872.6,427.0 L873.8,428.3 L874.9,427.7 L876.0,430.2 L877.1,430.7 L878.3,431.5 L879.4,432.0 L880.5,433.3 L881.6,433.8 L882.7,434.3 L883.9,435.6 L885.0,436.9 L886.1,437.9 L887.2,439.2 L888.4,439.9 L889.5,440.7 L890.6,441.2 L891.7,441.1 L892.8,441.5 L894.0,443.1 L895.1,443.8 L896.2,444.6 L897.3,445.2 L898.5,446.3 L899.6,447.1 L900.7,448.4 L901.8,449.7 L902.9,449.6 L904.1,449.6 L905.2,450.4 L906.3,451.3 L907.4,452.2 L908.6,453.5 L909.7,455.4 L910.8,455.1 L911.9,455.6 L913.0,456.6 L914.2,457.7 L915.3,457.2 L916.4,459.1 L917.5,458.2 L918.7,458.6 L919.8,458.0 L920.9,459.9 L922.0,460.7 L923.1,461.8 L924.3,462.1 L925.4,462.8 L926.5,463.8 L927.6,463.4 L928.8,464.6 L929.9,465.4 L931.0,465.4 L932.1,466.3 L933.3,467.1 L934.4,467.2 L935.5,468.1 L936.6,469.5 L937.7,469.8 L938.9,470.4 L940.0,469.9 L941.1,471.8 L942.2,471.9 L943.4,473.5 L944.5,474.5 L945.6,475.5 L946.7,476.1 L947.8,476.5 L949.0,476.6 L950.1,478.6 L951.2,478.8 L952.3,479.6 L953.5,480.5 L954.6,482.3 L955.7,482.5 L956.8,483.6 L957.9,484.1 L959.1,485.0 L960.2,485.1 L961.3,485.1 L962.4,485.2 L963.6,486.2 L964.7,486.1 L965.8,485.9 L966.9,487.5 L968.0,486.9 L969.2,488.4 L970.3,488.2 L971.4,488.2 L972.5,487.7 L973.7,488.4 L974.8,489.4 L975.9,490.3 L977.0,491.2 L978.1,490.6 L979.3,491.0 L980.4,491.7 L981.5,491.5 L982.6,492.4 L983.8,492.8 L984.9,493.3 L986.0,492.3 L987.1,492.1 L988.2,493.3 L989.4,495.0 L990.5,494.9 L991.6,495.2 L992.7,495.4 L993.9,495.6 L995.0,496.4 L996.1,496.3 L997.2,496.5 L998.4,497.2 L999.5,498.2 L1000.6,499.0 L1001.7,498.9 L1002.8,500.3 L1004.0,500.6 L1005.1,501.4 L1006.2,502.4 L1007.3,502.0 L1008.5,502.3 L1009.6,502.7 L1010.7,502.6 L1011.8,504.3 L1012.9,504.5 L1014.1,504.6 L1015.2,504.6 L1016.3,506.0 L1017.4,505.8 L1018.6,506.3 L1019.7,506.0 L1020.8,506.2 L1021.9,507.0 L1023.0,506.5 L1024.2,507.9 L1025.3,509.2 L1026.4,510.0 L1027.5,511.1 L1028.7,511.4 L1029.8,512.9 L1030.9,512.9 L1032.0,512.7 L1033.1,512.5 L1034.3,513.5 L1035.4,513.2 L1036.5,514.6 L1037.6,515.3 L1038.8,517.0 L1039.9,517.5 L1041.0,518.1 L1042.1,517.2 L1043.2,517.6 L1044.4,519.1 L1045.5,519.1 L1046.6,519.4 L1047.7,520.3 L1048.9,520.9 L1050.0,521.7 L1051.1,522.6 L1052.2,524.1 L1053.3,524.1 L1054.5,523.5 L1055.6,523.3 L1056.7,524.6 L1057.8,525.8 L1059.0,526.4 L1060.1,526.2 L1061.2,526.7 L1062.3,527.9 L1063.5,528.1 L1064.6,528.8 L1065.7,529.0 L1066.8,529.9 L1067.9,531.3 L1069.1,531.3 L1070.2,531.0 L1071.3,532.3 L1072.4,532.6 L1073.6,532.3 L1074.7,533.1 L1075.8,533.9 L1076.9,532.8 L1078.0,533.1 L1079.2,533.4 L1080.3,534.9 L1081.4,534.2 L1082.5,536.1 L1083.7,536.6 L1084.8,536.2 L1085.9,535.7 L1087.0,537.1 L1088.1,537.7 L1089.3,537.7 L1090.4,539.2 L1091.5,538.5 L1092.6,538.3 L1093.8,538.9 L1094.9,538.8 L1096.0,538.7 L1097.1,539.1 L1098.2,539.2 L1099.4,538.8 L1100.5,540.0 L1101.6,540.3 L1102.7,541.0 L1103.9,540.6 L1105.0,541.3 L1106.1,541.3 L1107.2,541.6 L1108.3,541.9 L1109.5,541.2 L1110.6,542.0 L1111.7,541.6 L1112.8,541.9 L1114.0,541.9 L1115.1,542.9 L1116.2,542.8 L1117.3,543.0 L1118.5,544.1 L1119.6,544.2 L1120.7,544.7 L1121.8,544.9 L1122.9,544.4 L1124.1,545.4 L1125.2,546.7 L1126.3,547.6 L1127.4,547.3 L1128.6,547.4 L1129.7,547.2 L1130.8,546.8 L1131.9,546.0 L1133.0,546.5 L1134.2,546.8 L1135.3,547.9 L1136.4,547.7 L1137.5,547.3 L1138.7,547.1 L1139.8,549.2 L1140.9,548.7 L1142.0,548.1 L1143.1,548.3 L1144.3,550.0 L1145.4,550.3 L1146.5,550.0 L1147.6,550.1 L1148.8,551.0 L1149.9,551.6 L1151.0,550.9 L1152.1,552.1 L1153.2,551.1 L1154.4,551.5 L1155.5,551.7 L1156.6,552.9 L1157.7,553.2 L1158.9,552.6 L1160.0,553.8 L1161.1,552.3 L1162.2,553.7 L1163.3,554.5 L1164.5,554.2 L1165.6,553.9 L1166.7,553.6 L1167.8,554.2 L1169.0,554.6 L1170.1,554.9 L1171.2,555.3 L1172.3,556.9 L1173.4,555.6 L1174.6,555.5 L1175.7,555.5 L1176.8,556.1 L1177.9,556.0 L1179.1,556.2 L1180.2,556.4 L1181.3,555.9 L1182.4,557.4 L1183.6,557.1 L1184.7,557.8 L1185.8,557.9 L1186.9,556.8 L1188.0,558.0 L1189.2,558.0 L1190.3,558.5 L1191.4,557.8 L1192.5,558.8 L1193.7,559.8 L1194.8,559.1 L1195.9,559.3 L1197.0,559.5 L1198.1,558.8 L1199.3,559.8 L1200.4,560.1 L1201.5,560.0 L1202.6,559.9 L1203.8,560.5 L1204.9,559.9 L1206.0,559.0 L1207.1,560.2 L1208.2,559.5 L1209.4,561.7 L1210.5,560.8 L1211.6,561.5 L1212.7,561.6 L1213.9,562.1 L1215.0,562.6 L1216.1,563.3 L1217.2,563.2 L1218.3,562.1 L1219.5,561.6 L1220.6,562.4 L1221.7,562.9 L1222.8,563.3 L1224.0,563.9 L1225.1,562.4 L1226.2,562.3 L1227.3,562.6 L1228.4,563.1 L1229.6,563.8 L1230.7,562.7 L1231.8,562.5 L1232.9,563.5 L1234.1,562.8 L1235.2,563.8 L1236.3,563.2 L1237.4,564.0 L1238.6,564.0 L1239.7,563.5 L1240.8,563.3 L1241.9,562.8 L1243.0,563.7 L1244.2,562.8 L1245.3,562.4 L1246.4,563.0 L1247.5,563.1 L1248.7,563.9 L1249.8,564.0 L1250.9,564.8 L1252.0,564.4 L1253.1,564.1 L1254.3,563.2 L1255.4,563.0 L1256.5,563.0 L1257.6,563.7 L1258.8,564.0 L1259.9,564.3 L1261.0,564.1 L1262.1,565.4 L1263.2,564.4 L1264.4,565.3 L1265.5,565.2 L1266.6,564.8 L1267.7,564.9 L1268.9,563.6 L1270.0,564.1 L1271.1,563.3 L1272.2,563.1 L1273.3,564.0 L1274.5,564.0 L1275.6,563.5 L1276.7,564.2 L1277.8,564.3 L1279.0,564.8 L1280.1,564.7 L1281.2,565.0 L1282.3,564.8 L1283.4,564.2 L1284.6,563.6 L1285.7,564.1 L1286.8,564.4 L1287.9,564.1 L1289.1,564.7 L1290.2,565.5 L1291.3,564.6 L1292.4,565.4 L1293.5,564.7 L1294.7,565.6 L1295.8,564.3 L1296.9,565.4 L1298.0,564.8 L1299.2,564.1 L1300.3,565.3 L1301.4,564.5 L1302.5,565.4 L1303.7,566.6 L1304.8,565.7 L1305.9,565.2 L1307.0,565.5 L1308.1,567.2 L1309.3,566.5 L1310.4,566.4 L1311.5,566.3 L1312.6,566.3 L1313.8,567.2 L1314.9,567.0 L1316.0,565.4 L1317.1,564.7 L1318.2,565.5 L1319.4,566.2 L1320.5,565.9 L1321.6,565.3 L1322.7,565.2 L1323.9,566.4 L1325.0,566.2 L1326.1,566.1 L1327.2,565.3 L1328.3,565.0 L1329.5,565.3 L1330.6,565.0 L1331.7,565.8 L1332.8,565.1 L1334.0,566.0 L1335.1,565.9 L1336.2,565.6 L1337.3,566.5 L1338.4,567.0 L1339.6,567.8 L1340.7,567.1 L1341.8,566.9 L1342.9,566.9 L1344.1,566.5 L1345.2,567.8 L1346.3,567.3 L1347.4,566.9 L1348.5,566.9 L1349.7,566.3 L1350.8,565.3 L1351.9,566.2 L1353.0,567.0 L1354.2,567.2 L1355.3,566.9 L1356.4,566.4 L1357.5,567.0 L1358.7,566.2 L1359.8,567.0 L1360.9,566.3 L1362.0,566.2 L1363.1,566.1 L1364.3,565.0 L1365.4,565.9 L1366.5,566.3 L1367.6,566.2 L1368.8,565.8 L1369.9,567.0 L1371.0,566.7 L1372.1,567.1 L1373.2,566.5 L1374.4,565.7 L1375.5,566.1 L1376.6,566.4 L1377.7,566.4 L1378.9,568.3 L1380.0,567.1 L1381.1,566.5 L1382.2,566.5 L1383.3,566.8 L1384.5,567.2 L1385.6,567.0 L1386.7,566.1 L1387.8,566.4 L1389.0,565.7 L1390.1,567.7 L1391.2,567.5 L1392.3,566.9 L1393.4,566.8 L1394.6,567.7 L1395.7,567.6 L1396.8,566.4 L1397.9,567.3 L1399.1,567.6 L1400.2,567.8 L1401.3,567.6 L1402.4,566.8 L1403.5,566.3 L1404.7,567.7 L1405.8,566.3 L1406.9,566.8 L1408.0,567.1 L1409.2,565.8 L1410.3,566.2 L1411.4,567.2 L1412.5,567.3 L1413.6,567.5 L1414.8,567.7 L1415.9,567.4 L1417.0,566.5 L1418.1,566.3 L1419.3,567.3 L1420.4,565.3 L1421.5,566.5 L1422.6,566.5 L1423.8,566.5 L1424.9,566.1 L1426.0,566.5 L1427.1,566.3"/>
<path stroke="#00ffff" d="M660.5,128.2 L661.6,128.4 L662.7,129.5 L663.9,129.6 L665.0,130.8 L666.1,131.8 L667.2,132.8 L668.4,133.5 L669.5,134.9 L670.6,135.8 L671.7,137.7 L672.8,140.3 L674.0,141.4 L675.1,143.8 L676.2,145.1 L677.3,148.1 L678.5,150.0 L679.6,152.2 L680.7,156.4 L681.8,158.9 L682.9,161.2 L684.1,161.8 L685.2,165.2 L686.3,166.3 L687.4,167.8 L688.6,169.9 L689.7,171.9 L690.8,174.6 L691.9,176.8 L693.1,178.9 L694.2,180.9 L695.3,182.9 L696.4,185.6 L697.5,188.5 L698.7,191.1 L699.8,193.0 L700.9,196.5 L702.0,199.3 L703.2,201.4 L704.3,203.7 L705.4,205.9 L706.5,209.7 L707.6,211.4 L708.8,213.3 L709.9,214.7 L711.0,218.2 L712.1,220.0 L713.3,221.5 L714.4,223.2 L715.5,224.6 L716.6,226.4 L717.7,229.6 L718.9,231.3 L720.0,233.6 L721.1,236.1 L722.2,237.0 L723.4,239.7 L724.5,242.2 L725.6,244.2 L726.7,246.5 L727.8,247.6 L729.0,249.5 L730.1,250.8 L731.2,253.1 L732.3,256.0 L733.5,257.5 L734.6,260.3 L735.7,262.7 L736.8,264.8 L737.9,266.7 L739.1,267.9 L740.2,270.6 L741.3,272.4 L742.4,274.4 L743.6,277.1 L744.7,279.3 L745.8,280.7 L746.9,281.8 L748.0,283.1 L749.2,284.4 L750.3,286.1 L751.4,287.9 L752.5,288.9 L753.7,290.9 L754.8,292.8 L755.9,293.7 L757.0,295.5 L758.2,296.4 L759.3,297.5 L760.4,298.5 L761.5,299.3 L762.6,300.6 L763.8,301.7 L764.9,303.5 L766.0,304.0 L767.1,305.3 L768.3,305.9 L769.4,308.7 L770.5,309.6 L771.6,310.0 L772.7,312.6 L773.9,313.4 L775.0,314.3 L776.1,315.5 L777.2,318.0 L778.4,319.1 L779.5,320.7 L780.6,323.1 L781.7,324.2 L782.8,326.2 L784.0,328.1 L785.1,330.3 L786.2,331.7 L787.3,333.5 L788.5,334.5 L789.6,336.2 L790.7,338.3 L791.8,339.8 L792.9,340.4 L794.1,342.0 L795.2,342.8 L796.3,343.5 L797.4,344.7 L798.6,347.0 L799.7,347.0 L800.8,347.3 L801.9,347.8 L803.0,348.9 L804.2,348.6 L805.3,349.5 L806.4,350.6 L807.5,351.5 L808.7,351.7 L809.8,352.9 L810.9,353.9 L812.0,352.9 L813.2,353.1 L814.3,353.7 L815.4,354.2 L816.5,355.3 L817.6,357.7 L818.8,357.7 L819.9,358.0 L821.0,359.1 L822.1,361.6 L823.3,361.5 L824.4,361.8 L825.5,363.6 L826.6,364.6 L827.7,365.2 L828.9,366.6 L830.0,367.1 L831.1,368.5 L832.2,369.3 L833.4,370.7 L834.5,372.8 L835.6,374.2 L836.7,372.9 L837.8,374.4 L839.0,375.1 L840.1,376.0 L841.2,376.7 L842.3,378.2 L843.5,380.2 L844.6,381.4 L845.7,383.7 L846.8,384.3 L847.9,384.4 L849.1,386.8 L850.2,387.1 L851.3,387.2 L852.4,387.4 L853.6,389.4 L854.7,390.7 L855.8,392.6 L856.9,393.5 L858.0,393.4 L859.2,392.8 L860.3,394.9 L861.4,394.9 L862.5,395.8 L863.7,397.4 L864.8,396.9 L865.9,400.0 L867.0,400.5 L868.1,401.1 L869.3,400.5 L870.4,400.8 L871.5,401.1 L872.6,403.0 L873.8,403.9 L874.9,404.5 L876.0,405.7 L877.1,406.9 L878.3,408.3 L879.4,409.5 L880.5,411.1 L881.6,410.4 L882.7,411.9 L883.9,414.1 L885.0,414.2 L886.1,414.8 L887.2,415.4 L888.4,415.1 L889.5,416.5 L890.6,417.7 L891.7,419.1 L892.8,419.8 L894.0,420.8 L895.1,421.3 L896.2,420.1 L897.3,421.5 L898.5,423.4 L899.6,423.1 L900.7,424.0 L901.8,424.8 L902.9,425.7 L904.1,426.5 L905.2,427.4 L906.3,427.7 L907.4,428.5 L908.6,429.1 L909.7,430.9 L910.8,432.0 L911.9,433.3 L913.0,433.4 L914.2,433.8 L915.3,435.2 L916.4,435.6 L917.5,434.9 L918.7,435.7 L919.8,438.0 L920.9,438.9 L922.0,439.3 L923.1,440.3 L924.3,440.9 L925.4,441.0 L926.5,442.0 L927.6,443.7 L928.8,443.8 L929.9,444.7 L931.0,445.4 L932.1,446.4 L933.3,447.8 L934.4,448.8 L935.5,449.1 L936.6,449.9 L937.7,451.7 L938.9,450.5 L940.0,451.6 L941.1,452.1 L942.2,451.9 L943.4,453.8 L944.5,452.8 L945.6,453.7 L946.7,453.6 L947.8,454.5 L949.0,454.7 L950.1,455.1 L951.2,455.7 L952.3,457.3 L953.5,458.3 L954.6,458.2 L955.7,457.5 L956.8,458.6 L957.9,458.8 L959.1,459.5 L960.2,460.1 L961.3,460.4 L962.4,462.5 L963.6,462.9 L964.7,463.9 L965.8,464.9 L966.9,466.1 L968.0,467.2 L969.2,468.3 L970.3,469.4 L971.4,468.0 L972.5,468.1 L973.7,469.6 L974.8,470.3 L975.9,472.0 L977.0,474.4 L978.1,475.3 L979.3,474.9 L980.4,474.1 L981.5,474.8 L982.6,476.0 L983.8,476.4 L984.9,477.4 L986.0,478.4 L987.1,478.4 L988.2,478.7 L989.4,479.4 L990.5,480.0 L991.6,480.5 L992.7,480.3 L993.9,479.6 L995.0,480.5 L996.1,479.6 L997.2,481.7 L998.4,481.9 L999.5,483.0 L1000.6,483.2 L1001.7,483.4 L1002.8,483.3 L1004.0,483.1 L1005.1,484.2 L1006.2,485.5 L1007.3,485.6 L1008.5,485.6 L1009.6,486.4 L1010.7,486.0 L1011.8,485.5 L1012.9,487.3 L1014.1,487.4 L1015.2,487.2 L1016.3,489.1 L1017.4,489.0 L1018.6,489.4 L1019.7,490.6 L1020.8,489.7 L1021.9,490.1 L1023.0,491.0 L1024.2,491.1 L1025.3,491.2 L1026.4,491.4 L1027.5,491.8 L1028.7,492.4 L1029.8,493.9 L1030.9,494.5 L1032.0,494.7 L1033.1,496.9 L1034.3,495.2 L1035.4,496.1 L1036.5,497.2 L1037.6,498.5 L1038.8,498.2 L1039.9,498.4 L1041.0,499.1 L1042.1,499.6 L1043.2,500.5 L1044.4,501.0 L1045.5,501.2 L1046.6,501.9 L1047.7,501.6 L1048.9,502.3 L1050.0,502.7 L1051.1,502.9 L1052.2,502.8 L1053.3,503.4 L1054.5,504.1 L1055.6,505.0 L1056.7,506.2 L1057.8,506.7 L1059.0,506.6 L1060.1,507.1 L1061.2,507.9 L1062.3,509.2 L1063.5,510.3 L1064.6,509.9 L1065.7,509.5 L1066.8,509.9 L1067.9,511.4 L1069.1,511.7 L1070.2,511.8 L1071.3,512.8 L1072.4,512.7 L1073.6,513.2 L1074.7,514.1 L1075.8,515.0 L1076.9,514.5 L1078.0,514.6 L1079.2,515.6 L1080.3,516.5 L1081.4,515.9 L1082.5,516.0 L1083.7,516.7 L1084.8,516.1 L1085.9,517.2 L1087.0,518.4 L1088.1,517.9 L1089.3,518.5 L1090.4,518.7 L1091.5,519.2 L1092.6,520.3 L1093.8,521.1 L1094.9,521.1 L1096.0,520.3 L1097.1,521.5 L1098.2,520.8 L1099.4,521.3 L1100.5,522.6 L1101.6,522.6 L1102.7,522.5 L1103.9,523.6 L1105.0,525.1 L1106.1,524.5 L1107.2,525.2 L1108.3,524.8 L1109.5,526.2 L1110.6,526.0 L1111.7,526.4 L1112.8,527.2 L1114.0,527.1 L1115.1,526.8 L1116.2,527.3 L1117.3,528.1 L1118.5,527.8 L1119.6,529.0 L1120.7,528.4 L1121.8,528.2 L1122.9,527.5 L1124.1,527.8 L1125.2,528.4 L1126.3,529.0 L1127.4,529.6 L1128.6,530.9 L1129.7,530.0 L1130.8,530.2 L1131.9,531.0 L1133.0,532.2 L1134.2,531.3 L1135.3,531.5 L1136.4,532.9 L1137.5,532.6 L1138.7,531.9 L1139.8,532.8 L1140.9,533.2 L1142.0,534.0 L1143.1,534.8 L1144.3,534.3 L1145.4,532.9 L1146.5,534.1 L1147.6,535.1 L1148.8,535.2 L1149.9,536.1 L1151.0,536.1 L1152.1,536.1 L1153.2,537.4 L1154.4,538.3 L1155.5,538.4 L1156.6,537.9 L1157.7,538.2 L1158.9,537.8 L1160.0,539.4 L1161.1,539.3 L1162.2,540.0 L1163.3,540.1 L1164.5,540.1 L1165.6,541.1 L1166.7,541.3 L1167.8,542.1 L1169.0,541.8 L1170.1,542.4 L1171.2,542.7 L1172.3,542.5 L1173.4,543.1 L1174.6,542.4 L1175.7,543.2 L1176.8,542.9 L1177.9,543.2 L1179.1,544.3 L1180.2,544.5 L1181.3,545.2 L1182.4,545.3 L1183.6,545.5 L1184.7,544.4 L1185.8,545.3 L1186.9,544.7 L1188.0,545.2 L1189.2,546.6 L1190.3,548.2 L1191.4,547.3 L1192.5,548.6 L1193.7,547.7 L1194.8,547.2 L1195.9,547.4 L1197.0,548.0 L1198.1,548.5 L1199.3,548.6 L1200.4,549.1 L1201.5,549.6 L1202.6,549.9 L1203.8,549.2 L1204.9,550.1 L1206.0,550.1 L1207.1,551.1 L1208.2,551.5 L1209.4,552.3 L1210.5,552.1 L1211.6,551.5 L1212.7,551.5 L1213.9,552.1 L1215.0,551.9 L1216.1,552.4 L1217.2,552.4 L1218.3,552.5 L1219.5,552.5 L1220.6,554.5 L1221.7,554.9 L1222.8,554.0 L1224.0,554.1 L1225.1,552.8 L1226.2,553.7 L1227.3,554.5 L1228.4,553.7 L1229.6,554.0 L1230.7,553.4 L1231.8,554.0 L1232.9,554.9 L1234.1,554.9 L1235.2,555.9 L1236.3,556.3 L1237.4,556.7 L1238.6,556.8 L1239.7,556.4 L1240.8,557.0 L1241.9,556.9 L1243.0,557.4 L1244.2,556.9 L1245.3,559.0 L1246.4,558.7 L1247.5,558.3 L1248.7,558.9 L1249.8,558.1 L1250.9,558.2 L1252.0,557.6 L1253.1,557.6 L1254.3,557.8 L1255.4,558.5 L1256.5,559.5 L1257.6,559.6 L1258.8,559.9 L1259.9,559.6 L1261.0,560.0 L1262.1,558.0 L1263.2,559.9 L1264.4,559.2 L1265.5,559.9 L1266.6,560.2 L1267.7,559.6 L1268.9,559.9 L1270.0,560.9 L1271.1,560.4 L1272.2,560.5 L1273.3,561.7 L1274.5,561.0 L1275.6,561.4 L1276.7,561.5 L1277.8,560.7 L1279.0,560.4 L1280.1,560.6 L1281.2,559.2 L1282.3,559.5 L1283.4,560.3 L1284.6,560.3 L1285.7,560.4 L1286.8,561.8 L1287.9,562.2 L1289.1,562.3 L1290.2,560.2 L1291.3,560.4 L1292.4,560.6 L1293.5,560.9 L1294.7,560.1 L1295.8,560.3 L1296.9,559.3 L1298.0,559.3 L1299.2,558.8 L1300.3,559.6 L1301.4,559.8 L1302.5,560.4 L1303.7,560.5 L1304.8,561.6 L1305.9,561.4 L1307.0,561.6 L1308.1,561.5 L1309.3,560.3 L1310.4,560.2 L1311.5,559.6 L1312.6,559.4 L1313.8,559.3 L1314.9,559.2 L1316.0,560.2 L1317.1,559.8 L1318.2,560.3 L1319.4,560.7 L1320.5,559.9 L1321.6,558.8 L1322.7,560.2 L1323.9,559.2 L1325.0,559.3 L1326.1,560.3 L1327.2,560.2 L1328.3,560.1 L1329.5,560.0 L1330.6,560.5 L1331.7,561.3 L1332.8,560.9 L1334.0,560.2 L1335.1,559.8 L1336.2,559.7 L1337.3,559.4 L1338.4,560.5 L1339.6,560.5 L1340.7,560.3 L1341.8,559.8 L1342.9,560.0 L1344.1,560.0 L1345.2,560.2 L1346.3,559.1 L1347.4,561.1 L1348.5,560.9 L1349.7,559.3 L1350.8,559.8 L1351.9,561.4 L1353.0,561.0 L1354.2,561.8 L1355.3,561.8 L1356.4,561.3 L1357.5,560.1 L1358.7,560.2 L1359.8,560.2 L1360.9,559.9 L1362.0,560.4 L1363.1,561.3 L1364.3,561.3 L1365.4,561.1 L1366.5,561.4 L1367.6,561.8 L1368.8,561.9 L1369.9,562.6 L1371.0,562.8 L1372.1,562.3 L1373.2,562.2 L1374.4,562.0 L1375.5,561.0 L1376.6,561.2 L1377.7,561.5 L1378.9,562.5 L1380.0,562.9 L1381.1,562.3 L1382.2,562.8 L1383.3,562.3 L1384.5,562.9 L1385.6,562.6 L1386.7,562.5 L1387.8,561.9 L1389.0,562.4 L1390.1,562.7 L1391.2,562.6 L1392.3,562.6 L1393.4,561.6 L1394.6,562.4 L1395.7,562.9 L1396.8,563.2 L1397.9,562.8 L1399.1,562.8 L1400.2,562.6 L1401.3,563.7 L1402.4,562.0 L1403.5,561.5 L1404.7,562.4 L1405.8,563.7 L1406.9,563.5 L1408.0,563.3 L1409.2,564.9 L1410.3,564.4 L1411.4,565.1 L1412.5,564.3 L1413.6,563.3 L1414.8,563.0 L1415.9,564.4 L1417.0,563.4 L1418.1,563.2 L1419.3,563.9 L1420.4,563.8 L1421.5,563.1 L1422.6,563.9 L1423.8,564.2 L1424.9,564.7 L1426.0,563.9 L1427.1,565.6"/>
<path stroke="#ff00ff" d="M660.5,123.5 L661.6,123.8 L662.7,122.9 L663.9,124.5 L665.0,125.5 L666.1,126.7 L667.2,127.4 L668.4,129.6 L669.5,130.2 L670.6,132.3 L671.7,133.4 L672.8,136.1 L674.0,138.3 L675.1,141.3 L676.2,143.1 L677.3,146.8 L678.5,150.1 L679.6,152.1 L680.7,155.9 L681.8,159.0 L682.9,163.0 L684.1,166.0 L685.2,170.4 L686.3,172.6 L687.4,175.4 L688.6,178.5 L689.7,181.1 L690.8,181.9 L691.9,183.6 L693.1,186.6 L694.2,186.9 L695.3,189.3 L696.4,191.1 L697.5,192.4 L698.7,194.7 L699.8,196.9 L700.9,198.3 L702.0,198.6 L703.2,199.6 L704.3,202.5 L705.4,203.2 L706.5,205.0 L707.6,206.6 L708.8,208.5 L709.9,210.2 L711.0,212.9 L712.1,215.3 L713.3,217.3 L714.4,219.1 L715.5,220.5 L716.6,223.3 L717.7,224.0 L718.9,226.7 L720.0,229.0 L721.1,230.4 L722.2,232.3 L723.4,234.7 L724.5,237.3 L725.6,239.6 L726.7,242.1 L727.8,242.6 L729.0,243.8 L730.1,244.8 L731.2,247.1 L732.3,249.2 L733.5,251.0 L734.6,252.7 L735.7,255.2 L736.8,257.0 L737.9,257.7 L739.1,261.3 L740.2,263.9 L741.3,265.8 L742.4,266.6 L743.6,267.5 L744.7,269.7 L745.8,271.0 L746.9,272.9 L748.0,274.5 L749.2,276.6 L750.3,278.2 L751.4,279.8 L752.5,280.6 L753.7,281.1 L754.8,284.6 L755.9,285.7 L757.0,287.4 L758.2,288.4 L759.3,289.5 L760.4,290.9 L761.5,292.4 L762.6,294.9 L763.8,297.3 L764.9,297.2 L766.0,298.0 L767.1,300.4 L768.3,300.8 L769.4,302.0 L770.5,305.1 L771.6,305.3 L772.7,307.0 L773.9,307.2 L775.0,308.9 L776.1,310.3 L777.2,312.0 L778.4,312.6 L779.5,312.5 L780.6,314.0 L781.7,315.9 L782.8,314.9 L784.0,315.0 L785.1,316.1 L786.2,317.9 L787.3,319.7 L788.5,321.4 L789.6,321.3 L790.7,321.3 L791.8,323.1 L792.9,323.9 L794.1,325.0 L795.2,326.0 L796.3,326.6 L797.4,326.5 L798.6,328.6 L799.7,329.3 L800.8,330.2 L801.9,332.0 L803.0,333.5 L804.2,335.7 L805.3,336.0 L806.4,337.7 L807.5,339.4 L808.7,340.5 L809.8,342.2 L810.9,343.9 L812.0,345.0 L813.2,345.0 L814.3,346.7 L815.4,347.7 L816.5,350.0 L817.6,352.1 L818.8,351.5 L819.9,353.0 L821.0,355.0 L822.1,355.8 L823.3,356.2 L824.4,358.4 L825.5,359.6 L826.6,360.0 L827.7,361.4 L828.9,361.6 L830.0,362.1 L831.1,363.1 L832.2,364.7 L833.4,365.7 L834.5,367.1 L835.6,368.0 L836.7,368.7 L837.8,369.9 L839.0,370.1 L840.1,369.7 L841.2,371.9 L842.3,372.9 L843.5,373.6 L844.6,374.5 L845.7,375.9 L846.8,377.3 L847.9,377.5 L849.1,378.2 L850.2,379.1 L851.3,380.7 L852.4,381.1 L853.6,381.6 L854.7,382.9 L855.8,383.4 L856.9,383.1 L858.0,385.8 L859.2,386.1 L860.3,387.7 L861.4,389.1 L862.5,389.4 L863.7,389.5 L864.8,390.2 L865.9,391.6 L867.0,393.0 L868.1,393.5 L869.3,393.7 L870.4,394.7 L871.5,396.0 L872.6,395.1 L873.8,396.5 L874.9,397.2 L876.0,398.2 L877.1,399.1 L878.3,399.5 L879.4,400.3 L880.5,400.6 L881.6,402.2 L882.7,403.6 L883.9,402.6 L885.0,403.7 L886.1,404.2 L887.2,404.6 L888.4,405.5 L889.5,406.8 L890.6,408.9 L891.7,410.4 L892.8,410.0 L894.0,410.4 L895.1,411.1 L896.2,413.2 L897.3,415.0 L898.5,415.8 L899.6,416.6 L900.7,416.6 L901.8,417.7 L902.9,417.0 L904.1,418.4 L905.2,419.5 L906.3,419.5 L907.4,420.2 L908.6,421.6 L909.7,421.7 L910.8,421.3 L911.9,423.4 L913.0,424.2 L914.2,425.4 L915.3,427.0 L916.4,426.5 L917.5,426.4 L918.7,426.4 L919.8,427.1 L920.9,429.2 L922.0,429.4 L923.1,430.1 L924.3,431.1 L925.4,431.8 L926.5,431.2 L927.6,431.8 L928.8,431.0 L929.9,431.7 L931.0,433.8 L932.1,433.4 L933.3,433.1 L934.4,434.0 L935.5,435.4 L936.6,434.6 L937.7,436.2 L938.9,436.6 L940.0,438.1 L941.1,438.7 L942.2,439.5 L943.4,438.4 L944.5,437.9 L945.6,438.8 L946.7,440.0 L947.8,440.1 L949.0,440.0 L950.1,441.3 L951.2,442.0 L952.3,441.9 L953.5,441.5 L954.6,441.9 L955.7,442.1 L956.8,443.5 L957.9,445.3 L959.1,444.8 L960.2,445.6 L961.3,445.8 L962.4,446.4 L963.6,446.5 L964.7,447.7 L965.8,447.3 L966.9,448.3 L968.0,448.9 L969.2,449.5 L970.3,449.9 L971.4,450.9 L972.5,453.1 L973.7,454.0 L974.8,453.2 L975.9,454.0 L977.0,454.7 L978.1,455.4 L979.3,456.8 L980.4,457.9 L981.5,458.8 L982.6,458.4 L983.8,459.0 L984.9,458.8 L986.0,459.7 L987.1,459.6 L988.2,460.8 L989.4,462.7 L990.5,462.2 L991.6,463.1 L992.7,463.3 L993.9,464.4 L995.0,465.5 L996.1,466.1 L997.2,467.6 L998.4,468.7 L999.5,469.4 L1000.6,469.8 L1001.7,470.8 L1002.8,470.8 L1004.0,470.9 L1005.1,470.1 L1006.2,470.0 L1007.3,471.4 L1008.5,471.9 L1009.6,473.1 L1010.7,473.7 L1011.8,474.5 L1012.9,475.6 L1014.1,476.0 L1015.2,477.5 L1016.3,477.4 L1017.4,478.1 L1018.6,479.2 L1019.7,479.6 L1020.8,479.6 L1021.9,480.6 L1023.0,480.7 L1024.2,480.9 L1025.3,480.7 L1026.4,482.5 L1027.5,483.2 L1028.7,483.4 L1029.8,483.2 L1030.9,484.1 L1032.0,484.5 L1033.1,486.4 L1034.3,487.2 L1035.4,486.4 L1036.5,487.5 L1037.6,486.8 L1038.8,488.5 L1039.9,489.4 L1041.0,491.0 L1042.1,490.7 L1043.2,491.0 L1044.4,490.3 L1045.5,491.3 L1046.6,492.4 L1047.7,494.0 L1048.9,494.2 L1050.0,493.9 L1051.1,494.1 L1052.2,494.2 L1053.3,494.6 L1054.5,495.7 L1055.6,496.1 L1056.7,496.8 L1057.8,498.3 L1059.0,497.4 L1060.1,498.0 L1061.2,499.5 L1062.3,499.5 L1063.5,499.8 L1064.6,499.7 L1065.7,499.6 L1066.8,502.6 L1067.9,502.1 L1069.1,501.4 L1070.2,502.8 L1071.3,504.4 L1072.4,504.0 L1073.6,504.0 L1074.7,504.2 L1075.8,505.4 L1076.9,505.8 L1078.0,505.8 L1079.2,505.6 L1080.3,504.8 L1081.4,505.7 L1082.5,506.9 L1083.7,508.9 L1084.8,508.0 L1085.9,508.4 L1087.0,508.8 L1088.1,509.8 L1089.3,509.3 L1090.4,510.9 L1091.5,510.7 L1092.6,510.7 L1093.8,510.8 L1094.9,510.4 L1096.0,511.2 L1097.1,511.7 L1098.2,511.6 L1099.4,513.2 L1100.5,513.5 L1101.6,513.5 L1102.7,513.2 L1103.9,514.2 L1105.0,513.9 L1106.1,514.2 L1107.2,515.6 L1108.3,516.6 L1109.5,517.2 L1110.6,516.7 L1111.7,516.5 L1112.8,516.2 L1114.0,516.1 L1115.1,517.0 L1116.2,516.6 L1117.3,516.7 L1118.5,517.1 L1119.6,517.4 L1120.7,518.8 L1121.8,518.7 L1122.9,519.6 L1124.1,520.3 L1125.2,520.3 L1126.3,520.1 L1127.4,520.2 L1128.6,520.5 L1129.7,521.2 L1130.8,521.0 L1131.9,521.5 L1133.0,522.3 L1134.2,521.9 L1135.3,520.9 L1136.4,521.7 L1137.5,522.6 L1138.7,521.7 L1139.8,521.0 L1140.9,522.1 L1142.0,522.7 L1143.1,522.9 L1144.3,521.3 L1145.4,522.3 L1146.5,522.5 L1147.6,523.0 L1148.8,524.9 L1149.9,525.5 L1151.0,526.1 L1152.1,525.4 L1153.2,525.4 L1154.4,524.4 L1155.5,525.3 L1156.6,525.6 L1157.7,526.0 L1158.9,526.3 L1160.0,525.2 L1161.1,526.1 L1162.2,525.9 L1163.3,526.1 L1164.5,527.6 L1165.6,527.7 L1166.7,528.6 L1167.8,528.9 L1169.0,529.2 L1170.1,529.6 L1171.2,530.3 L1172.3,529.5 L1173.4,530.4 L1174.6,530.4 L1175.7,529.9 L1176.8,530.5 L1177.9,530.6 L1179.1,530.6 L1180.2,530.9 L1181.3,530.8 L1182.4,532.9 L1183.6,532.0 L1184.7,532.8 L1185.8,534.5 L1186.9,534.9 L1188.0,535.7 L1189.2,535.3 L1190.3,536.2 L1191.4,536.4 L1192.5,535.8 L1193.7,535.7 L1194.8,536.3 L1195.9,536.4 L1197.0,536.4 L1198.1,536.4 L1199.3,536.6 L1200.4,536.9 L1201.5,536.4 L1202.6,537.8 L1203.8,538.0 L1204.9,537.8 L1206.0,538.0 L1207.1,538.4 L1208.2,538.6 L1209.4,538.3 L1210.5,537.6 L1211.6,538.2 L1212.7,538.6 L1213.9,538.5 L1215.0,538.9 L1216.1,540.3 L1217.2,539.7 L1218.3,539.9 L1219.5,540.2 L1220.6,539.6 L1221.7,539.8 L1222.8,540.3 L1224.0,541.7 L1225.1,542.3 L1226.2,541.5 L1227.3,541.3 L1228.4,540.8 L1229.6,540.8 L1230.7,541.3 L1231.8,542.2 L1232.9,542.6 L1234.1,542.3 L1235.2,542.9 L1236.3,542.0 L1237.4,543.0 L1238.6,543.9 L1239.7,543.4 L1240.8,544.2 L1241.9,542.6 L1243.0,543.5 L1244.2,543.4 L1245.3,543.6 L1246.4,544.1 L1247.5,545.1 L1248.7,545.8 L1249.8,544.5 L1250.9,543.8 L1252.0,542.7 L1253.1,544.6 L1254.3,544.3 L1255.4,544.7 L1256.5,544.4 L1257.6,545.2 L1258.8,544.9 L1259.9,544.7 L1261.0,544.9 L1262.1,544.5 L1263.2,545.5 L1264.4,544.9 L1265.5,546.2 L1266.6,545.4 L1267.7,547.9 L1268.9,547.6 L1270.0,548.0 L1271.1,547.8 L1272.2,547.1 L1273.3,547.0 L1274.5,547.4 L1275.6,546.7 L1276.7,548.4 L1277.8,549.0 L1279.0,547.9 L1280.1,548.1 L1281.2,549.9 L1282.3,549.4 L1283.4,550.2 L1284.6,549.0 L1285.7,548.6 L1286.8,549.6 L1287.9,549.0 L1289.1,550.2 L1290.2,549.7 L1291.3,549.8 L1292.4,550.4 L1293.5,551.6 L1294.7,551.6 L1295.8,553.0 L1296.9,552.7 L1298.0,553.5 L1299.2,552.0 L1300.3,552.6 L1301.4,554.0 L1302.5,552.9 L1303.7,552.5 L1304.8,552.8 L1305.9,551.4 L1307.0,551.6 L1308.1,552.1 L1309.3,552.9 L1310.4,554.9 L1311.5,553.8 L1312.6,552.9 L1313.8,553.4 L1314.9,554.3 L1316.0,553.9 L1317.1,554.7 L1318.2,554.1 L1319.4,553.3 L1320.5,552.4 L1321.6,552.7 L1322.7,552.9 L1323.9,552.7 L1325.0,552.1 L1326.1,553.0 L1327.2,554.0 L1328.3,554.3 L1329.5,554.8 L1330.6,554.8 L1331.7,554.3 L1332.8,553.8 L1334.0,553.6 L1335.1,553.5 L1336.2,553.8 L1337.3,553.4 L1338.4,553.0 L1339.6,552.8 L1340.7,552.2 L1341.8,553.0 L1342.9,553.5 L1344.1,552.5 L1345.2,552.9 L1346.3,553.0 L1347.4,553.5 L1348.5,553.0 L1349.7,553.6 L1350.8,554.3 L1351.9,554.1 L1353.0,554.3 L1354.2,553.6 L1355.3,554.0 L1356.4,553.9 L1357.5,554.0 L1358.7,553.8 L1359.8,554.3 L1360.9,553.5 L1362.0,554.7 L1363.1,554.7 L1364.3,555.0 L1365.4,554.3 L1366.5,554.3 L1367.6,554.1 L1368.8,554.5 L1369.9,555.0 L1371.0,555.6 L1372.1,555.5 L1373.2,555.6 L1374.4,555.1 L1375.5,554.9 L1376.6,554.5 L1377.7,555.0 L1378.9,555.7 L1380.0,556.4 L1381.1,556.2 L1382.2,555.9 L1383.3,554.8 L1384.5,555.5 L1385.6,554.9 L1386.7,554.6 L1387.8,556.4 L1389.0,556.0 L1390.1,555.9 L1391.2,555.8 L1392.3,556.7 L1393.4,556.7 L1394.6,557.6 L1395.7,558.0 L1396.8,558.2 L1397.9,557.2 L1399.1,558.1 L1400.2,557.8 L1401.3,558.3 L1402.4,559.2 L1403.5,559.1 L1404.7,558.8 L1405.8,559.6 L1406.9,559.3 L1408.0,560.0 L1409.2,560.6 L1410.3,560.2 L1411.4,560.4 L1412.5,561.0 L1413.6,561.9 L1414.8,561.3 L1415.9,560.9 L1417.0,561.2 L1418.1,561.0 L1419.3,562.1 L1420.4,561.5 L1421.5,561.2 L1422.6,561.2 L1423.8,561.8 L1424.9,561.8 L1426.0,561.8 L1427.1,561.3"/>
<path stroke="#ffff00" d="M660.5,106.8 L661.6,106.2 L662.7,106.4 L663.9,106.2 L665.0,106.8 L666.1,109.1 L667.2,110.6 L668.4,112.0 L669.5,113.8 L670.6,116.6 L671.7,117.3 L672.8,121.1 L674.0,123.1 L675.1,125.7 L676.2,127.4 L677.3,130.5 L678.5,133.1 L679.6,135.4 L680.7,137.9 L681.8,141.1 L682.9,143.2 L684.1,145.6 L685.2,147.7 L686.3,150.8 L687.4,153.2 L688.6,155.7 L689.7,158.5 L690.8,160.4 L691.9,162.4 L693.1,163.9 L694.2,166.9 L695.3,169.1 L696.4,170.8 L697.5,173.6 L698.7,176.0 L699.8,178.2 L700.9,180.9 L702.0,183.6 L703.2,184.5 L704.3,186.5 L705.4,188.5 L706.5,191.1 L707.6,192.3 L708.8,193.1 L709.9,195.7 L711.0,197.8 L712.1,198.4 L713.3,199.2 L714.4,200.4 L715.5,203.2 L716.6,204.7 L717.7,207.2 L718.9,208.5 L720.0,210.6 L721.1,212.1 L722.2,213.0 L723.4,214.8 L724.5,216.9 L725.6,218.6 L726.7,219.9 L727.8,221.8 L729.0,222.9 L730.1,223.9 L731.2,224.2 L732.3,227.2 L733.5,228.8 L734.6,230.1 L735.7,229.9 L736.8,229.2 L737.9,230.8 L739.1,232.2 L740.2,232.9 L741.3,236.2 L742.4,237.3 L743.6,240.5 L744.7,240.9 L745.8,242.4 L746.9,244.0 L748.0,245.2 L749.2,247.2 L750.3,248.1 L751.4,250.0 L752.5,251.5 L753.7,251.5 L754.8,254.1 L755.9,255.2 L757.0,257.4 L758.2,257.7 L759.3,258.5 L760.4,259.9 L761.5,260.6 L762.6,260.9 L763.8,261.7 L764.9,263.4 L766.0,264.9 L767.1,265.4 L768.3,267.8 L769.4,269.1 L770.5,269.6 L771.6,270.3 L772.7,270.4 L773.9,271.0 L775.0,272.8 L776.1,274.3 L777.2,276.8 L778.4,278.0 L779.5,279.0 L780.6,280.5 L781.7,281.8 L782.8,282.8 L784.0,285.0 L785.1,286.6 L786.2,289.0 L787.3,289.2 L788.5,291.4 L789.6,293.8 L790.7,294.2 L791.8,295.8 L792.9,296.5 L794.1,298.5 L795.2,298.6 L796.3,300.1 L797.4,301.9 L798.6,303.4 L799.7,305.0 L800.8,305.6 L801.9,305.7 L803.0,307.7 L804.2,309.6 L805.3,309.9 L806.4,310.1 L807.5,312.2 L808.7,313.2 L809.8,314.2 L810.9,314.1 L812.0,314.4 L813.2,315.7 L814.3,316.9 L815.4,316.7 L816.5,318.7 L817.6,318.4 L818.8,319.0 L819.9,318.4 L821.0,319.0 L822.1,320.7 L823.3,321.8 L824.4,322.9 L825.5,324.1 L826.6,324.8 L827.7,325.1 L828.9,327.3 L830.0,328.3 L831.1,328.3 L832.2,329.4 L833.4,331.6 L834.5,333.4 L835.6,335.1 L836.7,337.1 L837.8,337.1 L839.0,338.4 L840.1,340.3 L841.2,342.4 L842.3,343.4 L843.5,344.6 L844.6,344.4 L845.7,346.1 L846.8,347.2 L847.9,347.6 L849.1,348.4 L850.2,349.8 L851.3,352.2 L852.4,351.5 L853.6,352.0 L854.7,353.1 L855.8,353.8 L856.9,355.0 L858.0,355.8 L859.2,356.9 L860.3,356.4 L861.4,356.4 L862.5,356.8 L863.7,356.8 L864.8,357.2 L865.9,357.9 L867.0,359.1 L868.1,359.1 L869.3,358.9 L870.4,359.4 L871.5,359.5 L872.6,360.9 L873.8,362.2 L874.9,361.8 L876.0,363.1 L877.1,363.5 L878.3,364.4 L879.4,365.1 L880.5,366.1 L881.6,367.2 L882.7,369.0 L883.9,368.2 L885.0,369.3 L886.1,371.8 L887.2,373.1 L888.4,374.5 L889.5,375.6 L890.6,378.0 L891.7,377.9 L892.8,377.8 L894.0,379.6 L895.1,380.5 L896.2,381.7 L897.3,384.1 L898.5,384.3 L899.6,386.8 L900.7,388.0 L901.8,389.0 L902.9,388.9 L904.1,390.0 L905.2,391.2 L906.3,392.6 L907.4,393.2 L908.6,393.9 L909.7,394.2 L910.8,394.2 L911.9,395.0 L913.0,396.2 L914.2,397.2 L915.3,397.0 L916.4,398.0 L917.5,399.0 L918.7,398.7 L919.8,398.9 L920.9,399.9 L922.0,401.1 L923.1,402.3 L924.3,402.1 L925.4,403.2 L926.5,403.0 L927.6,404.2 L928.8,404.5 L929.9,404.6 L931.0,405.0 L932.1,405.2 L933.3,405.4 L934.4,406.6 L935.5,407.4 L936.6,407.4 L937.7,406.3 L938.9,407.0 L940.0,408.1 L941.1,408.7 L942.2,408.8 L943.4,408.3 L944.5,409.3 L945.6,409.4 L946.7,409.9 L947.8,410.7 L949.0,411.8 L950.1,412.2 L951.2,413.0 L952.3,412.9 L953.5,414.6 L954.6,413.9 L955.7,414.1 L956.8,414.6 L957.9,414.5 L959.1,415.3 L960.2,417.5 L961.3,417.9 L962.4,418.1 L963.6,419.2 L964.7,420.4 L965.8,420.3 L966.9,420.5 L968.0,421.4 L969.2,422.0 L970.3,422.8 L971.4,423.5 L972.5,423.7 L973.7,423.4 L974.8,425.1 L975.9,425.4 L977.0,424.6 L978.1,425.1 L979.3,425.7 L980.4,425.8 L981.5,427.1 L982.6,428.2 L983.8,429.2 L984.9,429.8 L986.0,429.2 L987.1,428.7 L988.2,429.4 L989.4,430.0 L990.5,429.9 L991.6,429.8 L992.7,430.2 L993.9,431.9 L995.0,432.2 L996.1,433.7 L997.2,433.0 L998.4,433.5 L999.5,433.8 L1000.6,432.8 L1001.7,432.6 L1002.8,433.2 L1004.0,433.8 L1005.1,434.5 L1006.2,435.5 L1007.3,436.0 L1008.5,435.3 L1009.6,436.9 L1010.7,437.9 L1011.8,438.3 L1012.9,438.3 L1014.1,438.7 L1015.2,440.3 L1016.3,441.1 L1017.4,441.9 L1018.6,443.4 L1019.7,443.7 L1020.8,444.6 L1021.9,444.7 L1023.0,445.4 L1024.2,446.9 L1025.3,447.6 L1026.4,448.7 L1027.5,449.9 L1028.7,450.8 L1029.8,450.8 L1030.9,452.1 L1032.0,454.0 L1033.1,454.8 L1034.3,454.6 L1035.4,454.0 L1036.5,456.1 L1037.6,457.1 L1038.8,457.9 L1039.9,459.4 L1041.0,459.3 L1042.1,459.9 L1043.2,460.2 L1044.4,459.4 L1045.5,460.8 L1046.6,461.1 L1047.7,461.5 L1048.9,462.9 L1050.0,463.8 L1051.1,463.1 L1052.2,463.5 L1053.3,464.3 L1054.5,465.7 L1055.6,465.4 L1056.7,465.6 L1057.8,464.9 L1059.0,465.2 L1060.1,465.9 L1061.2,466.8 L1062.3,467.6 L1063.5,468.6 L1064.6,468.8 L1065.7,469.1 L1066.8,469.2 L1067.9,469.1 L1069.1,469.7 L1070.2,470.7 L1071.3,470.6 L1072.4,470.2 L1073.6,471.6 L1074.7,471.8 L1075.8,471.9 L1076.9,472.2 L1078.0,472.5 L1079.2,473.2 L1080.3,473.7 L1081.4,473.0 L1082.5,472.7 L1083.7,474.7 L1084.8,476.6 L1085.9,476.0 L1087.0,476.5 L1088.1,476.8 L1089.3,477.8 L1090.4,477.2 L1091.5,477.3 L1092.6,477.8 L1093.8,477.4 L1094.9,476.3 L1096.0,476.4 L1097.1,476.9 L1098.2,478.2 L1099.4,478.4 L1100.5,479.1 L1101.6,478.9 L1102.7,479.3 L1103.9,480.0 L1105.0,480.2 L1106.1,481.2 L1107.2,481.0 L1108.3,480.5 L1109.5,481.6 L1110.6,481.7 L1111.7,483.3 L1112.8,482.7 L1114.0,482.5 L1115.1,483.7 L1116.2,482.8 L1117.3,483.4 L1118.5,485.1 L1119.6,485.9 L1120.7,485.0 L1121.8,485.4 L1122.9,484.9 L1124.1,486.4 L1125.2,486.4 L1126.3,485.9 L1127.4,486.8 L1128.6,486.5 L1129.7,487.2 L1130.8,487.2 L1131.9,487.4 L1133.0,486.4 L1134.2,488.2 L1135.3,488.0 L1136.4,487.7 L1137.5,489.2 L1138.7,489.4 L1139.8,488.3 L1140.9,488.6 L1142.0,491.4 L1143.1,491.3 L1144.3,492.4 L1145.4,491.9 L1146.5,492.4 L1147.6,492.7 L1148.8,493.2 L1149.9,492.9 L1151.0,493.4 L1152.1,494.1 L1153.2,494.2 L1154.4,494.0 L1155.5,494.8 L1156.6,494.2 L1157.7,495.7 L1158.9,495.4 L1160.0,495.8 L1161.1,494.9 L1162.2,495.9 L1163.3,496.6 L1164.5,497.5 L1165.6,496.0 L1166.7,496.1 L1167.8,497.3 L1169.0,497.6 L1170.1,498.2 L1171.2,497.1 L1172.3,497.3 L1173.4,499.0 L1174.6,498.7 L1175.7,498.1 L1176.8,498.5 L1177.9,498.5 L1179.1,499.0 L1180.2,499.2 L1181.3,499.5 L1182.4,500.3 L1183.6,500.3 L1184.7,500.5 L1185.8,500.9 L1186.9,501.7 L1188.0,502.5 L1189.2,502.3 L1190.3,502.0 L1191.4,504.1 L1192.5,504.2 L1193.7,503.2 L1194.8,503.2 L1195.9,504.3 L1197.0,503.9 L1198.1,505.3 L1199.3,506.1 L1200.4,505.0 L1201.5,506.2 L1202.6,506.8 L1203.8,508.3 L1204.9,508.9 L1206.0,509.6 L1207.1,509.5 L1208.2,510.7 L1209.4,509.8 L1210.5,510.4 L1211.6,511.0 L1212.7,511.6 L1213.9,511.2 L1215.0,510.7 L1216.1,511.8 L1217.2,511.3 L1218.3,511.1 L1219.5,511.4 L1220.6,512.3 L1221.7,514.1 L1222.8,513.8 L1224.0,514.4 L1225.1,514.5 L1226.2,516.0 L1227.3,515.9 L1228.4,515.6 L1229.6,516.3 L1230.7,516.0 L1231.8,515.1 L1232.9,515.5 L1234.1,516.4 L1235.2,515.1 L1236.3,517.3 L1237.4,517.8 L1238.6,517.3 L1239.7,517.7 L1240.8,519.1 L1241.9,518.3 L1243.0,517.5 L1244.2,518.2 L1245.3,517.2 L1246.4,517.3 L1247.5,517.0 L1248.7,518.5 L1249.8,518.5 L1250.9,517.5 L1252.0,516.8 L1253.1,516.8 L1254.3,517.7 L1255.4,518.2 L1256.5,518.9 L1257.6,518.3 L1258.8,519.2 L1259.9,519.1 L1261.0,520.5 L1262.1,521.0 L1263.2,519.2 L1264.4,519.4 L1265.5,519.4 L1266.6,521.0 L1267.7,520.5 L1268.9,519.0 L1270.0,520.4 L1271.1,521.8 L1272.2,521.2 L1273.3,521.2 L1274.5,521.0 L1275.6,521.6 L1276.7,522.1 L1277.8,522.3 L1279.0,521.3 L1280.1,521.2 L1281.2,520.7 L1282.3,521.7 L1283.4,521.2 L1284.6,521.6 L1285.7,521.6 L1286.8,521.1 L1287.9,521.5 L1289.1,522.0 L1290.2,523.1 L1291.3,522.7 L1292.4,522.1 L1293.5,522.7 L1294.7,522.8 L1295.8,523.9 L1296.9,524.4 L1298.0,523.5 L1299.2,522.6 L1300.3,523.1 L1301.4,524.3 L1302.5,524.3 L1303.7,525.0 L1304.8,524.6 L1305.9,523.1 L1307.0,523.3 L1308.1,523.8 L1309.3,523.4 L1310.4,524.0 L1311.5,524.0 L1312.6,524.1 L1313.8,524.1 L1314.9,525.3 L1316.0,524.6 L1317.1,524.1 L1318.2,525.9 L1319.4,527.2 L1320.5,526.8 L1321.6,525.1 L1322.7,525.1 L1323.9,524.7 L1325.0,524.6 L1326.1,524.3 L1327.2,525.2 L1328.3,525.6 L1329.5,525.3 L1330.6,525.0 L1331.7,524.9 L1332.8,525.0 L1334.0,525.7 L1335.1,525.1 L1336.2,525.2 L1337.3,525.0 L1338.4,527.2 L1339.6,526.2 L1340.7,528.0 L1341.8,527.3 L1342.9,527.6 L1344.1,527.4 L1345.2,527.7 L1346.3,527.9 L1347.4,527.7 L1348.5,527.6 L1349.7,528.4 L1350.8,530.0 L1351.9,529.8 L1353.0,528.9 L1354.2,529.4 L1355.3,528.9 L1356.4,529.1 L1357.5,529.7 L1358.7,528.7 L1359.8,527.9 L1360.9,528.6 L1362.0,529.0 L1363.1,528.6 L1364.3,529.8 L1365.4,530.3 L1366.5,529.3 L1367.6,528.9 L1368.8,529.6 L1369.9,530.2 L1371.0,529.8 L1372.1,530.7 L1373.2,530.7 L1374.4,530.5 L1375.5,531.9 L1376.6,530.7 L1377.7,530.0 L1378.9,529.4 L1380.0,530.7 L1381.1,531.3 L1382.2,531.4 L1383.3,531.8 L1384.5,529.9 L1385.6,530.8 L1386.7,530.9 L1387.8,530.6 L1389.0,530.3 L1390.1,529.6 L1391.2,530.8 L1392.3,530.2 L1393.4,530.4 L1394.6,531.4 L1395.7,531.1 L1396.8,532.0 L1397.9,530.5 L1399.1,531.3 L1400.2,530.6 L1401.3,530.0 L1402.4,531.0 L1403.5,531.7 L1404.7,531.5 L1405.8,532.1 L1406.9,531.3 L1408.0,531.3 L1409.2,531.9 L1410.3,532.2 L1411.4,531.5 L1412.5,532.6 L1413.6,531.1 L1414.8,532.0 L1415.9,532.1 L1417.0,532.6 L1418.1,531.3 L1419.3,531.1 L1420.4,530.7 L1421.5,530.9 L1422.6,531.5 L1423.8,530.7 L1424.9,531.0 L1426.0,531.3 L1427.1,531.5"/>
<path stroke="#800000" d="M660.5,101.4 L661.6,101.0 L662.7,100.9 L663.9,102.0 L665.0,101.0 L666.1,103.2 L667.2,105.7 L668.4,106.4 L669.5,105.7 L670.6,106.6 L671.7,109.0 L672.8,110.7 L674.0,112.8 L675.1,116.2 L676.2,118.0 L677.3,119.6 L678.5,120.9 L679.6,124.3 L680.7,127.9 L681.8,130.5 L682.9,131.8 L684.1,133.8 L685.2,135.9 L686.3,138.1 L687.4,140.9 L688.6,144.2 L689.7,146.0 L690.8,148.3 L691.9,150.7 L693.1,152.8 L694.2,156.7 L695.3,160.8 L696.4,163.9 L697.5,164.3 L698.7,167.7 L699.8,169.8 L700.9,172.2 L702.0,174.1 L703.2,174.6 L704.3,178.1 L705.4,180.6 L706.5,183.0 L707.6,184.5 L708.8,185.8 L709.9,188.2 L711.0,188.6 L712.1,189.7 L713.3,191.3 L714.4,193.3 L715.5,195.1 L716.6,197.7 L717.7,198.5 L718.9,200.7 L720.0,202.4 L721.1,203.2 L722.2,205.6 L723.4,207.5 L724.5,208.4 L725.6,209.1 L726.7,211.8 L727.8,212.8 L729.0,215.2 L730.1,216.5 L731.2,217.7 L732.3,219.9 L733.5,220.2 L734.6,220.4 L735.7,222.2 L736.8,223.5 L737.9,225.7 L739.1,225.7 L740.2,227.5 L741.3,230.1 L742.4,230.9 L743.6,233.6 L744.7,235.3 L745.8,238.0 L746.9,237.9 L748.0,238.0 L749.2,240.6 L750.3,242.7 L751.4,244.3 L752.5,245.8 L753.7,246.3 L754.8,246.4 L755.9,248.4 L757.0,248.9 L758.2,250.9 L759.3,250.2 L760.4,251.2 L761.5,252.5 L762.6,252.1 L763.8,253.4 L764.9,253.5 L766.0,254.2 L767.1,254.7 L768.3,257.0 L769.4,258.3 L770.5,259.2 L771.6,260.6 L772.7,260.8 L773.9,262.9 L775.0,263.5 L776.1,264.2 L777.2,267.2 L778.4,268.9 L779.5,270.4 L780.6,271.6 L781.7,272.3 L782.8,273.7 L784.0,275.1 L785.1,276.9 L786.2,278.3 L787.3,279.5 L788.5,280.7 L789.6,283.1 L790.7,284.7 L791.8,286.7 L792.9,288.1 L794.1,290.3 L795.2,290.5 L796.3,291.4 L797.4,292.9 L798.6,294.5 L799.7,295.7 L800.8,296.8 L801.9,298.3 L803.0,297.4 L804.2,296.2 L805.3,298.6 L806.4,300.2 L807.5,300.2 L808.7,300.4 L809.8,302.2 L810.9,303.7 L812.0,303.3 L813.2,305.0 L814.3,304.1 L815.4,305.2 L816.5,305.8 L817.6,306.7 L818.8,308.0 L819.9,308.9 L821.0,310.0 L822.1,310.1 L823.3,311.6 L824.4,312.9 L825.5,314.5 L826.6,316.0 L827.7,317.5 L828.9,318.4 L830.0,318.2 L831.1,319.1 L832.2,320.7 L833.4,321.1 L834.5,322.2 L835.6,323.8 L836.7,325.3 L837.8,327.2 L839.0,327.6 L840.1,328.6 L841.2,330.2 L842.3,331.2 L843.5,329.9 L844.6,330.5 L845.7,330.9 L846.8,331.5 L847.9,332.4 L849.1,332.4 L850.2,332.2 L851.3,333.1 L852.4,333.3 L853.6,333.1 L854.7,334.1 L855.8,334.4 L856.9,335.3 L858.0,335.0 L859.2,335.6 L860.3,335.1 L861.4,336.1 L862.5,335.3 L863.7,336.2 L864.8,337.2 L865.9,338.0 L867.0,337.5 L868.1,338.4 L869.3,337.3 L870.4,337.3 L871.5,338.0 L872.6,339.8 L873.8,340.1 L874.9,341.0 L876.0,342.5 L877.1,342.2 L878.3,341.2 L879.4,342.7 L880.5,343.0 L881.6,343.3 L882.7,345.2 L883.9,346.3 L885.0,347.0 L886.1,347.6 L887.2,349.4 L888.4,350.0 L889.5,350.9 L890.6,351.2 L891.7,353.5 L892.8,354.5 L894.0,355.4 L895.1,356.2 L896.2,356.4 L897.3,357.8 L898.5,356.8 L899.6,358.8 L900.7,359.3 L901.8,359.8 L902.9,360.4 L904.1,361.8 L905.2,363.3 L906.3,364.0 L907.4,364.1 L908.6,364.8 L909.7,365.1 L910.8,365.5 L911.9,366.9 L913.0,368.0 L914.2,367.3 L915.3,368.4 L916.4,369.9 L917.5,368.8 L918.7,370.1 L919.8,371.2 L920.9,370.8 L922.0,372.2 L923.1,373.1 L924.3,372.6 L925.4,373.9 L926.5,372.7 L927.6,374.0 L928.8,373.4 L929.9,375.1 L931.0,376.5 L932.1,378.1 L933.3,379.1 L934.4,380.1 L935.5,380.8 L936.6,381.0 L937.7,382.8 L938.9,383.8 L940.0,385.4 L941.1,384.3 L942.2,384.9 L943.4,385.3 L944.5,385.8 L945.6,385.6 L946.7,386.0 L947.8,386.0 L949.0,386.9 L950.1,387.4 L951.2,387.8 L952.3,389.4 L953.5,388.4 L954.6,389.8 L955.7,390.4 L956.8,389.8 L957.9,390.0 L959.1,389.9 L960.2,389.4 L961.3,389.3 L962.4,389.8 L963.6,391.3 L964.7,391.0 L965.8,393.0 L966.9,393.9 L968.0,394.0 L969.2,395.1 L970.3,396.0 L971.4,397.0 L972.5,396.8 L973.7,399.5 L974.8,398.9 L975.9,399.1 L977.0,400.2 L978.1,400.8 L979.3,402.5 L980.4,402.4 L981.5,401.4 L982.6,403.8 L983.8,403.9 L984.9,405.2 L986.0,406.4 L987.1,407.5 L988.2,408.2 L989.4,409.5 L990.5,410.5 L991.6,409.4 L992.7,410.2 L993.9,410.5 L995.0,411.0 L996.1,411.4 L997.2,413.2 L998.4,414.0 L999.5,413.7 L1000.6,413.5 L1001.7,415.0 L1002.8,415.7 L1004.0,416.7 L1005.1,416.3 L1006.2,416.5 L1007.3,417.0 L1008.5,418.0 L1009.6,418.1 L1010.7,418.6 L1011.8,419.6 L1012.9,419.6 L1014.1,420.5 L1015.2,420.1 L1016.3,420.4 L1017.4,421.5 L1018.6,421.5 L1019.7,422.1 L1020.8,423.1 L1021.9,423.9 L1023.0,425.0 L1024.2,425.5 L1025.3,425.0 L1026.4,424.3 L1027.5,425.3 L1028.7,425.5 L1029.8,425.6 L1030.9,425.5 L1032.0,425.9 L1033.1,425.7 L1034.3,426.0 L1035.4,427.3 L1036.5,427.4 L1037.6,429.4 L1038.8,429.1 L1039.9,429.0 L1041.0,428.7 L1042.1,429.1 L1043.2,428.8 L1044.4,428.3 L1045.5,429.5 L1046.6,430.1 L1047.7,429.9 L1048.9,429.8 L1050.0,430.0 L1051.1,429.7 L1052.2,430.9 L1053.3,430.3 L1054.5,429.9 L1055.6,429.7 L1056.7,430.1 L1057.8,430.8 L1059.0,430.9 L1060.1,431.3 L1061.2,432.7 L1062.3,432.9 L1063.5,432.7 L1064.6,433.1 L1065.7,433.7 L1066.8,433.8 L1067.9,434.0 L1069.1,434.1 L1070.2,434.4 L1071.3,434.6 L1072.4,434.4 L1073.6,435.0 L1074.7,435.4 L1075.8,436.9 L1076.9,439.1 L1078.0,438.8 L1079.2,438.3 L1080.3,438.8 L1081.4,439.5 L1082.5,440.6 L1083.7,440.0 L1084.8,440.8 L1085.9,441.0 L1087.0,440.7 L1088.1,441.2 L1089.3,440.5 L1090.4,441.9 L1091.5,442.1 L1092.6,442.6 L1093.8,443.9 L1094.9,444.4 L1096.0,445.2 L1097.1,446.1 L1098.2,445.8 L1099.4,446.6 L1100.5,445.5 L1101.6,446.6 L1102.7,447.2 L1103.9,447.3 L1105.0,447.8 L1106.1,447.8 L1107.2,448.4 L1108.3,449.3 L1109.5,450.6 L1110.6,450.7 L1111.7,449.1 L1112.8,449.0 L1114.0,449.2 L1115.1,449.9 L1116.2,450.2 L1117.3,450.2 L1118.5,451.4 L1119.6,451.9 L1120.7,452.3 L1121.8,451.3 L1122.9,452.5 L1124.1,451.8 L1125.2,452.7 L1126.3,451.3 L1127.4,452.5 L1128.6,453.3 L1129.7,453.0 L1130.8,453.4 L1131.9,453.8 L1133.0,455.5 L1134.2,455.2 L1135.3,454.9 L1136.4,456.1 L1137.5,457.2 L1138.7,458.4 L1139.8,458.0 L1140.9,458.4 L1142.0,459.1 L1143.1,460.5 L1144.3,459.6 L1145.4,459.9 L1146.5,460.8 L1147.6,460.6 L1148.8,462.4 L1149.9,462.4 L1151.0,463.9 L1152.1,463.4 L1153.2,464.4 L1154.4,464.3 L1155.5,465.5 L1156.6,465.9 L1157.7,465.8 L1158.9,467.3 L1160.0,467.7 L1161.1,468.7 L1162.2,468.3 L1163.3,469.1 L1164.5,469.6 L1165.6,469.9 L1166.7,469.3 L1167.8,470.5 L1169.0,470.6 L1170.1,471.0 L1171.2,471.4 L1172.3,471.9 L1173.4,471.9 L1174.6,471.8 L1175.7,472.9 L1176.8,472.5 L1177.9,473.3 L1179.1,473.0 L1180.2,471.5 L1181.3,472.8 L1182.4,473.1 L1183.6,473.4 L1184.7,472.9 L1185.8,473.6 L1186.9,475.0 L1188.0,475.7 L1189.2,475.0 L1190.3,474.7 L1191.4,474.1 L1192.5,474.9 L1193.7,474.7 L1194.8,475.8 L1195.9,475.0 L1197.0,475.5 L1198.1,476.3 L1199.3,476.3 L1200.4,475.4 L1201.5,476.7 L1202.6,477.8 L1203.8,478.4 L1204.9,478.9 L1206.0,478.6 L1207.1,478.4 L1208.2,478.7 L1209.4,478.7 L1210.5,478.3 L1211.6,479.1 L1212.7,480.3 L1213.9,481.8 L1215.0,481.1 L1216.1,481.4 L1217.2,481.5 L1218.3,481.2 L1219.5,481.1 L1220.6,482.6 L1221.7,483.1 L1222.8,482.8 L1224.0,483.0 L1225.1,482.3 L1226.2,483.2 L1227.3,484.8 L1228.4,483.7 L1229.6,485.0 L1230.7,485.4 L1231.8,484.9 L1232.9,485.6 L1234.1,483.9 L1235.2,484.5 L1236.3,484.7 L1237.4,485.6 L1238.6,484.4 L1239.7,485.0 L1240.8,486.2 L1241.9,485.7 L1243.0,487.4 L1244.2,487.7 L1245.3,487.4 L1246.4,487.5 L1247.5,488.3 L1248.7,487.2 L1249.8,486.7 L1250.9,488.1 L1252.0,488.1 L1253.1,488.9 L1254.3,489.2 L1255.4,488.6 L1256.5,488.9 L1257.6,489.3 L1258.8,489.4 L1259.9,490.4 L1261.0,489.5 L1262.1,490.4 L1263.2,489.6 L1264.4,490.4 L1265.5,490.9 L1266.6,490.0 L1267.7,490.4 L1268.9,491.3 L1270.0,491.8 L1271.1,491.4 L1272.2,490.4 L1273.3,490.8 L1274.5,491.7 L1275.6,492.8 L1276.7,493.2 L1277.8,493.1 L1279.0,492.9 L1280.1,493.5 L1281.2,492.6 L1282.3,493.7 L1283.4,494.2 L1284.6,493.8 L1285.7,493.6 L1286.8,494.2 L1287.9,493.7 L1289.1,495.1 L1290.2,493.9 L1291.3,493.0 L1292.4,492.7 L1293.5,493.8 L1294.7,493.3 L1295.8,494.3 L1296.9,494.1 L1298.0,495.1 L1299.2,495.4 L1300.3,495.5 L1301.4,497.0 L1302.5,496.9 L1303.7,495.7 L1304.8,498.1 L1305.9,497.3 L1307.0,496.6 L1308.1,496.7 L1309.3,496.8 L1310.4,496.1 L1311.5,496.5 L1312.6,498.1 L1313.8,498.4 L1314.9,498.2 L1316.0,497.7 L1317.1,497.8 L1318.2,497.7 L1319.4,496.4 L1320.5,498.6 L1321.6,497.1 L1322.7,496.4 L1323.9,496.1 L1325.0,496.3 L1326.1,496.3 L1327.2,496.0 L1328.3,495.9 L1329.5,496.4 L1330.6,495.7 L1331.7,496.3 L1332.8,496.1 L1334.0,496.2 L1335.1,496.7 L1336.2,495.9 L1337.3,496.0 L1338.4,496.8 L1339.6,496.5 L1340.7,497.3 L1341.8,496.1 L1342.9,496.0 L1344.1,495.2 L1345.2,496.5 L1346.3,496.5 L1347.4,497.7 L1348.5,498.3 L1349.7,498.3 L1350.8,498.1 L1351.9,497.8 L1353.0,498.5 L1354.2,498.1 L1355.3,498.1 L1356.4,499.4 L1357.5,499.7 L1358.7,500.5 L1359.8,499.4 L1360.9,500.3 L1362.0,500.0 L1363.1,499.9 L1364.3,500.8 L1365.4,501.5 L1366.5,501.4 L1367.6,502.2 L1368.8,503.0 L1369.9,503.4 L1371.0,502.8 L1372.1,502.7 L1373.2,501.6 L1374.4,503.4 L1375.5,502.9 L1376.6,503.7 L1377.7,502.6 L1378.9,502.3 L1380.0,502.5 L1381.1,501.6 L1382.2,502.3 L1383.3,502.7 L1384.5,503.2 L1385.6,503.1 L1386.7,502.5 L1387.8,501.8 L1389.0,500.9 L1390.1,501.4 L1391.2,501.9 L1392.3,501.8 L1393.4,501.9 L1394.6,501.9 L1395.7,501.8 L1396.8,502.1 L1397.9,501.7 L1399.1,501.8 L1400.2,501.6 L1401.3,502.3 L1402.4,501.7 L1403.5,501.1 L1404.7,500.7 L1405.8,501.3 L1406.9,502.0 L1408.0,502.4 L1409.2,502.6 L1410.3,502.4 L1411.4,502.0 L1412.5,502.8 L1413.6,501.6 L1414.8,502.4 L1415.9,502.3 L1417.0,502.2 L1418.1,501.2 L1419.3,500.0 L1420.4,500.8 L1421.5,501.1 L1422.6,501.4 L1423.8,501.4 L1424.9,501.4 L1426.0,499.7 L1427.1,501.1"/>
<path stroke="#ff8000" d="M660.5,74.9 L661.6,74.4 L662.7,74.3 L663.9,75.2 L665.0,75.6 L666.1,77.4 L667.2,76.9 L668.4,78.1 L669.5,80.6 L670.6,80.9 L671.7,82.5 L672.8,84.3 L674.0,84.9 L675.1,86.5 L676.2,87.1 L677.3,88.9 L678.5,89.6 L679.6,91.1 L680.7,92.4 L681.8,93.9 L682.9,95.7 L684.1,97.4 L685.2,98.5 L686.3,99.7 L687.4,101.8 L688.6,102.0 L689.7,103.2 L690.8,106.5 L691.9,107.7 L693.1,109.9 L694.2,111.9 L695.3,114.4 L696.4,115.2 L697.5,118.1 L698.7,120.2 L699.8,122.6 L700.9,123.2 L702.0,124.9 L703.2,128.4 L704.3,130.7 L705.4,132.3 L706.5,134.5 L707.6,136.6 L708.8,138.9 L709.9,140.2 L711.0,142.5 L712.1,143.2 L713.3,143.4 L714.4,145.8 L715.5,146.6 L716.6,148.5 L717.7,150.8 L718.9,152.4 L720.0,154.3 L721.1,155.3 L722.2,156.1 L723.4,156.9 L724.5,158.7 L725.6,160.9 L726.7,162.0 L727.8,162.0 L729.0,163.6 L730.1,165.2 L731.2,168.0 L732.3,169.1 L733.5,169.6 L734.6,171.5 L735.7,171.7 L736.8,173.6 L737.9,175.4 L739.1,176.9 L740.2,177.9 L741.3,178.4 L742.4,180.3 L743.6,182.7 L744.7,183.5 L745.8,184.1 L746.9,184.4 L748.0,186.9 L749.2,187.2 L750.3,188.4 L751.4,189.8 L752.5,191.9 L753.7,193.7 L754.8,195.4 L755.9,195.6 L757.0,196.8 L758.2,197.5 L759.3,198.0 L760.4,199.9 L761.5,201.6 L762.6,201.9 L763.8,204.6 L764.9,206.1 L766.0,207.5 L767.1,208.7 L768.3,209.7 L769.4,211.3 L770.5,211.5 L771.6,213.7 L772.7,215.1 L773.9,216.9 L775.0,218.2 L776.1,218.2 L777.2,218.7 L778.4,220.0 L779.5,220.5 L780.6,221.5 L781.7,223.2 L782.8,224.3 L784.0,225.2 L785.1,225.1 L786.2,227.1 L787.3,228.1 L788.5,229.0 L789.6,229.5 L790.7,230.7 L791.8,231.3 L792.9,233.4 L794.1,234.3 L795.2,236.2 L796.3,236.4 L797.4,235.2 L798.6,236.1 L799.7,236.9 L800.8,237.4 L801.9,238.0 L803.0,239.4 L804.2,239.9 L805.3,240.0 L806.4,239.9 L807.5,240.7 L808.7,240.8 L809.8,241.4 L810.9,242.2 L812.0,242.4 L813.2,242.9 L814.3,242.2 L815.4,241.8 L816.5,242.3 L817.6,243.3 L818.8,244.4 L819.9,245.9 L821.0,246.4 L822.1,245.7 L823.3,246.0 L824.4,247.0 L825.5,248.3 L826.6,249.2 L827.7,249.9 L828.9,250.9 L830.0,251.6 L831.1,253.2 L832.2,253.9 L833.4,255.0 L834.5,255.2 L835.6,257.2 L836.7,257.1 L837.8,258.3 L839.0,259.7 L840.1,260.5 L841.2,261.4 L842.3,262.4 L843.5,263.0 L844.6,264.4 L845.7,266.3 L846.8,266.2 L847.9,267.0 L849.1,266.8 L850.2,267.8 L851.3,270.4 L852.4,270.1 L853.6,271.6 L854.7,272.0 L855.8,271.6 L856.9,272.5 L858.0,274.7 L859.2,275.8 L860.3,277.7 L861.4,277.7 L862.5,278.2 L863.7,279.9 L864.8,280.3 L865.9,280.6 L867.0,281.2 L868.1,282.9 L869.3,284.2 L870.4,285.6 L871.5,286.8 L872.6,286.9 L873.8,287.4 L874.9,287.3 L876.0,288.2 L877.1,289.5 L878.3,291.2 L879.4,290.6 L880.5,291.5 L881.6,292.4 L882.7,293.9 L883.9,295.0 L885.0,294.9 L886.1,296.2 L887.2,296.2 L888.4,296.5 L889.5,297.6 L890.6,299.3 L891.7,299.3 L892.8,299.0 L894.0,300.5 L895.1,301.9 L896.2,301.4 L897.3,302.1 L898.5,303.2 L899.6,303.0 L900.7,304.0 L901.8,304.4 L902.9,305.5 L904.1,306.5 L905.2,306.7 L906.3,307.8 L907.4,309.2 L908.6,309.4 L909.7,308.7 L910.8,308.6 L911.9,308.1 L913.0,308.8 L914.2,309.0 L915.3,310.2 L916.4,311.5 L917.5,311.9 L918.7,313.2 L919.8,313.1 L920.9,313.9 L922.0,314.2 L923.1,315.2 L924.3,315.5 L925.4,315.2 L926.5,316.0 L927.6,316.9 L928.8,316.9 L929.9,316.8 L931.0,317.6 L932.1,318.8 L933.3,319.9 L934.4,320.6 L935.5,319.6 L936.6,320.0 L937.7,320.0 L938.9,319.8 L940.0,320.4 L941.1,320.8 L942.2,321.8 L943.4,323.2 L944.5,322.7 L945.6,323.1 L946.7,323.1 L947.8,324.3 L949.0,324.5 L950.1,323.5 L951.2,324.9 L952.3,325.2 L953.5,324.9 L954.6,325.8 L955.7,326.3 L956.8,328.2 L957.9,327.5 L959.1,328.1 L960.2,327.6 L961.3,328.3 L962.4,329.1 L963.6,329.2 L964.7,329.8 L965.8,330.5 L966.9,329.8 L968.0,330.0 L969.2,330.8 L970.3,330.9 L971.4,331.2 L972.5,331.7 L973.7,332.5 L974.8,333.1 L975.9,333.4 L977.0,333.6 L978.1,334.0 L979.3,335.0 L980.4,335.4 L981.5,335.5 L982.6,336.6 L983.8,336.8 L984.9,336.6 L986.0,337.1 L987.1,337.7 L988.2,338.1 L989.4,338.8 L990.5,338.5 L991.6,339.3 L992.7,340.7 L993.9,341.4 L995.0,341.0 L996.1,341.1 L997.2,341.7 L998.4,342.7 L999.5,342.8 L1000.6,343.4 L1001.7,343.8 L1002.8,343.8 L1004.0,344.5 L1005.1,344.4 L1006.2,345.1 L1007.3,345.6 L1008.5,345.9 L1009.6,345.2 L1010.7,344.9 L1011.8,345.3 L1012.9,346.8 L1014.1,347.4 L1015.2,347.3 L1016.3,347.5 L1017.4,349.4 L1018.6,349.6 L1019.7,350.4 L1020.8,350.1 L1021.9,350.2 L1023.0,351.3 L1024.2,350.4 L1025.3,351.6 L1026.4,350.8 L1027.5,352.2 L1028.7,353.2 L1029.8,352.8 L1030.9,354.3 L1032.0,355.3 L1033.1,354.9 L1034.3,355.8 L1035.4,356.3 L1036.5,357.9 L1037.6,357.1 L1038.8,357.4 L1039.9,358.2 L1041.0,358.7 L1042.1,360.0 L1043.2,360.9 L1044.4,362.4 L1045.5,362.2 L1046.6,361.8 L1047.7,362.1 L1048.9,362.4 L1050.0,363.0 L1051.1,364.5 L1052.2,365.9 L1053.3,365.6 L1054.5,366.0 L1055.6,365.9 L1056.7,366.9 L1057.8,368.0 L1059.0,368.0 L1060.1,368.9 L1061.2,370.2 L1062.3,370.5 L1063.5,371.0 L1064.6,371.6 L1065.7,371.8 L1066.8,371.1 L1067.9,370.1 L1069.1,370.0 L1070.2,371.5 L1071.3,371.5 L1072.4,372.4 L1073.6,372.8 L1074.7,373.8 L1075.8,374.1 L1076.9,375.4 L1078.0,374.2 L1079.2,375.2 L1080.3,375.1 L1081.4,375.9 L1082.5,375.9 L1083.7,377.0 L1084.8,377.2 L1085.9,376.7 L1087.0,376.8 L1088.1,378.5 L1089.3,377.9 L1090.4,379.1 L1091.5,378.9 L1092.6,378.8 L1093.8,379.7 L1094.9,380.1 L1096.0,380.5 L1097.1,380.5 L1098.2,380.3 L1099.4,380.2 L1100.5,380.9 L1101.6,380.5 L1102.7,382.3 L1103.9,381.8 L1105.0,383.1 L1106.1,383.3 L1107.2,384.2 L1108.3,384.8 L1109.5,386.0 L1110.6,386.0 L1111.7,385.2 L1112.8,386.2 L1114.0,387.0 L1115.1,387.7 L1116.2,387.8 L1117.3,388.6 L1118.5,389.1 L1119.6,389.5 L1120.7,389.2 L1121.8,389.4 L1122.9,391.0 L1124.1,391.7 L1125.2,391.9 L1126.3,391.7 L1127.4,391.6 L1128.6,392.5 L1129.7,391.7 L1130.8,392.8 L1131.9,392.6 L1133.0,392.7 L1134.2,392.8 L1135.3,393.8 L1136.4,394.3 L1137.5,396.1 L1138.7,397.4 L1139.8,397.5 L1140.9,396.8 L1142.0,396.4 L1143.1,397.1 L1144.3,396.9 L1145.4,397.2 L1146.5,396.9 L1147.6,398.8 L1148.8,399.5 L1149.9,400.1 L1151.0,400.6 L1152.1,399.3 L1153.2,400.3 L1154.4,401.0 L1155.5,401.1 L1156.6,400.5 L1157.7,401.2 L1158.9,400.9 L1160.0,400.9 L1161.1,401.8 L1162.2,403.4 L1163.3,403.5 L1164.5,403.8 L1165.6,402.3 L1166.7,403.0 L1167.8,403.7 L1169.0,403.2 L1170.1,403.3 L1171.2,403.9 L1172.3,403.1 L1173.4,402.9 L1174.6,403.2 L1175.7,404.1 L1176.8,404.7 L1177.9,405.8 L1179.1,405.0 L1180.2,404.6 L1181.3,405.3 L1182.4,405.1 L1183.6,403.1 L1184.7,404.8 L1185.8,406.2 L1186.9,405.6 L1188.0,405.9 L1189.2,406.3 L1190.3,405.9 L1191.4,406.2 L1192.5,405.8 L1193.7,405.9 L1194.8,405.7 L1195.9,406.4 L1197.0,408.3 L1198.1,407.3 L1199.3,408.8 L1200.4,408.1 L1201.5,408.3 L1202.6,409.6 L1203.8,409.6 L1204.9,409.3 L1206.0,410.5 L1207.1,410.7 L1208.2,411.5 L1209.4,412.3 L1210.5,412.8 L1211.6,412.0 L1212.7,412.2 L1213.9,413.0 L1215.0,413.7 L1216.1,414.2 L1217.2,414.6 L1218.3,415.2 L1219.5,417.0 L1220.6,416.6 L1221.7,417.7 L1222.8,419.7 L1224.0,419.0 L1225.1,420.1 L1226.2,420.4 L1227.3,420.7 L1228.4,421.5 L1229.6,421.5 L1230.7,422.2 L1231.8,422.7 L1232.9,423.6 L1234.1,423.8 L1235.2,424.5 L1236.3,424.3 L1237.4,423.5 L1238.6,423.3 L1239.7,423.5 L1240.8,424.8 L1241.9,424.0 L1243.0,423.7 L1244.2,422.7 L1245.3,424.9 L1246.4,424.7 L1247.5,424.8 L1248.7,424.0 L1249.8,424.9 L1250.9,424.9 L1252.0,423.3 L1253.1,423.2 L1254.3,425.0 L1255.4,424.7 L1256.5,423.7 L1257.6,424.3 L1258.8,423.9 L1259.9,423.8 L1261.0,424.7 L1262.1,424.6 L1263.2,423.4 L1264.4,422.6 L1265.5,423.1 L1266.6,422.2 L1267.7,422.8 L1268.9,422.3 L1270.0,422.2 L1271.1,422.7 L1272.2,422.0 L1273.3,421.9 L1274.5,423.2 L1275.6,422.7 L1276.7,422.4 L1277.8,422.2 L1279.0,422.2 L1280.1,422.1 L1281.2,423.2 L1282.3,421.8 L1283.4,421.7 L1284.6,421.8 L1285.7,422.3 L1286.8,422.6 L1287.9,423.2 L1289.1,424.3 L1290.2,425.4 L1291.3,425.2 L1292.4,424.8 L1293.5,425.3 L1294.7,424.9 L1295.8,426.7 L1296.9,427.2 L1298.0,427.9 L1299.2,427.2 L1300.3,426.7 L1301.4,428.0 L1302.5,428.0 L1303.7,428.7 L1304.8,429.7 L1305.9,429.8 L1307.0,430.6 L1308.1,429.5 L1309.3,429.5 L1310.4,429.3 L1311.5,429.7 L1312.6,431.7 L1313.8,430.9 L1314.9,430.9 L1316.0,432.5 L1317.1,431.8 L1318.2,430.9 L1319.4,430.0 L1320.5,431.3 L1321.6,430.8 L1322.7,430.8 L1323.9,431.2 L1325.0,431.5 L1326.1,431.1 L1327.2,430.9 L1328.3,430.7 L1329.5,431.3 L1330.6,432.3 L1331.7,431.1 L1332.8,430.6 L1334.0,431.5 L1335.1,431.7 L1336.2,431.4 L1337.3,432.9 L1338.4,432.4 L1339.6,431.1 L1340.7,431.8 L1341.8,432.9 L1342.9,432.0 L1344.1,432.9 L1345.2,433.4 L1346.3,434.2 L1347.4,434.5 L1348.5,436.0 L1349.7,436.7 L1350.8,437.2 L1351.9,436.2 L1353.0,436.4 L1354.2,435.8 L1355.3,437.6 L1356.4,437.7 L1357.5,436.6 L1358.7,437.5 L1359.8,438.7 L1360.9,438.8 L1362.0,438.6 L1363.1,438.4 L1364.3,437.5 L1365.4,437.0 L1366.5,436.7 L1367.6,437.1 L1368.8,438.1 L1369.9,438.6 L1371.0,439.6 L1372.1,438.4 L1373.2,437.7 L1374.4,438.1 L1375.5,438.9 L1376.6,438.4 L1377.7,438.2 L1378.9,438.3 L1380.0,439.1 L1381.1,438.7 L1382.2,438.9 L1383.3,438.2 L1384.5,437.9 L1385.6,437.8 L1386.7,438.2 L1387.8,437.2 L1389.0,437.1 L1390.1,436.7 L1391.2,436.7 L1392.3,436.8 L1393.4,437.0 L1394.6,438.0 L1395.7,438.9 L1396.8,438.9 L1397.9,437.9 L1399.1,437.1 L1400.2,437.1 L1401.3,437.1 L1402.4,436.0 L1403.5,436.7 L1404.7,438.0 L1405.8,438.5 L1406.9,438.0 L1408.0,437.1 L1409.2,436.5 L1410.3,436.8 L1411.4,436.3 L1412.5,436.6 L1413.6,437.2 L1414.8,437.4 L1415.9,436.8 L1417.0,436.4 L1418.1,437.6 L1419.3,438.2 L1420.4,438.0 L1421.5,436.6 L1422.6,438.0 L1423.8,439.0 L1424.9,438.6 L1426.0,438.4 L1427.1,439.0"/>
<path stroke="#8000ff" d="M660.5,39.0 L661.6,38.0 L662.7,38.6 L663.9,38.1 L665.0,38.4 L666.1,39.5 L667.2,40.7 L668.4,42.3 L669.5,44.8 L670.6,45.2 L671.7,46.6 L672.8,49.1 L674.0,50.4 L675.1,52.0 L676.2,54.3 L677.3,57.8 L678.5,59.1 L679.6,60.7 L680.7,62.3 L681.8,63.4 L682.9,65.2 L684.1,65.9 L685.2,65.9 L686.3,68.4 L687.4,69.0 L688.6,70.9 L689.7,71.8 L690.8,73.3 L691.9,73.8 L693.1,75.8 L694.2,76.6 L695.3,78.5 L696.4,79.5 L697.5,80.7 L698.7,81.2 L699.8,83.7 L700.9,85.5 L702.0,85.3 L703.2,86.3 L704.3,86.6 L705.4,89.0 L706.5,90.1 L707.6,91.1 L708.8,91.4 L709.9,93.3 L711.0,95.1 L712.1,96.0 L713.3,97.5 L714.4,99.4 L715.5,100.0 L716.6,102.7 L717.7,104.1 L718.9,104.0 L720.0,105.7 L721.1,107.1 L722.2,108.1 L723.4,108.7 L724.5,110.1 L725.6,112.4 L726.7,114.0 L727.8,114.5 L729.0,116.2 L730.1,118.0 L731.2,118.8 L732.3,119.7 L733.5,120.3 L734.6,123.3 L735.7,125.5 L736.8,127.4 L737.9,128.5 L739.1,130.4 L740.2,131.2 L741.3,134.9 L742.4,135.3 L743.6,137.4 L744.7,139.0 L745.8,140.1 L746.9,141.7 L748.0,144.0 L749.2,144.4 L750.3,145.9 L751.4,148.0 L752.5,149.4 L753.7,151.5 L754.8,153.4 L755.9,154.4 L757.0,155.0 L758.2,156.1 L759.3,157.8 L760.4,159.6 L761.5,161.3 L762.6,160.7 L763.8,161.6 L764.9,163.3 L766.0,163.4 L767.1,164.4 L768.3,166.0 L769.4,167.4 L770.5,167.5 L771.6,168.5 L772.7,168.6 L773.9,169.9 L775.0,171.6 L776.1,172.9 L777.2,174.0 L778.4,174.4 L779.5,174.9 L780.6,175.3 L781.7,175.9 L782.8,177.5 L784.0,178.1 L785.1,179.2 L786.2,179.1 L787.3,180.4 L788.5,181.0 L789.6,181.7 L790.7,182.1 L791.8,182.4 L792.9,181.6 L794.1,182.5 L795.2,184.0 L796.3,184.4 L797.4,184.2 L798.6,184.5 L799.7,185.2 L800.8,184.9 L801.9,185.6 L803.0,187.0 L804.2,187.5 L805.3,189.9 L806.4,190.9 L807.5,192.3 L808.7,192.9 L809.8,192.8 L810.9,194.5 L812.0,194.5 L813.2,196.6 L814.3,196.5 L815.4,198.8 L816.5,199.8 L817.6,199.4 L818.8,200.2 L819.9,200.6 L821.0,201.2 L822.1,201.6 L823.3,202.3 L824.4,203.4 L825.5,203.8 L826.6,204.0 L827.7,205.1 L828.9,205.2 L830.0,204.8 L831.1,207.1 L832.2,208.1 L833.4,208.8 L834.5,209.5 L835.6,210.1 L836.7,211.4 L837.8,212.0 L839.0,212.7 L840.1,213.4 L841.2,213.0 L842.3,213.9 L843.5,215.6 L844.6,216.8 L845.7,216.2 L846.8,216.6 L847.9,217.1 L849.1,218.0 L850.2,217.9 L851.3,217.9 L852.4,218.4 L853.6,218.7 L854.7,218.2 L855.8,218.3 L856.9,218.7 L858.0,219.6 L859.2,221.1 L860.3,220.9 L861.4,220.6 L862.5,220.9 L863.7,221.4 L864.8,222.6 L865.9,223.5 L867.0,224.6 L868.1,224.8 L869.3,226.1 L870.4,225.8 L871.5,226.7 L872.6,228.3 L873.8,229.3 L874.9,231.2 L876.0,232.0 L877.1,232.6 L878.3,231.5 L879.4,233.3 L880.5,233.5 L881.6,234.6 L882.7,235.7 L883.9,236.1 L885.0,238.3 L886.1,238.1 L887.2,237.6 L888.4,238.8 L889.5,240.0 L890.6,240.9 L891.7,241.4 L892.8,242.7 L894.0,243.4 L895.1,243.9 L896.2,245.0 L897.3,245.4 L898.5,245.9 L899.6,246.2 L900.7,247.7 L901.8,248.4 L902.9,248.9 L904.1,248.4 L905.2,248.9 L906.3,250.5 L907.4,251.3 L908.6,249.9 L909.7,250.2 L910.8,251.5 L911.9,252.1 L913.0,251.9 L914.2,251.1 L915.3,250.7 L916.4,251.7 L917.5,252.4 L918.7,251.5 L919.8,252.8 L920.9,252.1 L922.0,252.6 L923.1,253.1 L924.3,252.7 L925.4,253.1 L926.5,254.2 L927.6,255.4 L928.8,255.1 L929.9,254.8 L931.0,254.2 L932.1,256.5 L933.3,255.4 L934.4,255.3 L935.5,254.9 L936.6,255.2 L937.7,255.9 L938.9,256.3 L940.0,256.8 L941.1,257.8 L942.2,258.3 L943.4,258.6 L944.5,259.4 L945.6,260.6 L946.7,261.6 L947.8,261.2 L949.0,261.2 L950.1,261.8 L951.2,263.2 L952.3,263.0 L953.5,264.0 L954.6,265.9 L955.7,265.1 L956.8,266.8 L957.9,265.8 L959.1,266.6 L960.2,268.0 L961.3,270.3 L962.4,270.9 L963.6,270.2 L964.7,270.2 L965.8,271.2 L966.9,273.3 L968.0,273.9 L969.2,274.5 L970.3,274.7 L971.4,275.4 L972.5,275.8 L973.7,277.5 L974.8,278.0 L975.9,277.3 L977.0,278.9 L978.1,278.5 L979.3,277.5 L980.4,278.2 L981.5,280.0 L982.6,279.5 L983.8,281.2 L984.9,280.8 L986.0,281.1 L987.1,280.3 L988.2,279.9 L989.4,280.3 L990.5,279.4 L991.6,279.4 L992.7,280.3 L993.9,281.0 L995.0,279.2 L996.1,279.9 L997.2,279.7 L998.4,279.8 L999.5,280.1 L1000.6,280.9 L1001.7,280.4 L1002.8,280.1 L1004.0,279.3 L1005.1,279.8 L1006.2,280.8 L1007.3,281.1 L1008.5,280.7 L1009.6,280.4 L1010.7,280.1 L1011.8,280.7 L1012.9,280.6 L1014.1,281.0 L1015.2,280.3 L1016.3,281.2 L1017.4,281.8 L1018.6,282.0 L1019.7,281.9 L1020.8,283.4 L1021.9,284.2 L1023.0,284.7 L1024.2,286.3 L1025.3,285.4 L1026.4,285.2 L1027.5,286.0 L1028.7,284.6 L1029.8,285.4 L1030.9,285.7 L1032.0,286.4 L1033.1,287.4 L1034.3,289.7 L1035.4,289.4 L1036.5,290.2 L1037.6,291.9 L1038.8,292.3 L1039.9,292.4 L1041.0,292.5 L1042.1,293.4 L1043.2,294.6 L1044.4,294.6 L1045.5,295.9 L1046.6,296.4 L1047.7,296.4 L1048.9,298.0 L1050.0,298.0 L1051.1,299.7 L1052.2,300.2 L1053.3,300.9 L1054.5,300.7 L1055.6,300.4 L1056.7,300.9 L1057.8,300.7 L1059.0,301.4 L1060.1,302.1 L1061.2,302.3 L1062.3,303.1 L1063.5,303.4 L1064.6,303.3 L1065.7,304.4 L1066.8,304.1 L1067.9,305.5 L1069.1,306.0 L1070.2,307.3 L1071.3,307.5 L1072.4,306.5 L1073.6,306.9 L1074.7,306.7 L1075.8,308.6 L1076.9,309.4 L1078.0,309.2 L1079.2,309.0 L1080.3,309.1 L1081.4,310.9 L1082.5,310.8 L1083.7,311.2 L1084.8,311.6 L1085.9,311.7 L1087.0,312.5 L1088.1,314.0 L1089.3,314.6 L1090.4,315.4 L1091.5,316.0 L1092.6,315.7 L1093.8,314.9 L1094.9,316.0 L1096.0,316.8 L1097.1,317.7 L1098.2,318.7 L1099.4,318.4 L1100.5,318.8 L1101.6,319.1 L1102.7,319.9 L1103.9,319.6 L1105.0,320.8 L1106.1,320.5 L1107.2,321.3 L1108.3,321.1 L1109.5,322.2 L1110.6,322.2 L1111.7,322.4 L1112.8,323.1 L1114.0,322.5 L1115.1,323.4 L1116.2,324.7 L1117.3,324.6 L1118.5,325.7 L1119.6,326.4 L1120.7,326.5 L1121.8,326.7 L1122.9,326.0 L1124.1,328.0 L1125.2,328.3 L1126.3,327.8 L1127.4,328.5 L1128.6,328.7 L1129.7,328.3 L1130.8,329.9 L1131.9,330.1 L1133.0,330.0 L1134.2,330.9 L1135.3,332.2 L1136.4,332.6 L1137.5,332.2 L1138.7,332.2 L1139.8,331.2 L1140.9,331.1 L1142.0,333.0 L1143.1,332.5 L1144.3,332.5 L1145.4,332.1 L1146.5,333.1 L1147.6,334.0 L1148.8,334.2 L1149.9,333.5 L1151.0,333.8 L1152.1,333.3 L1153.2,333.8 L1154.4,334.9 L1155.5,335.9 L1156.6,334.7 L1157.7,336.2 L1158.9,336.3 L1160.0,336.4 L1161.1,336.9 L1162.2,337.0 L1163.3,336.7 L1164.5,335.1 L1165.6,335.7 L1166.7,336.4 L1167.8,336.4 L1169.0,335.9 L1170.1,336.7 L1171.2,337.0 L1172.3,338.0 L1173.4,337.0 L1174.6,336.5 L1175.7,335.8 L1176.8,337.1 L1177.9,335.7 L1179.1,335.8 L1180.2,336.7 L1181.3,337.2 L1182.4,337.6 L1183.6,338.4 L1184.7,337.6 L1185.8,338.2 L1186.9,338.6 L1188.0,338.1 L1189.2,338.2 L1190.3,338.8 L1191.4,339.0 L1192.5,339.4 L1193.7,338.5 L1194.8,338.4 L1195.9,339.5 L1197.0,339.8 L1198.1,339.2 L1199.3,340.1 L1200.4,339.5 L1201.5,340.1 L1202.6,340.5 L1203.8,342.6 L1204.9,342.2 L1206.0,342.5 L1207.1,342.8 L1208.2,343.3 L1209.4,343.9 L1210.5,345.3 L1211.6,345.5 L1212.7,346.6 L1213.9,348.3 L1215.0,349.6 L1216.1,350.0 L1217.2,350.5 L1218.3,352.8 L1219.5,354.4 L1220.6,353.7 L1221.7,354.3 L1222.8,353.2 L1224.0,355.6 L1225.1,356.4 L1226.2,357.3 L1227.3,357.2 L1228.4,356.8 L1229.6,356.6 L1230.7,358.2 L1231.8,357.8 L1232.9,359.1 L1234.1,358.9 L1235.2,358.8 L1236.3,358.4 L1237.4,359.0 L1238.6,357.9 L1239.7,358.1 L1240.8,358.1 L1241.9,358.1 L1243.0,358.5 L1244.2,357.5 L1245.3,357.1 L1246.4,356.7 L1247.5,355.6 L1248.7,356.6 L1249.8,356.8 L1250.9,356.7 L1252.0,356.1 L1253.1,356.4 L1254.3,355.9 L1255.4,355.9 L1256.5,357.4 L1257.6,357.5 L1258.8,358.4 L1259.9,357.9 L1261.0,357.7 L1262.1,357.0 L1263.2,356.9 L1264.4,357.0 L1265.5,356.3 L1266.6,356.3 L1267.7,357.5 L1268.9,357.9 L1270.0,357.5 L1271.1,356.5 L1272.2,357.2 L1273.3,357.6 L1274.5,357.7 L1275.6,357.5 L1276.7,358.0 L1277.8,358.2 L1279.0,358.9 L1280.1,359.5 L1281.2,360.2 L1282.3,359.8 L1283.4,360.6 L1284.6,360.6 L1285.7,361.0 L1286.8,361.1 L1287.9,363.7 L1289.1,364.4 L1290.2,365.2 L1291.3,365.2 L1292.4,364.9 L1293.5,363.9 L1294.7,364.2 L1295.8,364.8 L1296.9,365.9 L1298.0,367.3 L1299.2,367.6 L1300.3,369.7 L1301.4,369.1 L1302.5,369.6 L1303.7,369.6 L1304.8,370.8 L1305.9,371.6 L1307.0,372.0 L1308.1,371.9 L1309.3,371.7 L1310.4,372.2 L1311.5,372.0 L1312.6,371.8 L1313.8,372.9 L1314.9,372.8 L1316.0,373.7 L1317.1,373.6 L1318.2,372.6 L1319.4,373.0 L1320.5,371.6 L1321.6,371.6 L1322.7,371.3 L1323.9,371.6 L1325.0,371.3 L1326.1,370.9 L1327.2,371.2 L1328.3,371.8 L1329.5,372.1 L1330.6,370.6 L1331.7,371.1 L1332.8,371.6 L1334.0,371.9 L1335.1,372.7 L1336.2,372.4 L1337.3,371.7 L1338.4,371.8 L1339.6,372.1 L1340.7,371.5 L1341.8,371.1 L1342.9,371.5 L1344.1,371.2 L1345.2,371.9 L1346.3,371.1 L1347.4,371.8 L1348.5,371.8 L1349.7,371.5 L1350.8,371.7 L1351.9,372.3 L1353.0,370.6 L1354.2,370.0 L1355.3,371.8 L1356.4,371.7 L1357.5,372.6 L1358.7,372.1 L1359.8,373.0 L1360.9,372.4 L1362.0,372.2 L1363.1,371.4 L1364.3,371.5 L1365.4,372.6 L1366.5,372.5 L1367.6,373.4 L1368.8,373.9 L1369.9,374.5 L1371.0,375.7 L1372.1,375.0 L1373.2,376.4 L1374.4,376.2 L1375.5,375.7 L1376.6,375.8 L1377.7,377.0 L1378.9,377.2 L1380.0,376.5 L1381.1,376.0 L1382.2,375.5 L1383.3,377.5 L1384.5,377.2 L1385.6,377.7 L1386.7,377.2 L1387.8,378.5 L1389.0,378.3 L1390.1,377.6 L1391.2,378.1 L1392.3,378.1 L1393.4,378.5 L1394.6,377.4 L1395.7,378.3 L1396.8,378.4 L1397.9,378.1 L1399.1,377.9 L1400.2,376.2 L1401.3,376.4 L1402.4,377.1 L1403.5,376.6 L1404.7,376.4 L1405.8,376.3 L1406.9,376.5 L1408.0,376.2 L1409.2,377.1 L1410.3,377.6 L1411.4,377.4 L1412.5,377.7 L1413.6,376.7 L1414.8,375.4 L1415.9,375.2 L1417.0,375.5 L1418.1,375.8 L1419.3,376.7 L1420.4,377.5 L1421.5,376.8 L1422.6,377.8 L1423.8,377.2 L1424.9,377.1 L1426.0,376.6 L1427.1,376.7"/>
</g>
<g stroke="#000" stroke-width="2" fill="none">
<rect x="660.5" y="25.2" width="785.7" height="613.5"/>
<path d="M660.5,638.7 H648.2 M660.5,587.6 H653.6 M1446.2,587.6 H1439.3 M660.5,536.5 H648.2 M1446.2,536.5 H1433.9 M660.5,485.3 H653.6 M1446.2,485.3 H1439.3 M660.5,434.2 H648.2 M1446.2,434.2 H1433.9 M660.5,383.1 H653.6 M1446.2,383.1 H1439.3 M660.5,332.0 H648.2 M1446.2,332.0 H1433.9 M660.5,280.8 H653.6 M1446.2,280.8 H1439.3 M660.5,229.7 H648.2 M1446.2,229.7 H1433.9 M660.5,178.6 H653.6 M1446.2,178.6 H1439.3 M660.5,127.5 H648.2 M1446.2,127.5 H1433.9 M660.5,76.3 H653.6 M1446.2,76.3 H1439.3 M660.5,25.2 H648.2 M660.5,638.7 V650.8 M716.6,638.7 V645.5 M772.7,638.7 V650.8 M828.9,638.7 V645.5 M885.0,638.7 V650.8 M941.1,638.7 V645.5 M997.2,638.7 V650.8 M1053.3,638.7 V645.5 M1109.5,638.7 V650.8 M1165.6,638.7 V645.5 M1221.7,638.7 V650.8 M1277.8,638.7 V645.5 M1334.0,638.7 V650.8 M1390.1,638.7 V645.5 M1446.2,638.7 V650.8"/>
</g>
<g class="s" font-size="29.5" fill="#000">
<text x="640.4" y="646.8" text-anchor="end">0</text>
<text x="640.4" y="544.6" text-anchor="end">20</text>
<text x="640.4" y="442.3" text-anchor="end">40</text>
<text x="640.4" y="340.1" text-anchor="end">60</text>
<text x="640.4" y="237.8" text-anchor="end">80</text>
<text x="640.4" y="135.6" text-anchor="end">100</text>
<text x="640.4" y="33.3" text-anchor="end">120</text>
<text x="660.5" y="681.4" text-anchor="middle">0</text>
<text x="772.7" y="681.4" text-anchor="middle">200</text>
<text x="885.0" y="681.4" text-anchor="middle">400</text>
<text x="997.2" y="681.4" text-anchor="middle">600</text>
<text x="1109.5" y="681.4" text-anchor="middle">800</text>
<text x="1221.7" y="681.4" text-anchor="middle">1000</text>
<text x="1334.0" y="681.4" text-anchor="middle">1200</text>
<text x="1446.2" y="681.4" text-anchor="middle">1400</text>
</g>
<text class="s" x="1053.9" y="730.6" font-size="37" text-anchor="middle">Distance (<tspan class="r">&#956;</tspan>m)</text>
<text class="s" transform="translate(578.2,339.3) rotate(-90)" font-size="37" text-anchor="middle">fluorescence intensity</text>
<text class="r" x="768.3" y="118" font-size="94.5">b</text>
<rect x="1452.7" y="142" width="193.8" height="423.5" fill="#fff" stroke="#555" stroke-width="1.2"/>
<g stroke-width="4.3" stroke-linecap="round">
<line x1="1456.5" y1="165.3" x2="1532.5" y2="165.3" stroke="#8000ff"/>
<line x1="1456.5" y1="207.6" x2="1532.5" y2="207.6" stroke="#ff8000"/>
<line x1="1456.5" y1="250.0" x2="1532.5" y2="250.0" stroke="#800000"/>
<line x1="1456.5" y1="292.3" x2="1532.5" y2="292.3" stroke="#ffff00"/>
<line x1="1456.5" y1="334.6" x2="1532.5" y2="334.6" stroke="#ff00ff"/>
<line x1="1456.5" y1="376.9" x2="1532.5" y2="376.9" stroke="#00ffff"/>
<line x1="1456.5" y1="419.3" x2="1532.5" y2="419.3" stroke="#0000ff"/>
<line x1="1456.5" y1="461.6" x2="1532.5" y2="461.6" stroke="#00ff00"/>
<line x1="1456.5" y1="503.9" x2="1532.5" y2="503.9" stroke="#ff0000"/>
<line x1="1456.5" y1="546.3" x2="1532.5" y2="546.3" stroke="#000000"/>
</g>
<g class="s" font-size="35" fill="#000">
<text x="1541.1" y="177.2">40 min</text>
<text x="1541.1" y="219.5">30 min</text>
<text x="1541.1" y="261.9">20 min</text>
<text x="1541.1" y="304.2">15 min</text>
<text x="1541.1" y="346.5">10 min</text>
<text x="1541.1" y="388.8">8 min</text>
<text x="1541.1" y="431.2">6 min</text>
<text x="1541.1" y="473.5">4 min</text>
<text x="1541.1" y="515.8">2 min</text>
<text x="1541.1" y="558.2">0 min</text>
</g>
<g fill="none" stroke-width="2.3" stroke-linejoin="round">
<path stroke="#000000" d="M73.2,397.2 L74.1,398.3 L75.0,399.6 L76.0,400.4 L76.9,401.1 L77.8,402.0 L78.7,403.0 L79.6,404.9 L80.5,406.6 L81.5,407.8 L82.4,409.5 L83.3,410.2 L84.2,412.0 L85.1,414.3 L86.1,415.9 L87.0,416.7 L87.9,418.9 L88.8,420.2 L89.7,422.0 L90.7,422.7 L91.6,424.4 L92.5,426.2 L93.4,428.1 L94.3,429.4 L95.2,431.4 L96.2,432.6 L97.1,433.1 L98.0,434.8 L98.9,436.5 L99.8,438.4 L100.8,439.8 L101.7,441.5 L102.6,443.2 L103.5,444.2 L104.4,445.7 L105.4,447.7 L106.3,448.7 L107.2,450.4 L108.1,451.8 L109.0,453.4 L109.9,454.5 L110.9,456.0 L111.8,457.8 L112.7,459.1 L113.6,460.8 L114.5,462.2 L115.5,463.2 L116.4,465.3 L117.3,467.1 L118.2,468.6 L119.1,470.2 L120.1,471.1 L121.0,473.2 L121.9,473.7 L122.8,474.9 L123.7,476.7 L124.6,478.0 L125.6,479.4 L126.5,480.3 L127.4,481.3 L128.3,482.2 L129.2,483.2 L130.2,483.7 L131.1,485.1 L132.0,486.0 L132.9,487.2 L133.8,488.2 L134.7,489.0 L135.7,490.0 L136.6,490.8 L137.5,492.0 L138.4,492.9 L139.3,494.0 L140.3,495.1 L141.2,496.1 L142.1,496.9 L143.0,497.8 L143.9,499.1 L144.9,499.8 L145.8,501.0 L146.7,502.0 L147.6,502.6 L148.5,503.1 L149.4,504.2 L150.4,505.4 L151.3,506.5 L152.2,507.0 L153.1,508.6 L154.0,509.1 L155.0,510.6 L155.9,511.6 L156.8,512.3 L157.7,513.3 L158.6,513.6 L159.6,514.7 L160.5,515.8 L161.4,516.6 L162.3,517.7 L163.2,519.1 L164.1,519.6 L165.1,520.3 L166.0,521.1 L166.9,522.8 L167.8,523.2 L168.7,524.6 L169.7,525.4 L170.6,526.2 L171.5,526.7 L172.4,528.6 L173.3,529.9 L174.3,530.2 L175.2,531.1 L176.1,532.1 L177.0,533.9 L177.9,534.1 L178.8,534.8 L179.8,536.2 L180.7,535.7 L181.6,537.3 L182.5,537.8 L183.4,538.2 L184.4,538.7 L185.3,539.0 L186.2,539.7 L187.1,540.6 L188.0,541.1 L188.9,542.2 L189.9,542.7 L190.8,542.2 L191.7,543.0 L192.6,543.5 L193.5,543.4 L194.5,543.9 L195.4,544.7 L196.3,545.1 L197.2,546.0 L198.1,546.8 L199.1,547.0 L200.0,547.6 L200.9,547.8 L201.8,548.7 L202.7,549.6 L203.6,550.1 L204.6,550.9 L205.5,551.6 L206.4,552.5 L207.3,553.0 L208.2,553.5 L209.2,553.6 L210.1,554.6 L211.0,556.0 L211.9,556.4 L212.8,556.3 L213.8,557.4 L214.7,558.4 L215.6,559.0 L216.5,560.5 L217.4,560.7 L218.3,561.0 L219.3,561.9 L220.2,561.9 L221.1,562.6 L222.0,563.4 L222.9,563.7 L223.9,563.6 L224.8,563.4 L225.7,563.6 L226.6,564.3 L227.5,565.0 L228.5,565.4 L229.4,565.4 L230.3,566.0 L231.2,566.2 L232.1,566.4 L233.0,567.2 L234.0,567.7 L234.9,567.9 L235.8,568.3 L236.7,568.9 L237.6,569.5 L238.6,570.0 L239.5,570.0 L240.4,570.5 L241.3,572.0 L242.2,572.6 L243.1,573.3 L244.1,574.0 L245.0,575.3 L245.9,575.9 L246.8,576.5 L247.7,577.4 L248.7,577.9 L249.6,579.4 L250.5,580.2 L251.4,580.4 L252.3,580.8 L253.3,581.4 L254.2,582.2 L255.1,582.6 L256.0,582.9 L256.9,583.4 L257.8,584.2 L258.8,584.9 L259.7,585.1 L260.6,585.6 L261.5,585.9 L262.4,586.7 L263.4,587.4 L264.3,587.7 L265.2,588.2 L266.1,588.1 L267.0,588.4 L268.0,589.7 L268.9,589.7 L269.8,589.7 L270.7,590.0 L271.6,590.9 L272.5,591.8 L273.5,591.9 L274.4,592.2 L275.3,593.0 L276.2,594.0 L277.1,595.0 L278.1,595.2 L279.0,595.9 L279.9,596.5 L280.8,596.6 L281.7,596.8 L282.7,598.1 L283.6,598.5 L284.5,598.3 L285.4,598.8 L286.3,599.4 L287.2,599.6 L288.2,600.4 L289.1,601.0 L290.0,601.1 L290.9,600.9 L291.8,601.1 L292.8,601.7 L293.7,601.9 L294.6,602.6 L295.5,603.3 L296.4,604.0 L297.3,603.9 L298.3,603.8 L299.2,604.1 L300.1,604.5 L301.0,605.0 L301.9,604.9 L302.9,605.4 L303.8,606.2 L304.7,605.9 L305.6,606.5 L306.5,606.7 L307.5,607.1 L308.4,607.1 L309.3,607.5 L310.2,607.5 L311.1,608.0 L312.0,608.7 L313.0,609.1 L313.9,609.1 L314.8,609.8 L315.7,609.7 L316.6,610.1 L317.6,610.7 L318.5,611.1 L319.4,611.2 L320.3,610.9 L321.2,611.1 L322.2,611.7 L323.1,612.4 L324.0,612.0 L324.9,612.7 L325.8,613.2 L326.7,613.8 L327.7,613.7 L328.6,614.3 L329.5,615.0 L330.4,615.4 L331.3,616.2 L332.3,616.8 L333.2,617.0 L334.1,618.2 L335.0,617.7 L335.9,617.3 L336.9,618.3 L337.8,618.6 L338.7,619.4 L339.6,619.3 L340.5,619.4 L341.4,619.4 L342.4,620.2 L343.3,620.4 L344.2,620.7 L345.1,620.7 L346.0,620.0 L347.0,620.5 L347.9,620.7 L348.8,621.0 L349.7,620.8 L350.6,620.1 L351.5,620.3 L352.5,620.3 L353.4,621.1 L354.3,620.9 L355.2,621.2 L356.1,621.0 L357.1,621.0 L358.0,621.3 L358.9,622.2 L359.8,622.2 L360.7,622.6 L361.7,622.6 L362.6,622.9 L363.5,622.8 L364.4,623.8 L365.3,624.1 L366.2,624.2 L367.2,624.2 L368.1,624.5 L369.0,624.7 L369.9,624.8 L370.8,624.7 L371.8,625.0 L372.7,625.2 L373.6,625.9 L374.5,626.7 L375.4,626.7 L376.4,626.3 L377.3,627.0 L378.2,626.6 L379.1,626.6 L380.0,626.7 L380.9,627.0 L381.9,627.2 L382.8,627.0 L383.7,627.1 L384.6,627.4 L385.5,627.8 L386.5,627.8 L387.4,627.6 L388.3,628.0 L389.2,628.4 L390.1,628.9 L391.1,628.8 L392.0,629.2 L392.9,629.6 L393.8,629.1 L394.7,629.4 L395.6,630.1 L396.6,630.1 L397.5,629.3 L398.4,629.6 L399.3,630.2 L400.2,630.5 L401.2,630.2 L402.1,630.2 L403.0,630.3 L403.9,630.6 L404.8,630.6 L405.7,630.4 L406.7,630.6 L407.6,631.0 L408.5,631.7 L409.4,631.5 L410.3,631.1 L411.3,631.3 L412.2,632.0 L413.1,632.0 L414.0,631.6 L414.9,632.1 L415.9,632.1 L416.8,631.8 L417.7,631.6 L418.6,632.6 L419.5,633.2 L420.4,632.8 L421.4,632.6 L422.3,632.8 L423.2,632.9 L424.1,633.1 L425.0,632.7 L426.0,633.6 L426.9,633.4 L427.8,633.8 L428.7,633.8 L429.6,634.2 L430.6,634.2 L431.5,634.0 L432.4,634.0 L433.3,633.5 L434.2,633.9 L435.1,634.1 L436.1,634.2 L437.0,634.4 L437.9,634.2 L438.8,634.7 L439.7,635.0 L440.7,635.3 L441.6,635.5 L442.5,635.7 L443.4,635.5 L444.3,635.8 L445.3,636.0 L446.2,636.1 L447.1,636.0 L448.0,636.3 L448.9,636.1 L449.8,636.4 L450.8,636.2 L451.7,635.7 L452.6,636.0 L453.5,636.2 L454.4,636.7 L455.4,636.3 L456.3,636.3 L457.2,636.1 L458.1,636.4 L459.0,636.2 L459.9,635.8 L460.9,635.9 L461.8,636.3 L462.7,636.7 L463.6,636.6 L464.5,636.3 L465.5,636.1 L466.4,636.6 L467.3,636.8 L468.2,636.9 L469.1,637.1 L470.1,637.0 L471.0,636.8 L471.9,636.4 L472.8,636.8 L473.7,636.8 L474.6,638.0 L475.6,637.8 L476.5,638.1 L477.4,638.5 L478.3,638.7 L479.2,639.0 L480.2,638.8 L481.1,639.1 L482.0,640.1 L482.9,640.6 L483.8,639.9 L484.8,640.0 L485.7,639.7 L486.6,640.1 L487.5,640.4 L488.4,640.5 L489.3,640.3 L490.3,640.3 L491.2,640.5 L492.1,640.2 L493.0,640.1 L493.9,640.5 L494.9,640.7 L495.8,641.1 L496.7,640.7 L497.6,640.4 L498.5,640.5 L499.5,640.4 L500.4,640.2 L501.3,640.0"/>
<path stroke="#ff0000" d="M73.2,390.4 L74.1,390.9 L75.0,391.5 L76.0,392.0 L76.9,393.6 L77.8,394.4 L78.7,395.6 L79.6,397.4 L80.5,399.3 L81.5,400.9 L82.4,403.0 L83.3,405.6 L84.2,407.8 L85.1,409.4 L86.1,411.5 L87.0,413.7 L87.9,415.4 L88.8,417.7 L89.7,419.4 L90.7,420.6 L91.6,422.3 L92.5,424.1 L93.4,425.2 L94.3,426.0 L95.2,428.4 L96.2,429.4 L97.1,431.0 L98.0,432.2 L98.9,433.7 L99.8,433.9 L100.8,435.6 L101.7,436.9 L102.6,438.5 L103.5,440.1 L104.4,441.4 L105.4,442.6 L106.3,443.5 L107.2,445.1 L108.1,446.3 L109.0,448.4 L109.9,449.8 L110.9,451.5 L111.8,453.3 L112.7,453.3 L113.6,455.3 L114.5,456.9 L115.5,458.7 L116.4,460.4 L117.3,462.2 L118.2,463.2 L119.1,465.1 L120.1,466.7 L121.0,468.2 L121.9,470.2 L122.8,471.5 L123.7,473.0 L124.6,474.2 L125.6,475.7 L126.5,476.9 L127.4,477.9 L128.3,478.8 L129.2,480.4 L130.2,481.1 L131.1,482.6 L132.0,483.6 L132.9,484.5 L133.8,485.5 L134.7,487.3 L135.7,488.2 L136.6,488.9 L137.5,489.4 L138.4,490.6 L139.3,491.1 L140.3,492.9 L141.2,493.7 L142.1,494.5 L143.0,495.5 L143.9,496.5 L144.9,497.3 L145.8,498.8 L146.7,499.6 L147.6,500.4 L148.5,501.7 L149.4,503.5 L150.4,504.6 L151.3,505.5 L152.2,506.6 L153.1,507.1 L154.0,508.3 L155.0,508.4 L155.9,509.5 L156.8,511.1 L157.7,512.1 L158.6,512.6 L159.6,513.5 L160.5,515.0 L161.4,515.6 L162.3,516.9 L163.2,517.2 L164.1,518.7 L165.1,519.6 L166.0,520.5 L166.9,521.8 L167.8,522.9 L168.7,523.5 L169.7,524.4 L170.6,525.6 L171.5,526.5 L172.4,526.9 L173.3,527.9 L174.3,529.0 L175.2,529.9 L176.1,531.5 L177.0,532.1 L177.9,533.0 L178.8,533.4 L179.8,534.4 L180.7,534.9 L181.6,535.9 L182.5,536.2 L183.4,537.1 L184.4,537.6 L185.3,538.0 L186.2,538.7 L187.1,539.3 L188.0,539.5 L188.9,539.6 L189.9,541.1 L190.8,541.8 L191.7,541.9 L192.6,542.1 L193.5,542.9 L194.5,543.4 L195.4,544.0 L196.3,543.8 L197.2,544.7 L198.1,545.8 L199.1,546.7 L200.0,547.4 L200.9,547.2 L201.8,548.0 L202.7,547.9 L203.6,548.7 L204.6,549.4 L205.5,550.1 L206.4,550.7 L207.3,551.3 L208.2,552.6 L209.2,553.4 L210.1,554.2 L211.0,554.7 L211.9,555.4 L212.8,556.4 L213.8,557.1 L214.7,557.0 L215.6,557.1 L216.5,558.4 L217.4,558.9 L218.3,559.6 L219.3,560.4 L220.2,560.6 L221.1,561.1 L222.0,561.1 L222.9,561.6 L223.9,562.3 L224.8,563.5 L225.7,563.5 L226.6,563.3 L227.5,563.9 L228.5,563.8 L229.4,564.0 L230.3,565.0 L231.2,565.2 L232.1,565.3 L233.0,565.4 L234.0,565.8 L234.9,566.3 L235.8,566.9 L236.7,567.4 L237.6,567.9 L238.6,568.8 L239.5,569.0 L240.4,569.8 L241.3,570.3 L242.2,571.3 L243.1,572.0 L244.1,572.8 L245.0,573.4 L245.9,574.3 L246.8,575.0 L247.7,576.2 L248.7,577.1 L249.6,578.0 L250.5,579.1 L251.4,579.7 L252.3,579.9 L253.3,580.5 L254.2,581.6 L255.1,582.1 L256.0,582.4 L256.9,583.6 L257.8,583.9 L258.8,584.3 L259.7,584.6 L260.6,585.1 L261.5,586.3 L262.4,587.1 L263.4,586.5 L264.3,587.1 L265.2,587.1 L266.1,587.3 L267.0,587.9 L268.0,588.9 L268.9,588.8 L269.8,589.4 L270.7,589.8 L271.6,590.2 L272.5,590.6 L273.5,591.0 L274.4,592.3 L275.3,593.2 L276.2,593.5 L277.1,594.0 L278.1,594.2 L279.0,594.9 L279.9,595.6 L280.8,595.4 L281.7,595.8 L282.7,596.3 L283.6,596.8 L284.5,597.8 L285.4,598.4 L286.3,598.8 L287.2,599.6 L288.2,600.0 L289.1,600.2 L290.0,600.8 L290.9,600.8 L291.8,601.0 L292.8,601.5 L293.7,601.9 L294.6,602.0 L295.5,602.2 L296.4,602.6 L297.3,603.4 L298.3,604.1 L299.2,603.4 L300.1,604.1 L301.0,604.5 L301.9,605.3 L302.9,605.6 L303.8,605.8 L304.7,605.6 L305.6,606.8 L306.5,607.1 L307.5,607.1 L308.4,607.3 L309.3,607.7 L310.2,607.9 L311.1,608.5 L312.0,608.4 L313.0,608.2 L313.9,608.6 L314.8,609.1 L315.7,608.9 L316.6,609.2 L317.6,610.0 L318.5,610.3 L319.4,610.7 L320.3,610.8 L321.2,610.6 L322.2,611.2 L323.1,611.5 L324.0,611.8 L324.9,612.5 L325.8,612.8 L326.7,612.8 L327.7,612.9 L328.6,614.0 L329.5,614.0 L330.4,614.6 L331.3,614.5 L332.3,614.9 L333.2,614.9 L334.1,615.6 L335.0,616.3 L335.9,617.0 L336.9,617.7 L337.8,617.5 L338.7,617.6 L339.6,617.7 L340.5,618.0 L341.4,618.9 L342.4,619.1 L343.3,619.2 L344.2,619.3 L345.1,619.2 L346.0,619.0 L347.0,619.3 L347.9,620.3 L348.8,620.5 L349.7,620.9 L350.6,620.8 L351.5,620.9 L352.5,620.5 L353.4,620.6 L354.3,620.2 L355.2,620.1 L356.1,620.6 L357.1,620.5 L358.0,620.8 L358.9,621.0 L359.8,620.9 L360.7,621.8 L361.7,622.0 L362.6,621.8 L363.5,622.5 L364.4,622.8 L365.3,623.0 L366.2,623.5 L367.2,624.1 L368.1,624.3 L369.0,624.6 L369.9,624.2 L370.8,624.4 L371.8,624.4 L372.7,625.1 L373.6,625.0 L374.5,625.2 L375.4,625.1 L376.4,625.6 L377.3,625.5 L378.2,625.4 L379.1,625.3 L380.0,626.2 L380.9,626.8 L381.9,627.3 L382.8,626.9 L383.7,626.9 L384.6,627.0 L385.5,627.6 L386.5,627.3 L387.4,627.1 L388.3,627.6 L389.2,628.0 L390.1,627.8 L391.1,628.0 L392.0,627.9 L392.9,628.5 L393.8,628.6 L394.7,628.9 L395.6,629.3 L396.6,629.4 L397.5,629.5 L398.4,629.4 L399.3,629.7 L400.2,629.7 L401.2,630.1 L402.1,630.5 L403.0,629.9 L403.9,630.5 L404.8,629.9 L405.7,630.0 L406.7,631.2 L407.6,631.3 L408.5,631.4 L409.4,631.5 L410.3,631.7 L411.3,632.1 L412.2,631.9 L413.1,632.4 L414.0,632.5 L414.9,633.2 L415.9,633.8 L416.8,633.5 L417.7,634.0 L418.6,634.5 L419.5,634.6 L420.4,634.2 L421.4,634.4 L422.3,634.7 L423.2,634.4 L424.1,634.1 L425.0,634.3 L426.0,634.4 L426.9,634.5 L427.8,633.6 L428.7,634.0 L429.6,633.6 L430.6,634.0 L431.5,634.0 L432.4,634.9 L433.3,634.6 L434.2,634.6 L435.1,634.7 L436.1,634.9 L437.0,635.4 L437.9,635.7 L438.8,635.5 L439.7,635.7 L440.7,635.7 L441.6,635.9 L442.5,636.1 L443.4,636.4 L444.3,635.8 L445.3,636.5 L446.2,636.6 L447.1,636.7 L448.0,637.0 L448.9,637.1 L449.8,636.6 L450.8,636.3 L451.7,636.4 L452.6,635.5 L453.5,635.8 L454.4,635.8 L455.4,636.4 L456.3,636.2 L457.2,635.8 L458.1,636.3 L459.0,635.8 L459.9,636.4 L460.9,636.8 L461.8,636.6 L462.7,636.8 L463.6,636.4 L464.5,636.8 L465.5,636.6 L466.4,637.1 L467.3,636.8 L468.2,636.3 L469.1,636.4 L470.1,636.3 L471.0,636.1 L471.9,636.7 L472.8,637.1 L473.7,636.9 L474.6,636.8 L475.6,637.0 L476.5,637.4 L477.4,637.0 L478.3,637.6 L479.2,637.7 L480.2,637.7 L481.1,637.5 L482.0,637.9 L482.9,638.2 L483.8,637.5 L484.8,638.1 L485.7,637.9 L486.6,638.2 L487.5,638.4 L488.4,638.5 L489.3,638.6 L490.3,638.5 L491.2,639.4 L492.1,639.0 L493.0,638.9 L493.9,639.1 L494.9,639.1 L495.8,638.3 L496.7,638.1 L497.6,638.3 L498.5,638.6 L499.5,639.0 L500.4,638.7 L501.3,639.1"/>
<path stroke="#0000ff" d="M73.2,402.3 L74.1,403.5 L75.0,405.4 L76.0,407.0 L76.9,407.8 L77.8,409.9 L78.7,411.1 L79.6,412.4 L80.5,413.8 L81.5,415.7 L82.4,417.1 L83.3,418.6 L84.2,419.5 L85.1,421.4 L86.1,423.9 L87.0,425.8 L87.9,427.7 L88.8,429.8 L89.7,431.8 L90.7,433.6 L91.6,435.6 L92.5,437.1 L93.4,437.8 L94.3,438.5 L95.2,439.3 L96.2,440.9 L97.1,442.1 L98.0,444.3 L98.9,445.4 L99.8,446.8 L100.8,447.5 L101.7,449.3 L102.6,450.5 L103.5,451.8 L104.4,452.5 L105.4,453.3 L106.3,454.8 L107.2,455.4 L108.1,456.8 L109.0,458.5 L109.9,459.6 L110.9,461.0 L111.8,462.1 L112.7,463.5 L113.6,464.4 L114.5,466.0 L115.5,468.0 L116.4,469.4 L117.3,470.8 L118.2,472.8 L119.1,474.4 L120.1,475.9 L121.0,477.8 L121.9,478.4 L122.8,479.5 L123.7,480.2 L124.6,481.7 L125.6,482.8 L126.5,483.6 L127.4,484.5 L128.3,485.7 L129.2,487.2 L130.2,487.5 L131.1,488.5 L132.0,489.4 L132.9,490.2 L133.8,491.2 L134.7,492.4 L135.7,493.5 L136.6,494.5 L137.5,496.1 L138.4,496.6 L139.3,497.9 L140.3,498.5 L141.2,499.7 L142.1,500.2 L143.0,501.3 L143.9,501.3 L144.9,502.4 L145.8,503.3 L146.7,504.6 L147.6,505.4 L148.5,506.1 L149.4,506.9 L150.4,507.7 L151.3,508.6 L152.2,508.9 L153.1,509.7 L154.0,510.6 L155.0,510.9 L155.9,511.8 L156.8,512.4 L157.7,513.1 L158.6,514.0 L159.6,514.6 L160.5,515.4 L161.4,516.4 L162.3,516.8 L163.2,517.7 L164.1,518.9 L165.1,519.7 L166.0,520.4 L166.9,521.1 L167.8,522.0 L168.7,523.0 L169.7,523.9 L170.6,525.2 L171.5,526.4 L172.4,527.1 L173.3,528.2 L174.3,529.1 L175.2,529.8 L176.1,530.5 L177.0,531.2 L177.9,532.6 L178.8,533.5 L179.8,534.1 L180.7,535.3 L181.6,536.2 L182.5,536.4 L183.4,537.2 L184.4,538.0 L185.3,538.1 L186.2,538.5 L187.1,538.9 L188.0,539.7 L188.9,540.4 L189.9,541.0 L190.8,541.3 L191.7,542.5 L192.6,542.9 L193.5,543.0 L194.5,543.7 L195.4,544.1 L196.3,544.5 L197.2,544.9 L198.1,545.6 L199.1,546.5 L200.0,546.1 L200.9,547.2 L201.8,547.3 L202.7,548.7 L203.6,549.2 L204.6,549.8 L205.5,549.8 L206.4,550.1 L207.3,550.9 L208.2,552.2 L209.2,553.1 L210.1,553.9 L211.0,554.6 L211.9,555.0 L212.8,555.8 L213.8,556.4 L214.7,556.5 L215.6,556.9 L216.5,558.4 L217.4,559.2 L218.3,559.7 L219.3,559.8 L220.2,560.6 L221.1,560.6 L222.0,561.4 L222.9,561.8 L223.9,563.0 L224.8,563.7 L225.7,563.9 L226.6,564.4 L227.5,565.8 L228.5,566.2 L229.4,566.6 L230.3,566.9 L231.2,567.7 L232.1,567.7 L233.0,568.4 L234.0,568.6 L234.9,569.4 L235.8,570.1 L236.7,570.8 L237.6,571.7 L238.6,571.8 L239.5,572.1 L240.4,572.5 L241.3,573.4 L242.2,574.2 L243.1,574.7 L244.1,575.2 L245.0,575.6 L245.9,575.8 L246.8,576.7 L247.7,577.2 L248.7,577.4 L249.6,577.7 L250.5,577.6 L251.4,578.4 L252.3,579.4 L253.3,580.2 L254.2,580.8 L255.1,581.0 L256.0,581.2 L256.9,581.7 L257.8,582.3 L258.8,582.6 L259.7,582.9 L260.6,583.1 L261.5,583.4 L262.4,584.1 L263.4,584.6 L264.3,584.2 L265.2,584.7 L266.1,585.1 L267.0,585.4 L268.0,585.4 L268.9,586.0 L269.8,586.4 L270.7,586.9 L271.6,587.2 L272.5,588.1 L273.5,588.4 L274.4,588.6 L275.3,589.0 L276.2,589.7 L277.1,590.5 L278.1,590.8 L279.0,591.5 L279.9,592.0 L280.8,593.4 L281.7,594.3 L282.7,594.4 L283.6,595.1 L284.5,595.8 L285.4,596.6 L286.3,596.4 L287.2,597.5 L288.2,597.8 L289.1,598.7 L290.0,599.0 L290.9,598.7 L291.8,598.6 L292.8,599.8 L293.7,600.7 L294.6,600.6 L295.5,601.5 L296.4,602.4 L297.3,602.4 L298.3,603.0 L299.2,603.6 L300.1,603.3 L301.0,603.9 L301.9,604.5 L302.9,604.6 L303.8,604.9 L304.7,604.8 L305.6,605.3 L306.5,605.2 L307.5,605.5 L308.4,605.6 L309.3,606.0 L310.2,606.7 L311.1,607.0 L312.0,607.5 L313.0,608.3 L313.9,608.8 L314.8,608.5 L315.7,609.4 L316.6,609.5 L317.6,609.8 L318.5,609.7 L319.4,610.0 L320.3,609.9 L321.2,610.0 L322.2,610.2 L323.1,610.5 L324.0,611.1 L324.9,610.7 L325.8,611.0 L326.7,610.9 L327.7,610.6 L328.6,610.3 L329.5,610.3 L330.4,610.0 L331.3,610.8 L332.3,610.6 L333.2,610.2 L334.1,610.4 L335.0,611.1 L335.9,611.0 L336.9,611.3 L337.8,611.5 L338.7,611.2 L339.6,611.5 L340.5,612.0 L341.4,612.2 L342.4,611.6 L343.3,612.2 L344.2,612.1 L345.1,612.2 L346.0,612.0 L347.0,612.3 L347.9,612.7 L348.8,612.8 L349.7,613.0 L350.6,611.9 L351.5,612.2 L352.5,612.5 L353.4,612.1 L354.3,612.2 L355.2,612.6 L356.1,612.6 L357.1,612.8 L358.0,612.7 L358.9,612.6 L359.8,613.2 L360.7,613.6 L361.7,613.8 L362.6,613.6 L363.5,613.8 L364.4,613.9 L365.3,613.9 L366.2,614.5 L367.2,614.6 L368.1,614.3 L369.0,614.4 L369.9,614.5 L370.8,615.1 L371.8,615.5 L372.7,616.1 L373.6,616.4 L374.5,616.7 L375.4,617.5 L376.4,617.4 L377.3,618.2 L378.2,618.6 L379.1,618.9 L380.0,619.7 L380.9,620.8 L381.9,620.7 L382.8,621.1 L383.7,621.7 L384.6,621.9 L385.5,622.2 L386.5,623.2 L387.4,623.6 L388.3,624.5 L389.2,624.7 L390.1,624.4 L391.1,625.1 L392.0,625.1 L392.9,626.0 L393.8,626.2 L394.7,626.0 L395.6,625.8 L396.6,626.2 L397.5,626.4 L398.4,626.3 L399.3,627.6 L400.2,628.2 L401.2,627.6 L402.1,627.2 L403.0,627.8 L403.9,628.4 L404.8,628.8 L405.7,629.2 L406.7,629.8 L407.6,630.0 L408.5,630.3 L409.4,630.3 L410.3,630.4 L411.3,630.5 L412.2,630.7 L413.1,631.4 L414.0,631.1 L414.9,632.3 L415.9,632.1 L416.8,632.0 L417.7,632.3 L418.6,631.8 L419.5,632.5 L420.4,632.9 L421.4,633.0 L422.3,632.7 L423.2,632.5 L424.1,632.7 L425.0,632.6 L426.0,633.0 L426.9,633.3 L427.8,633.2 L428.7,633.6 L429.6,633.4 L430.6,633.5 L431.5,633.3 L432.4,633.8 L433.3,634.0 L434.2,634.1 L435.1,634.2 L436.1,634.6 L437.0,634.6 L437.9,635.1 L438.8,634.8 L439.7,634.7 L440.7,634.9 L441.6,635.2 L442.5,635.6 L443.4,635.8 L444.3,635.8 L445.3,636.0 L446.2,636.2 L447.1,635.9 L448.0,635.8 L448.9,635.9 L449.8,636.1 L450.8,635.9 L451.7,636.1 L452.6,636.1 L453.5,635.9 L454.4,635.6 L455.4,635.5 L456.3,635.9 L457.2,635.5 L458.1,636.0 L459.0,636.0 L459.9,635.6 L460.9,635.0 L461.8,635.4 L462.7,635.8 L463.6,636.0 L464.5,636.4 L465.5,636.2 L466.4,636.3 L467.3,636.4 L468.2,635.9 L469.1,636.3 L470.1,635.7 L471.0,635.8 L471.9,636.0 L472.8,636.5 L473.7,636.8 L474.6,637.6 L475.6,637.3 L476.5,637.5 L477.4,637.5 L478.3,637.8 L479.2,637.8 L480.2,638.4 L481.1,639.0 L482.0,638.5 L482.9,638.1 L483.8,639.2 L484.8,638.5 L485.7,638.6 L486.6,638.7 L487.5,639.2 L488.4,639.3 L489.3,638.8 L490.3,639.1 L491.2,639.0 L492.1,639.0 L493.0,638.4 L493.9,638.4 L494.9,639.2 L495.8,639.3 L496.7,639.6 L497.6,639.8 L498.5,639.7 L499.5,639.1 L500.4,639.2 L501.3,639.1"/>
</g>
<g stroke="#000" stroke-width="1.35" fill="none">
<rect x="73.2" y="364.6" width="428.7" height="318.5"/>
<path d="M73.2,683.1 H67.0 M73.2,656.6 H69.9 M73.2,630.0 H67.0 M73.2,603.5 H69.9 M73.2,576.9 H67.0 M73.2,550.4 H69.9 M73.2,523.9 H67.0 M73.2,497.3 H69.9 M73.2,470.8 H67.0 M73.2,444.2 H69.9 M73.2,417.7 H67.0 M73.2,391.1 H69.9 M73.2,364.6 H67.0 M73.2,683.1 V689.5 M103.8,683.1 V686.7 M134.4,683.1 V689.5 M165.1,683.1 V686.7 M195.7,683.1 V689.5 M226.3,683.1 V686.7 M256.9,683.1 V689.5 M287.6,683.1 V686.7 M318.2,683.1 V689.5 M348.8,683.1 V686.7 M379.4,683.1 V689.5 M410.0,683.1 V686.7 M440.7,683.1 V689.5 M471.3,683.1 V686.7 M501.9,683.1 V689.5"/>
</g>
<g class="s" font-size="15.5" fill="#000">
<text x="62.4" y="687.6" text-anchor="end">0</text>
<text x="62.4" y="634.5" text-anchor="end">20</text>
<text x="62.4" y="581.4" text-anchor="end">40</text>
<text x="62.4" y="528.4" text-anchor="end">60</text>
<text x="62.4" y="475.3" text-anchor="end">80</text>
<text x="62.4" y="422.2" text-anchor="end">100</text>
<text x="62.4" y="369.1" text-anchor="end">120</text>
<text x="73.2" y="706.0" text-anchor="middle">0</text>
<text x="134.4" y="706.0" text-anchor="middle">200</text>
<text x="195.7" y="706.0" text-anchor="middle">400</text>
<text x="256.9" y="706.0" text-anchor="middle">600</text>
<text x="318.2" y="706.0" text-anchor="middle">800</text>
<text x="379.4" y="706.0" text-anchor="middle">1000</text>
<text x="440.7" y="706.0" text-anchor="middle">1200</text>
<text x="501.9" y="706.0" text-anchor="middle">1400</text>
</g>
<text class="s" x="287.9" y="735.5" font-size="19.3" text-anchor="middle">Distance (<tspan class="r">&#956;</tspan>m)</text>
<text class="s" transform="translate(26.8,526.7) rotate(-90)" font-size="19.2" text-anchor="middle">Fluorescence intensity</text>
<text class="r" x="432.7" y="439" font-size="98">c</text>
</svg></body></html>
